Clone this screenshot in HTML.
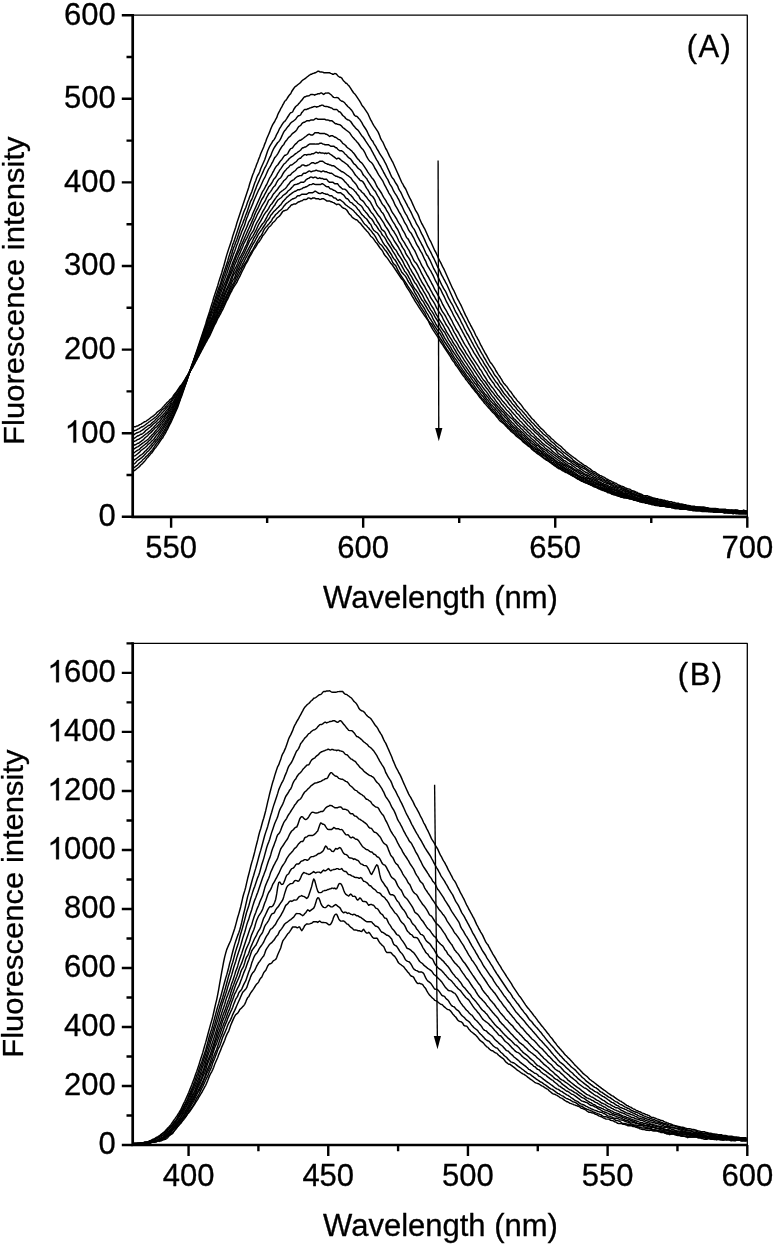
<!DOCTYPE html>
<html><head><meta charset="utf-8"><title>Fluorescence spectra</title>
<style>html,body{margin:0;padding:0;background:#fff}svg{display:block;will-change:transform}</style></head>
<body>
<svg width="774" height="1245" viewBox="0 0 774 1245" font-family="Liberation Sans, sans-serif" font-size="31.0" fill="#000" stroke="#000" stroke-width="0.32" stroke-linejoin="round">
<rect width="774" height="1245" fill="#fff" stroke="none"/>
<g fill="none" stroke="#000" stroke-width="1.45" stroke-linejoin="round">
<path d="M132.7 471.8L133.7 471.0L134.7 470.3L135.7 469.6L136.7 468.8L137.7 468.0L138.7 467.2L139.7 466.4L140.7 465.0L141.7 464.2L142.7 463.4L143.7 462.1L144.7 461.2L145.7 459.8L146.7 458.3L147.7 457.5L148.7 456.1L149.7 455.2L150.7 453.8L151.7 453.0L152.7 451.5L153.7 450.0L154.7 448.5L155.7 447.7L156.7 446.2L157.7 444.8L158.7 443.3L159.7 441.8L160.7 440.3L161.7 438.8L162.7 437.9L163.7 435.8L164.7 434.3L165.7 432.7L166.7 430.5L167.7 428.9L168.7 426.8L169.7 424.6L170.7 422.9L171.7 420.7L172.7 418.5L173.7 416.3L174.7 414.0L175.7 411.8L176.7 409.5L177.7 407.2L178.7 404.3L179.7 401.3L180.7 398.3L181.7 395.9L182.7 393.0L183.7 390.0L184.7 387.0L185.7 384.0L186.7 381.0L187.7 377.9L188.7 374.9L189.7 371.9L190.7 368.3L191.7 365.3L192.7 362.9L193.7 360.0L194.7 357.1L195.7 354.1L196.7 351.0L197.7 348.0L198.7 345.0L199.7 341.9L200.7 338.9L201.7 336.0L202.7 333.1L203.7 330.0L204.7 327.0L205.7 323.9L206.7 320.3L207.7 317.3L208.7 314.3L209.7 311.2L210.7 307.6L211.7 304.5L212.7 301.4L213.7 297.8L214.7 294.8L215.7 291.7L216.7 288.8L217.7 285.7L218.7 282.1L219.7 279.0L220.7 276.0L221.7 273.0L222.7 269.3L223.7 266.2L224.7 262.5L225.7 258.8L226.7 255.1L227.7 252.0L228.7 248.9L229.7 246.0L230.7 243.0L231.7 240.0L232.7 236.3L233.7 233.2L234.7 230.2L235.7 227.2L236.7 223.6L237.7 220.6L238.7 217.6L239.7 214.6L240.7 211.5L241.7 208.5L242.7 205.5L243.7 202.5L244.7 199.5L245.7 196.5L246.7 193.6L247.7 190.5L248.7 187.5L249.7 183.8L250.7 180.8L251.7 177.7L252.7 174.8L253.7 172.5L254.7 169.5L255.7 167.2L256.7 164.3L257.7 162.0L258.7 159.1L259.7 156.7L260.7 153.8L261.7 151.5L262.7 149.3L263.7 147.0L264.7 144.1L265.7 141.7L266.7 138.8L267.7 136.5L268.7 134.2L269.7 131.9L270.7 129.1L271.7 126.8L272.7 124.6L273.7 123.0L274.7 121.5L275.7 119.3L276.7 117.7L277.7 114.8L278.7 112.6L279.7 110.9L280.7 108.7L281.7 107.2L282.7 105.0L283.7 103.4L284.7 101.3L285.7 100.5L286.7 99.1L287.7 97.5L288.7 96.0L289.7 94.6L290.7 93.7L291.7 91.5L292.7 90.0L293.7 88.5L294.7 87.1L295.7 86.3L296.7 85.6L297.7 84.8L298.7 84.0L299.7 83.2L300.7 82.4L301.7 81.0L302.7 80.2L303.7 79.5L304.7 78.8L305.7 78.1L306.7 77.3L307.7 76.5L308.7 75.7L309.7 75.0L310.7 74.3L311.7 74.2L312.7 73.5L313.7 73.4L314.7 72.8L315.7 72.7L316.7 72.0L317.7 71.3L318.7 71.2L319.7 71.9L320.7 72.0L321.7 72.0L322.7 72.1L323.7 72.7L324.7 72.8L325.7 72.7L326.7 72.7L327.7 72.7L328.7 72.7L329.7 72.8L330.7 73.4L331.7 73.6L332.7 74.3L333.7 74.2L334.7 73.5L335.7 73.6L336.7 74.3L337.7 75.7L338.7 76.5L339.7 77.2L340.7 77.3L341.7 78.0L342.7 79.6L343.7 81.0L344.7 81.8L345.7 83.2L346.7 83.3L347.7 84.7L348.7 85.5L349.7 86.9L350.7 88.4L351.7 90.0L352.7 91.5L353.7 93.0L354.7 93.8L355.7 95.2L356.7 96.7L357.7 98.2L358.7 99.7L359.7 101.2L360.7 102.8L361.7 104.9L362.7 106.4L363.7 107.3L364.7 108.8L365.7 110.3L366.7 111.8L367.7 113.3L368.7 115.5L369.7 117.7L370.7 119.9L371.7 121.5L372.7 123.7L373.7 125.3L374.7 126.8L375.7 128.3L376.7 129.8L377.7 131.3L378.7 133.4L379.7 135.8L380.7 138.7L381.7 140.3L382.7 141.8L383.7 144.0L384.7 146.3L385.7 148.5L386.7 150.0L387.7 152.2L388.7 154.4L389.7 156.7L390.7 158.3L391.7 160.4L392.7 162.0L393.7 164.3L394.7 166.5L395.7 168.8L396.7 171.0L397.7 173.2L398.7 175.4L399.7 177.7L400.7 180.0L401.7 182.3L402.7 183.8L403.7 186.0L404.7 187.5L405.7 189.0L406.7 191.3L407.7 193.6L408.7 195.7L409.7 197.9L410.7 199.6L411.7 201.8L412.7 204.1L413.7 206.3L414.7 208.5L415.7 210.7L416.7 212.2L417.7 213.8L418.7 216.1L419.7 219.0L420.7 221.3L421.7 223.5L422.7 225.1L423.7 227.2L424.7 228.8L425.7 231.0L426.7 233.2L427.7 235.5L428.7 237.8L429.7 239.9L430.7 241.5L431.7 243.7L432.7 246.0L433.7 248.3L434.7 250.5L435.7 252.1L436.7 254.3L437.7 256.4L438.7 258.7L439.7 260.9L440.7 262.6L441.7 264.7L442.7 266.9L443.7 268.6L444.7 270.7L445.7 273.0L446.7 275.3L447.7 277.5L448.7 279.8L449.7 282.1L450.7 284.3L451.7 286.5L452.7 288.7L453.7 290.3L454.7 292.5L455.7 294.7L456.7 297.0L457.7 299.2L458.7 300.8L459.7 302.9L460.7 304.6L461.7 306.8L462.7 309.0L463.7 311.2L464.7 313.4L465.7 315.7L466.7 317.3L467.7 319.5L468.7 321.7L469.7 323.3L470.7 325.5L471.7 327.1L472.7 329.2L473.7 330.8L474.7 333.0L475.7 335.3L476.7 336.8L477.7 338.9L478.7 340.5L479.7 342.7L480.7 344.9L481.7 346.5L482.7 348.7L483.7 350.3L484.7 352.4L485.7 354.0L486.7 355.6L487.7 357.7L488.7 359.3L489.7 361.4L490.7 362.9L491.7 363.8L492.7 365.3L493.7 366.8L494.7 368.3L495.7 370.5L496.7 372.0L497.7 373.6L498.7 375.1L499.7 376.5L500.7 378.1L501.7 379.6L502.7 381.7L503.7 383.2L504.7 384.1L505.7 385.5L506.7 386.3L507.7 387.8L508.7 389.3L509.7 390.7L510.7 391.6L511.7 393.1L512.7 394.6L513.7 396.0L514.7 397.5L515.7 398.3L516.7 399.8L517.7 401.2L518.7 402.0L519.7 403.4L520.7 404.3L521.7 405.7L522.7 407.2L523.7 408.7L524.7 409.6L525.7 411.0L526.7 411.8L527.7 413.2L528.7 414.7L529.7 415.6L530.7 417.0L531.7 418.4L532.7 419.2L533.7 420.0L534.7 421.5L535.7 422.3L536.7 423.7L537.7 424.5L538.7 426.0L539.7 426.8L540.7 428.2L541.7 428.9L542.7 429.7L543.7 430.6L544.7 432.0L545.7 432.8L546.7 434.2L547.7 435.0L548.7 435.7L549.7 436.5L550.7 437.9L551.7 438.7L552.7 439.5L553.7 440.3L554.7 441.7L555.7 442.4L556.7 443.2L557.7 444.0L558.7 444.8L559.7 445.5L560.7 446.3L561.7 447.1L562.7 448.4L563.7 449.2L564.7 450.0L565.7 451.4L566.7 452.2L567.7 452.9L568.7 453.7L569.7 454.5L570.7 455.2L571.7 456.0L572.7 456.7L573.7 457.5L574.7 458.2L575.7 458.9L576.7 459.7L577.7 460.5L578.7 461.2L579.7 462.0L580.7 462.7L581.7 463.4L582.7 464.2L583.7 464.9L584.7 465.7L585.7 465.8L586.7 466.5L587.7 467.3L588.7 468.0L589.7 468.7L590.7 469.4L591.7 470.2L592.7 471.0L593.7 471.7L594.7 471.8L595.7 472.5L596.7 473.3L597.7 474.0L598.7 474.7L599.7 475.4L600.7 475.6L601.7 476.2L602.7 476.9L603.7 477.0L604.7 477.7L605.7 478.4L606.7 479.2L607.7 479.3L608.7 480.0L609.7 480.7L610.7 480.8L611.7 481.5L612.7 482.2L613.7 482.3L614.7 483.0L615.7 483.1L616.7 483.8L617.7 484.5L618.7 485.2L619.7 485.3L620.7 485.9L621.7 486.1L622.7 486.7L623.7 486.8L624.7 487.5L625.7 488.2L626.7 488.3L627.7 488.9L628.7 489.0L629.7 489.1L630.7 489.8L631.7 490.5L632.7 490.6L633.7 491.2L634.7 491.3L635.7 491.9L636.7 492.1L637.7 492.8L638.7 493.4L639.7 493.5L640.7 494.2L641.7 494.3L642.7 495.0L643.7 495.7L644.7 495.7L645.7 495.8L646.7 495.8L647.7 495.8L648.7 496.5L649.7 496.5L650.7 497.2L651.7 497.3L652.7 497.9L653.7 498.0L654.7 498.1L655.7 498.7L656.7 498.7L657.7 498.8L658.7 499.4L659.7 499.5L660.7 499.5L661.7 499.6L662.7 500.2L663.7 500.2L664.7 500.3L665.7 500.9L666.7 501.0L667.7 501.0L668.7 501.7L669.7 501.8L670.7 501.8L671.7 501.8L672.7 502.4L673.7 502.5L674.7 502.5L675.7 503.2L676.7 503.2L677.7 503.3L678.7 503.3L679.7 504.0L680.7 504.0L681.7 504.0L682.7 504.1L683.7 504.7L684.7 504.7L685.7 504.8L686.7 505.4L687.7 505.5L688.7 505.5L689.7 505.6L690.7 506.2L691.7 506.3L692.7 506.3L693.7 506.3L694.7 506.3L695.7 507.0L696.7 507.0L697.7 506.9L698.7 506.9L699.7 507.0L700.7 507.0L701.7 507.0L702.7 507.0L703.7 507.0L704.7 507.1L705.7 507.7L706.7 507.8L707.7 507.8L708.7 508.4L709.7 508.5L710.7 508.5L711.7 508.5L712.7 508.5L713.7 508.4L714.7 508.5L715.7 508.5L716.7 508.6L717.7 508.6L718.7 509.2L719.7 509.2L720.7 509.2L721.7 509.3L722.7 509.3L723.7 509.3L724.7 509.3L725.7 509.3L726.7 509.9L727.7 509.9L728.7 509.9L729.7 510.0L730.7 510.0L731.7 510.0L732.7 510.0L733.7 510.0L734.7 510.0L735.7 510.0L736.7 510.0L737.7 510.0L738.7 510.7L739.7 510.7L740.7 510.7L741.7 510.7L742.7 510.7L743.7 510.1L744.7 510.7L745.7 510.7L746.7 510.8"/>
<path d="M132.7 468.7L133.7 467.9L134.7 467.2L135.7 466.4L136.7 465.7L137.7 464.9L138.7 463.6L139.7 462.8L140.7 462.0L141.7 461.2L142.7 459.8L143.7 459.0L144.7 458.2L145.7 456.8L146.7 456.0L147.7 455.2L148.7 453.8L149.7 453.0L150.7 451.6L151.7 450.7L152.7 449.3L153.7 447.8L154.7 446.3L155.7 444.8L156.7 443.3L157.7 442.4L158.7 441.0L159.7 439.5L160.7 438.1L161.7 436.6L162.7 435.1L163.7 433.5L164.7 431.9L165.7 429.8L166.7 428.3L167.7 426.7L168.7 424.5L169.7 422.9L170.7 420.8L171.7 418.6L172.7 416.9L173.7 414.7L174.7 412.5L175.7 410.3L176.7 408.0L177.7 405.1L178.7 402.7L179.7 400.4L180.7 397.5L181.7 394.6L182.7 391.6L183.7 388.5L184.7 386.2L185.7 383.3L186.7 380.9L187.7 377.9L188.7 374.9L189.7 371.9L190.7 369.0L191.7 366.7L192.7 363.7L193.7 360.1L194.7 357.7L195.7 354.8L196.7 352.5L197.7 349.5L198.7 346.5L199.7 343.5L200.7 340.4L201.7 337.5L202.7 334.5L203.7 331.5L204.7 328.6L205.7 326.2L206.7 323.3L207.7 320.3L208.7 317.3L209.7 314.3L210.7 311.9L211.7 308.9L212.7 305.9L213.7 302.9L214.7 300.0L215.7 296.9L216.7 293.9L217.7 291.0L218.7 288.1L219.7 285.7L220.7 282.7L221.7 279.1L222.7 276.0L223.7 273.1L224.7 270.0L225.7 267.0L226.7 264.0L227.7 261.0L228.7 257.3L229.7 254.2L230.7 251.3L231.7 248.2L232.7 244.6L233.7 242.2L234.7 239.2L235.7 236.3L236.7 233.3L237.7 230.3L238.7 227.3L239.7 224.2L240.7 221.3L241.7 218.3L242.7 215.3L243.7 212.2L244.7 209.9L245.7 207.7L246.7 204.8L247.7 201.8L248.7 199.5L249.7 196.6L250.7 194.3L251.7 192.0L252.7 189.0L253.7 186.0L254.7 183.0L255.7 180.7L256.7 177.8L257.7 175.5L258.7 174.0L259.7 171.8L260.7 168.8L261.7 166.5L262.7 164.2L263.7 162.0L264.7 159.7L265.7 156.7L266.7 153.7L267.7 150.8L268.7 148.5L269.7 146.3L270.7 144.7L271.7 143.2L272.7 141.1L273.7 140.2L274.7 138.7L275.7 136.6L276.7 134.3L277.7 132.7L278.7 130.5L279.7 128.3L280.7 126.8L281.7 125.2L282.7 123.7L283.7 122.2L284.7 121.5L285.7 120.1L286.7 118.6L287.7 117.0L288.7 115.5L289.7 113.9L290.7 112.6L291.7 112.5L292.7 111.7L293.7 109.5L294.7 108.0L295.7 106.5L296.7 105.7L297.7 105.0L298.7 103.6L299.7 102.7L300.7 101.3L301.7 100.4L302.7 99.0L303.7 97.6L304.7 96.8L305.7 96.7L306.7 96.0L307.7 96.0L308.7 95.9L309.7 95.3L310.7 94.5L311.7 94.4L312.7 94.5L313.7 94.6L314.7 95.2L315.7 94.5L316.7 94.4L317.7 93.8L318.7 93.7L319.7 93.7L320.7 93.0L321.7 93.0L322.7 93.8L323.7 94.4L324.7 93.7L325.7 93.0L326.7 93.1L327.7 93.0L328.7 93.0L329.7 93.7L330.7 94.5L331.7 95.3L332.7 96.7L333.7 97.4L334.7 97.6L335.7 97.6L336.7 97.5L337.7 97.6L338.7 98.3L339.7 99.7L340.7 100.5L341.7 101.2L342.7 101.3L343.7 102.0L344.7 102.8L345.7 104.2L346.7 105.1L347.7 106.5L348.7 107.3L349.7 108.1L350.7 109.4L351.7 110.3L352.7 111.8L353.7 114.0L354.7 115.5L355.7 116.2L356.7 116.3L357.7 117.1L358.7 118.5L359.7 119.3L360.7 120.8L361.7 122.3L362.7 124.4L363.7 126.0L364.7 127.5L365.7 129.0L366.7 130.6L367.7 132.8L368.7 135.0L369.7 136.6L370.7 138.7L371.7 140.2L372.7 141.1L373.7 143.3L374.7 144.8L375.7 146.3L376.7 148.4L377.7 150.0L378.7 151.6L379.7 153.7L380.7 155.2L381.7 156.7L382.7 158.2L383.7 159.8L384.7 161.9L385.7 163.6L386.7 165.8L387.7 168.1L388.7 170.2L389.7 172.4L390.7 174.7L391.7 176.9L392.7 178.4L393.7 179.3L394.7 181.4L395.7 183.0L396.7 184.5L397.7 186.1L398.7 188.9L399.7 190.6L400.7 192.1L401.7 194.3L402.7 196.5L403.7 198.7L404.7 200.3L405.7 202.4L406.7 204.1L407.7 206.3L408.7 207.8L409.7 209.9L410.7 211.6L411.7 213.8L412.7 216.0L413.7 218.2L414.7 219.8L415.7 222.0L416.7 224.2L417.7 225.7L418.7 227.3L419.7 229.5L420.7 231.7L421.7 233.9L422.7 235.6L423.7 237.7L424.7 239.9L425.7 242.2L426.7 244.5L427.7 246.7L428.7 248.3L429.7 250.4L430.7 252.1L431.7 254.3L432.7 256.5L433.7 258.1L434.7 260.2L435.7 262.4L436.7 264.7L437.7 267.0L438.7 268.6L439.7 270.7L440.7 272.9L441.7 275.2L442.7 276.8L443.7 278.9L444.7 280.5L445.7 282.7L446.7 284.3L447.7 286.5L448.7 288.8L449.7 291.0L450.7 293.3L451.7 295.5L452.7 297.7L453.7 299.9L454.7 302.2L455.7 303.8L456.7 305.9L457.7 307.6L458.7 309.7L459.7 311.3L460.7 313.5L461.7 315.0L462.7 317.2L463.7 318.8L464.7 321.0L465.7 322.6L466.7 324.7L467.7 326.9L468.7 328.6L469.7 330.7L470.7 332.3L471.7 334.5L472.7 336.7L473.7 338.3L474.7 340.5L475.7 342.7L476.7 344.3L477.7 346.4L478.7 348.0L479.7 349.6L480.7 351.7L481.7 353.3L482.7 354.8L483.7 356.9L484.7 358.5L485.7 360.0L486.7 362.2L487.7 363.7L488.7 365.3L489.7 366.8L490.7 368.3L491.7 369.8L492.7 371.3L493.7 373.4L494.7 375.0L495.7 376.4L496.7 377.3L497.7 378.8L498.7 380.3L499.7 382.4L500.7 383.9L501.7 384.8L502.7 386.3L503.7 387.8L504.7 389.2L505.7 390.7L506.7 391.5L507.7 393.0L508.7 394.5L509.7 396.0L510.7 396.8L511.7 398.2L512.7 399.7L513.7 401.2L514.7 402.1L515.7 403.5L516.7 405.0L517.7 406.4L518.7 407.3L519.7 408.7L520.7 409.5L521.7 410.3L522.7 411.7L523.7 412.6L524.7 414.0L525.7 414.8L526.7 416.3L527.7 417.7L528.7 418.5L529.7 419.9L530.7 420.8L531.7 422.2L532.7 423.0L533.7 423.8L534.7 425.2L535.7 426.1L536.7 427.4L537.7 428.2L538.7 429.0L539.7 430.4L540.7 431.3L541.7 432.1L542.7 433.5L543.7 434.3L544.7 435.0L545.7 435.8L546.7 436.5L547.7 437.3L548.7 438.7L549.7 439.5L550.7 440.9L551.7 441.7L552.7 442.5L553.7 443.3L554.7 444.1L555.7 445.4L556.7 446.2L557.7 447.0L558.7 447.8L559.7 448.5L560.7 449.3L561.7 450.7L562.7 451.5L563.7 452.3L564.7 453.0L565.7 453.7L566.7 454.5L567.7 455.3L568.7 456.0L569.7 456.8L570.7 457.6L571.7 458.3L572.7 459.7L573.7 460.5L574.7 461.2L575.7 462.0L576.7 462.7L577.7 463.4L578.7 464.2L579.7 464.3L580.7 465.0L581.7 465.7L582.7 466.4L583.7 466.6L584.7 467.3L585.7 468.0L586.7 468.8L587.7 469.5L588.7 470.3L589.7 471.0L590.7 471.1L591.7 471.8L592.7 472.6L593.7 473.2L594.7 473.9L595.7 474.0L596.7 474.8L597.7 475.5L598.7 476.2L599.7 476.9L600.7 477.7L601.7 477.8L602.7 478.5L603.7 479.2L604.7 479.9L605.7 480.1L606.7 480.7L607.7 480.8L608.7 481.5L609.7 482.2L610.7 483.0L611.7 483.1L612.7 483.7L613.7 483.8L614.7 484.5L615.7 485.3L616.7 485.9L617.7 486.0L618.7 486.1L619.7 486.7L620.7 486.8L621.7 487.5L622.7 488.2L623.7 488.3L624.7 489.0L625.7 489.7L626.7 489.7L627.7 490.4L628.7 490.5L629.7 491.2L630.7 491.2L631.7 491.3L632.7 492.0L633.7 492.1L634.7 492.7L635.7 492.8L636.7 493.5L637.7 493.5L638.7 494.2L639.7 494.3L640.7 495.0L641.7 495.1L642.7 495.7L643.7 495.8L644.7 495.8L645.7 496.5L646.7 497.2L647.7 497.2L648.7 497.3L649.7 497.9L650.7 498.0L651.7 498.1L652.7 498.7L653.7 498.7L654.7 498.8L655.7 499.4L656.7 499.5L657.7 499.5L658.7 499.6L659.7 500.2L660.7 500.3L661.7 500.9L662.7 501.0L663.7 501.0L664.7 501.1L665.7 501.7L666.7 501.8L667.7 502.4L668.7 502.5L669.7 503.2L670.7 503.2L671.7 503.3L672.7 503.9L673.7 504.0L674.7 504.0L675.7 504.1L676.7 504.1L677.7 504.7L678.7 504.7L679.7 504.7L680.7 504.8L681.7 504.8L682.7 504.8L683.7 505.4L684.7 505.5L685.7 505.5L686.7 505.5L687.7 505.6L688.7 506.2L689.7 506.3L690.7 506.3L691.7 506.9L692.7 507.0L693.7 507.0L694.7 507.0L695.7 507.0L696.7 507.0L697.7 507.0L698.7 507.1L699.7 507.1L700.7 507.7L701.7 507.7L702.7 507.7L703.7 507.7L704.7 507.7L705.7 507.7L706.7 507.8L707.7 507.8L708.7 508.4L709.7 508.5L710.7 508.6L711.7 509.2L712.7 509.2L713.7 509.2L714.7 509.2L715.7 509.3L716.7 509.3L717.7 509.3L718.7 509.9L719.7 510.0L720.7 510.0L721.7 510.0L722.7 510.0L723.7 510.0L724.7 510.0L725.7 510.1L726.7 510.1L727.7 510.1L728.7 510.7L729.7 510.7L730.7 510.7L731.7 510.1L732.7 510.7L733.7 510.7L734.7 510.7L735.7 510.1L736.7 510.7L737.7 510.7L738.7 510.8L739.7 510.8L740.7 510.8L741.7 510.8L742.7 510.8L743.7 510.8L744.7 510.8L745.7 510.8L746.7 510.8"/>
<path d="M132.7 465.0L133.7 464.2L134.7 463.5L135.7 462.7L136.7 461.3L137.7 460.5L138.7 459.8L139.7 459.1L140.7 458.3L141.7 457.6L142.7 456.7L143.7 455.9L144.7 454.6L145.7 453.7L146.7 452.3L147.7 451.5L148.7 450.7L149.7 449.3L150.7 448.4L151.7 447.0L152.7 445.5L153.7 444.7L154.7 443.3L155.7 441.8L156.7 441.0L157.7 439.5L158.7 438.7L159.7 437.2L160.7 435.7L161.7 434.2L162.7 432.7L163.7 431.2L164.7 429.7L165.7 427.6L166.7 426.1L167.7 424.6L168.7 423.0L169.7 421.4L170.7 419.3L171.7 417.1L172.7 415.5L173.7 413.3L174.7 411.7L175.7 409.5L176.7 407.2L177.7 404.3L178.7 402.0L179.7 399.7L180.7 396.7L181.7 393.8L182.7 391.5L183.7 389.2L184.7 386.3L185.7 384.0L186.7 381.0L187.7 378.0L188.7 375.0L189.7 372.0L190.7 369.1L191.7 366.7L192.7 363.7L193.7 360.7L194.7 357.8L195.7 354.8L196.7 352.4L197.7 349.5L198.7 346.6L199.7 344.2L200.7 341.3L201.7 339.0L202.7 336.0L203.7 333.7L204.7 330.8L205.7 328.4L206.7 325.4L207.7 322.5L208.7 320.2L209.7 317.3L210.7 314.2L211.7 311.3L212.7 309.0L213.7 306.0L214.7 303.0L215.7 300.0L216.7 297.1L217.7 294.7L218.7 291.7L219.7 288.7L220.7 285.7L221.7 282.7L222.7 279.8L223.7 276.8L224.7 274.5L225.7 271.5L226.7 268.5L227.7 265.5L228.7 262.5L229.7 260.2L230.7 257.2L231.7 254.2L232.7 250.5L233.7 247.5L234.7 245.2L235.7 242.3L236.7 240.0L237.7 237.0L238.7 234.0L239.7 231.0L240.7 228.0L241.7 225.7L242.7 223.5L243.7 220.6L244.7 218.2L245.7 215.3L246.7 212.9L247.7 210.0L248.7 207.0L249.7 204.0L250.7 201.1L251.7 199.5L252.7 197.2L253.7 194.3L254.7 191.3L255.7 188.9L256.7 186.1L257.7 183.8L258.7 181.6L259.7 179.3L260.7 177.0L261.7 174.8L262.7 172.6L263.7 170.3L264.7 168.0L265.7 166.4L266.7 164.3L267.7 162.0L268.7 159.7L269.7 157.5L270.7 155.9L271.7 153.0L272.7 150.8L273.7 148.6L274.7 147.0L275.7 145.5L276.7 144.0L277.7 142.5L278.7 141.7L279.7 140.3L280.7 138.7L281.7 136.4L282.7 134.2L283.7 132.1L284.7 130.6L285.7 129.7L286.7 128.2L287.7 126.8L288.7 125.9L289.7 124.4L290.7 123.0L291.7 122.2L292.7 121.5L293.7 120.8L294.7 120.0L295.7 119.2L296.7 117.7L297.7 116.3L298.7 115.6L299.7 115.5L300.7 114.7L301.7 112.6L302.7 111.7L303.7 110.3L304.7 109.5L305.7 109.4L306.7 109.4L307.7 108.8L308.7 108.7L309.7 108.0L310.7 107.9L311.7 107.3L312.7 107.2L313.7 106.6L314.7 106.5L315.7 106.6L316.7 107.2L317.7 106.6L318.7 106.5L319.7 105.8L320.7 105.7L321.7 105.1L322.7 105.1L323.7 105.8L324.7 106.4L325.7 106.5L326.7 106.5L327.7 106.6L328.7 107.2L329.7 107.3L330.7 107.9L331.7 108.0L332.7 108.8L333.7 109.5L334.7 109.5L335.7 109.5L336.7 109.5L337.7 110.3L338.7 111.7L339.7 111.8L340.7 112.6L341.7 114.0L342.7 115.5L343.7 116.2L344.7 117.0L345.7 118.5L346.7 119.2L347.7 119.9L348.7 120.0L349.7 120.7L350.7 121.5L351.7 123.0L352.7 124.5L353.7 125.9L354.7 126.8L355.7 128.3L356.7 129.1L357.7 129.8L358.7 131.2L359.7 132.7L360.7 134.2L361.7 135.7L362.7 136.6L363.7 138.0L364.7 139.5L365.7 141.1L366.7 142.6L367.7 144.1L368.7 145.6L369.7 147.0L370.7 148.5L371.7 150.7L372.7 152.3L373.7 154.4L374.7 156.0L375.7 158.2L376.7 159.8L377.7 161.3L378.7 163.4L379.7 165.0L380.7 166.5L381.7 168.7L382.7 170.3L383.7 172.5L384.7 174.1L385.7 176.2L386.7 177.8L387.7 179.3L388.7 181.6L389.7 183.8L390.7 185.3L391.7 186.8L392.7 189.0L393.7 191.2L394.7 192.8L395.7 194.3L396.7 195.8L397.7 197.9L398.7 199.5L399.7 201.7L400.7 204.0L401.7 205.6L402.7 207.7L403.7 210.0L404.7 212.2L405.7 213.8L406.7 215.3L407.7 217.5L408.7 219.7L409.7 221.2L410.7 223.4L411.7 225.7L412.7 227.3L413.7 228.7L414.7 230.2L415.7 232.4L416.7 234.7L417.7 236.9L418.7 238.6L419.7 240.7L420.7 242.3L421.7 244.5L422.7 246.1L423.7 248.3L424.7 250.5L425.7 252.8L426.7 254.9L427.7 255.8L428.7 258.0L429.7 259.6L430.7 261.7L431.7 264.0L432.7 266.2L433.7 268.5L434.7 270.1L435.7 272.2L436.7 273.8L437.7 276.1L438.7 278.3L439.7 280.6L440.7 282.8L441.7 284.9L442.7 286.6L443.7 288.7L444.7 290.2L445.7 291.7L446.7 293.9L447.7 296.2L448.7 298.4L449.7 300.0L450.7 302.2L451.7 303.7L452.7 305.3L453.7 307.5L454.7 309.8L455.7 311.9L456.7 313.5L457.7 315.1L458.7 317.2L459.7 318.8L460.7 321.0L461.7 323.2L462.7 324.8L463.7 327.0L464.7 329.2L465.7 330.8L466.7 333.0L467.7 334.5L468.7 336.1L469.7 338.2L470.7 339.8L471.7 341.9L472.7 343.5L473.7 345.7L474.7 347.3L475.7 348.8L476.7 351.0L477.7 352.6L478.7 354.7L479.7 356.3L480.7 357.8L481.7 359.3L482.7 360.8L483.7 362.9L484.7 364.5L485.7 366.0L486.7 367.5L487.7 369.1L488.7 371.2L489.7 372.7L490.7 374.2L491.7 375.7L492.7 377.2L493.7 378.7L494.7 380.2L495.7 381.7L496.7 382.6L497.7 384.0L498.7 385.6L499.7 387.1L500.7 388.5L501.7 390.0L502.7 391.5L503.7 393.0L504.7 394.4L505.7 395.3L506.7 396.7L507.7 397.6L508.7 399.0L509.7 400.4L510.7 401.3L511.7 402.8L512.7 404.2L513.7 405.0L514.7 406.5L515.7 407.3L516.7 408.8L517.7 410.2L518.7 411.0L519.7 411.8L520.7 413.3L521.7 414.7L522.7 415.5L523.7 417.0L524.7 417.8L525.7 419.2L526.7 420.1L527.7 421.5L528.7 422.3L529.7 423.1L530.7 424.5L531.7 425.3L532.7 426.7L533.7 428.2L534.7 429.0L535.7 430.4L536.7 431.2L537.7 432.0L538.7 432.8L539.7 434.2L540.7 435.0L541.7 435.8L542.7 436.6L543.7 437.9L544.7 438.8L545.7 439.5L546.7 440.3L547.7 441.7L548.7 442.4L549.7 443.2L550.7 443.9L551.7 444.7L552.7 445.5L553.7 446.3L554.7 447.0L555.7 448.4L556.7 449.2L557.7 450.0L558.7 450.7L559.7 451.5L560.7 452.3L561.7 453.0L562.7 453.8L563.7 455.2L564.7 456.0L565.7 456.8L566.7 457.5L567.7 458.2L568.7 459.0L569.7 459.7L570.7 460.5L571.7 461.2L572.7 461.3L573.7 462.1L574.7 462.8L575.7 463.6L576.7 464.3L577.7 464.9L578.7 465.7L579.7 466.4L580.7 467.2L581.7 467.3L582.7 468.0L583.7 468.7L584.7 468.8L585.7 469.5L586.7 470.3L587.7 471.0L588.7 471.8L589.7 472.5L590.7 473.2L591.7 473.9L592.7 474.0L593.7 474.8L594.7 475.5L595.7 476.2L596.7 476.9L597.7 477.1L598.7 477.8L599.7 478.5L600.7 479.2L601.7 479.9L602.7 480.0L603.7 480.1L604.7 480.8L605.7 481.5L606.7 482.2L607.7 482.3L608.7 483.0L609.7 483.7L610.7 483.8L611.7 484.5L612.7 485.2L613.7 485.9L614.7 486.0L615.7 486.7L616.7 486.8L617.7 487.5L618.7 487.5L619.7 487.6L620.7 488.2L621.7 488.9L622.7 489.0L623.7 489.7L624.7 489.8L625.7 490.5L626.7 491.2L627.7 491.3L628.7 491.9L629.7 492.1L630.7 492.8L631.7 492.8L632.7 493.5L633.7 493.6L634.7 494.2L635.7 494.3L636.7 494.9L637.7 495.0L638.7 495.7L639.7 495.8L640.7 495.8L641.7 496.5L642.7 496.5L643.7 497.2L644.7 497.2L645.7 497.3L646.7 497.9L647.7 498.0L648.7 498.1L649.7 498.7L650.7 498.7L651.7 498.8L652.7 499.4L653.7 499.5L654.7 500.2L655.7 500.2L656.7 500.3L657.7 500.9L658.7 501.0L659.7 501.0L660.7 501.0L661.7 501.7L662.7 501.7L663.7 501.8L664.7 502.4L665.7 502.5L666.7 503.2L667.7 503.2L668.7 503.3L669.7 503.3L670.7 503.9L671.7 504.0L672.7 504.0L673.7 504.1L674.7 504.7L675.7 504.7L676.7 504.8L677.7 504.8L678.7 504.8L679.7 505.4L680.7 505.5L681.7 505.5L682.7 505.6L683.7 506.2L684.7 506.2L685.7 506.3L686.7 506.9L687.7 507.0L688.7 507.1L689.7 507.7L690.7 507.7L691.7 507.7L692.7 507.1L693.7 507.0L694.7 507.0L695.7 507.1L696.7 507.7L697.7 507.8L698.7 507.8L699.7 507.8L700.7 507.8L701.7 507.8L702.7 507.8L703.7 508.4L704.7 508.5L705.7 508.5L706.7 508.5L707.7 508.5L708.7 508.6L709.7 509.2L710.7 509.2L711.7 509.3L712.7 509.3L713.7 509.2L714.7 509.2L715.7 509.3L716.7 509.9L717.7 509.9L718.7 509.9L719.7 509.9L720.7 509.9L721.7 510.0L722.7 510.0L723.7 510.0L724.7 510.1L725.7 510.1L726.7 510.0L727.7 510.0L728.7 510.0L729.7 510.1L730.7 510.7L731.7 510.7L732.7 510.7L733.7 510.7L734.7 510.8L735.7 510.8L736.7 511.4L737.7 511.4L738.7 510.8L739.7 510.8L740.7 510.8L741.7 510.8L742.7 510.8L743.7 510.8L744.7 511.4L745.7 511.5L746.7 511.5"/>
<path d="M132.7 460.6L133.7 460.4L134.7 459.7L135.7 459.0L136.7 458.3L137.7 457.5L138.7 456.7L139.7 455.9L140.7 455.2L141.7 454.5L142.7 453.7L143.7 452.9L144.7 451.5L145.7 450.7L146.7 449.9L147.7 448.5L148.7 447.7L149.7 446.3L150.7 445.5L151.7 444.1L152.7 443.2L153.7 441.8L154.7 440.9L155.7 439.5L156.7 438.7L157.7 437.2L158.7 435.7L159.7 434.2L160.7 432.7L161.7 431.3L162.7 429.8L163.7 428.2L164.7 426.7L165.7 425.2L166.7 423.7L167.7 422.2L168.7 420.1L169.7 418.5L170.7 416.9L171.7 414.8L172.7 413.2L173.7 411.1L174.7 409.5L175.7 407.3L176.7 405.0L177.7 402.7L178.7 399.8L179.7 397.5L180.7 395.3L181.7 393.0L182.7 390.7L183.7 387.8L184.7 384.8L185.7 382.4L186.7 379.5L187.7 376.6L188.7 374.2L189.7 371.3L190.7 369.0L191.7 366.0L192.7 363.1L193.7 360.7L194.7 357.8L195.7 355.5L196.7 353.3L197.7 351.0L198.7 348.1L199.7 345.8L200.7 343.4L201.7 340.5L202.7 338.2L203.7 335.3L204.7 332.9L205.7 330.0L206.7 327.1L207.7 324.8L208.7 322.5L209.7 320.2L210.7 317.2L211.7 314.3L212.7 312.0L213.7 309.7L214.7 306.7L215.7 303.8L216.7 300.7L217.7 297.8L218.7 295.4L219.7 292.5L220.7 289.6L221.7 287.3L222.7 284.3L223.7 281.3L224.7 279.0L225.7 276.1L226.7 273.7L227.7 270.7L228.7 267.7L229.7 264.7L230.7 261.7L231.7 259.4L232.7 256.5L233.7 253.6L234.7 251.2L235.7 248.2L236.7 245.3L237.7 243.0L238.7 240.1L239.7 237.1L240.7 234.7L241.7 231.8L242.7 229.6L243.7 227.3L244.7 224.9L245.7 221.3L246.7 218.3L247.7 216.0L248.7 213.1L249.7 210.8L250.7 208.6L251.7 206.2L252.7 203.9L253.7 201.1L254.7 198.8L255.7 196.5L256.7 194.2L257.7 192.0L258.7 189.8L259.7 188.2L260.7 186.0L261.7 183.7L262.7 181.5L263.7 179.3L264.7 177.7L265.7 175.5L266.7 173.2L267.7 170.9L268.7 168.8L269.7 167.3L270.7 165.7L271.7 163.5L272.7 161.9L273.7 159.7L274.7 157.6L275.7 156.7L276.7 155.3L277.7 153.8L278.7 152.2L279.7 150.1L280.7 148.5L281.7 146.9L282.7 145.5L283.7 144.7L284.7 142.6L285.7 141.1L286.7 140.2L287.7 138.7L288.7 137.3L289.7 136.6L290.7 135.7L291.7 134.3L292.7 133.4L293.7 132.7L294.7 131.9L295.7 131.2L296.7 129.8L297.7 128.2L298.7 126.7L299.7 126.0L300.7 125.3L301.7 123.8L302.7 122.9L303.7 122.3L304.7 122.2L305.7 121.5L306.7 120.8L307.7 120.8L308.7 120.8L309.7 120.7L310.7 120.0L311.7 120.0L312.7 120.0L313.7 120.0L314.7 119.2L315.7 118.5L316.7 118.5L317.7 119.2L318.7 119.2L319.7 119.3L320.7 119.3L321.7 119.3L322.7 119.3L323.7 119.3L324.7 119.2L325.7 119.9L326.7 120.0L327.7 120.0L328.7 120.1L329.7 120.8L330.7 120.8L331.7 120.7L332.7 121.4L333.7 122.2L334.7 123.1L335.7 123.8L336.7 123.8L337.7 124.4L338.7 124.5L339.7 124.6L340.7 125.3L341.7 126.1L342.7 127.5L343.7 128.2L344.7 128.9L345.7 129.7L346.7 130.5L347.7 131.2L348.7 132.0L349.7 132.8L350.7 134.3L351.7 135.8L352.7 137.2L353.7 138.1L354.7 139.5L355.7 140.3L356.7 141.7L357.7 142.6L358.7 144.0L359.7 145.5L360.7 147.0L361.7 148.4L362.7 149.2L363.7 150.7L364.7 152.3L365.7 154.5L366.7 156.7L367.7 158.3L368.7 159.8L369.7 161.2L370.7 162.0L371.7 162.8L372.7 164.2L373.7 165.8L374.7 168.0L375.7 169.5L376.7 171.1L377.7 173.2L378.7 174.8L379.7 176.3L380.7 177.8L381.7 179.3L382.7 180.8L383.7 183.0L384.7 185.2L385.7 186.8L386.7 188.9L387.7 190.6L388.7 192.8L389.7 194.3L390.7 195.8L391.7 198.0L392.7 199.6L393.7 201.8L394.7 204.1L395.7 206.2L396.7 207.7L397.7 209.3L398.7 211.4L399.7 213.0L400.7 214.5L401.7 216.7L402.7 218.3L403.7 220.5L404.7 222.7L405.7 224.2L406.7 225.7L407.7 228.0L408.7 230.2L409.7 231.7L410.7 232.6L411.7 234.1L412.7 236.2L413.7 237.8L414.7 240.0L415.7 242.2L416.7 244.4L417.7 246.0L418.7 247.5L419.7 249.7L420.7 251.3L421.7 252.8L422.7 255.0L423.7 257.3L424.7 259.5L425.7 261.1L426.7 263.9L427.7 266.2L428.7 267.7L429.7 269.3L430.7 270.8L431.7 272.9L432.7 274.6L433.7 276.8L434.7 279.0L435.7 281.2L436.7 282.8L437.7 284.9L438.7 286.5L439.7 288.0L440.7 289.5L441.7 291.7L442.7 293.9L443.7 295.6L444.7 297.8L445.7 300.0L446.7 302.2L447.7 303.8L448.7 305.9L449.7 307.5L450.7 309.7L451.7 311.3L452.7 313.5L453.7 315.7L454.7 317.3L455.7 319.5L456.7 321.1L457.7 322.6L458.7 324.7L459.7 326.3L460.7 328.4L461.7 330.0L462.7 332.2L463.7 333.8L464.7 336.0L465.7 337.5L466.7 339.7L467.7 341.3L468.7 343.5L469.7 345.0L470.7 347.2L471.7 348.7L472.7 350.3L473.7 352.4L474.7 353.9L475.7 355.4L476.7 357.0L477.7 358.5L478.7 360.1L479.7 362.2L480.7 363.7L481.7 365.3L482.7 366.7L483.7 368.2L484.7 369.8L485.7 371.3L486.7 372.8L487.7 374.9L488.7 376.4L489.7 378.0L490.7 379.5L491.7 380.9L492.7 382.4L493.7 383.3L494.7 385.4L495.7 386.9L496.7 387.8L497.7 389.2L498.7 390.1L499.7 391.5L500.7 393.0L501.7 394.5L502.7 395.9L503.7 396.8L504.7 398.3L505.7 399.7L506.7 400.6L507.7 402.0L508.7 403.5L509.7 404.9L510.7 405.8L511.7 407.2L512.7 408.7L513.7 409.5L514.7 410.3L515.7 411.7L516.7 413.2L517.7 414.0L518.7 414.8L519.7 416.2L520.7 417.7L521.7 418.5L522.7 419.3L523.7 420.7L524.7 421.5L525.7 422.9L526.7 423.8L527.7 425.2L528.7 426.0L529.7 426.8L530.7 428.2L531.7 429.0L532.7 429.8L533.7 430.6L534.7 432.0L535.7 432.8L536.7 433.6L537.7 434.3L538.7 435.7L539.7 436.5L540.7 437.9L541.7 438.7L542.7 439.5L543.7 440.3L544.7 441.1L545.7 442.4L546.7 443.2L547.7 444.0L548.7 444.7L549.7 445.5L550.7 446.3L551.7 447.7L552.7 447.8L553.7 448.6L554.7 449.3L555.7 450.1L556.7 451.5L557.7 452.9L558.7 453.7L559.7 454.5L560.7 455.2L561.7 456.0L562.7 456.7L563.7 457.5L564.7 458.2L565.7 458.3L566.7 459.1L567.7 459.8L568.7 460.5L569.7 461.3L570.7 462.0L571.7 462.8L572.7 463.6L573.7 464.3L574.7 465.0L575.7 465.7L576.7 466.4L577.7 466.6L578.7 467.3L579.7 468.7L580.7 468.8L581.7 469.5L582.7 470.3L583.7 471.0L584.7 471.7L585.7 472.4L586.7 472.5L587.7 473.2L588.7 473.9L589.7 474.7L590.7 474.8L591.7 475.5L592.7 476.2L593.7 476.9L594.7 477.7L595.7 477.8L596.7 478.5L597.7 479.2L598.7 479.3L599.7 480.0L600.7 480.7L601.7 480.8L602.7 481.5L603.7 482.2L604.7 482.3L605.7 483.0L606.7 483.7L607.7 483.7L608.7 483.8L609.7 484.5L610.7 485.2L611.7 486.0L612.7 486.1L613.7 486.8L614.7 487.5L615.7 487.6L616.7 488.2L617.7 488.3L618.7 489.0L619.7 489.1L620.7 489.7L621.7 489.8L622.7 490.4L623.7 490.5L624.7 491.2L625.7 491.3L626.7 492.0L627.7 492.1L628.7 492.7L629.7 492.8L630.7 493.5L631.7 493.6L632.7 494.2L633.7 494.3L634.7 494.3L635.7 495.0L636.7 495.0L637.7 495.7L638.7 495.8L639.7 496.5L640.7 496.5L641.7 497.2L642.7 497.3L643.7 497.9L644.7 498.0L645.7 498.1L646.7 498.7L647.7 498.7L648.7 498.8L649.7 499.4L650.7 499.5L651.7 499.6L652.7 500.2L653.7 500.2L654.7 500.2L655.7 500.3L656.7 501.0L657.7 501.0L658.7 501.7L659.7 501.7L660.7 501.8L661.7 502.4L662.7 502.5L663.7 502.6L664.7 503.2L665.7 503.2L666.7 503.2L667.7 503.2L668.7 503.3L669.7 503.9L670.7 504.0L671.7 504.0L672.7 504.7L673.7 504.7L674.7 504.8L675.7 505.4L676.7 505.4L677.7 504.8L678.7 505.4L679.7 505.5L680.7 505.6L681.7 506.2L682.7 506.3L683.7 506.3L684.7 506.3L685.7 506.3L686.7 506.3L687.7 506.9L688.7 507.0L689.7 507.1L690.7 507.7L691.7 507.7L692.7 507.8L693.7 507.8L694.7 507.8L695.7 507.8L696.7 507.8L697.7 508.4L698.7 508.5L699.7 508.5L700.7 508.5L701.7 508.6L702.7 508.6L703.7 508.6L704.7 509.2L705.7 509.2L706.7 509.2L707.7 509.3L708.7 509.3L709.7 509.3L710.7 509.3L711.7 509.3L712.7 509.3L713.7 509.3L714.7 509.3L715.7 509.3L716.7 509.9L717.7 510.0L718.7 510.1L719.7 510.1L720.7 510.7L721.7 510.7L722.7 510.7L723.7 510.1L724.7 510.7L725.7 510.7L726.7 510.7L727.7 510.7L728.7 510.8L729.7 510.8L730.7 510.8L731.7 510.8L732.7 510.8L733.7 510.8L734.7 510.8L735.7 510.8L736.7 511.4L737.7 511.5L738.7 511.5L739.7 511.5L740.7 511.5L741.7 511.5L742.7 511.6L743.7 511.6L744.7 511.6L745.7 511.6L746.7 511.6"/>
<path d="M132.7 456.8L133.7 456.1L134.7 455.9L135.7 455.3L136.7 454.5L137.7 453.7L138.7 452.9L139.7 452.2L140.7 450.8L141.7 450.0L142.7 449.3L143.7 448.5L144.7 447.8L145.7 447.0L146.7 446.2L147.7 444.8L148.7 444.0L149.7 443.2L150.7 442.4L151.7 441.1L152.7 440.3L153.7 439.5L154.7 438.0L155.7 436.5L156.7 435.1L157.7 434.2L158.7 432.8L159.7 431.9L160.7 430.5L161.7 428.9L162.7 427.4L163.7 425.9L164.7 424.4L165.7 422.9L166.7 421.5L167.7 420.0L168.7 418.5L169.7 416.9L170.7 414.8L171.7 413.3L172.7 411.7L173.7 409.5L174.7 407.9L175.7 405.8L176.7 403.6L177.7 402.0L178.7 399.7L179.7 397.4L180.7 394.6L181.7 392.3L182.7 390.0L183.7 387.7L184.7 384.8L185.7 382.5L186.7 380.2L187.7 377.3L188.7 374.9L189.7 372.0L190.7 369.1L191.7 366.8L192.7 364.4L193.7 362.2L194.7 359.3L195.7 357.0L196.7 354.7L197.7 352.4L198.7 350.2L199.7 347.3L200.7 345.0L201.7 342.7L202.7 339.8L203.7 337.4L204.7 334.5L205.7 332.2L206.7 329.9L207.7 327.1L208.7 324.7L209.7 322.4L210.7 320.2L211.7 318.0L212.7 315.7L213.7 312.7L214.7 309.8L215.7 306.8L216.7 304.4L217.7 301.5L218.7 298.6L219.7 295.6L220.7 293.2L221.7 290.3L222.7 288.0L223.7 285.7L224.7 283.4L225.7 281.2L226.7 278.9L227.7 276.1L228.7 273.7L229.7 270.7L230.7 267.8L231.7 265.5L232.7 262.5L233.7 260.2L234.7 257.9L235.7 255.0L236.7 252.7L237.7 250.4L238.7 247.5L239.7 244.5L240.7 242.2L241.7 239.3L242.7 236.9L243.7 234.1L244.7 231.8L245.7 229.5L246.7 227.2L247.7 224.9L248.7 222.1L249.7 220.5L250.7 218.9L251.7 216.7L252.7 213.8L253.7 211.5L254.7 209.3L255.7 207.1L256.7 204.8L257.7 202.5L258.7 200.2L259.7 198.0L260.7 195.7L261.7 193.4L262.7 191.3L263.7 189.8L264.7 188.2L265.7 186.0L266.7 184.5L267.7 182.3L268.7 180.0L269.7 177.8L270.7 176.3L271.7 174.7L272.7 172.5L273.7 170.9L274.7 168.8L275.7 167.2L276.7 165.8L277.7 165.0L278.7 163.5L279.7 162.0L280.7 160.6L281.7 159.7L282.7 158.2L283.7 156.7L284.7 155.3L285.7 155.2L286.7 154.5L287.7 153.7L288.7 151.6L289.7 150.0L290.7 148.6L291.7 148.4L292.7 147.7L293.7 146.2L294.7 144.8L295.7 143.9L296.7 143.2L297.7 141.8L298.7 141.0L299.7 140.3L300.7 140.2L301.7 139.4L302.7 138.8L303.7 138.0L304.7 137.2L305.7 136.5L306.7 135.7L307.7 134.9L308.7 134.3L309.7 134.3L310.7 134.9L311.7 134.9L312.7 134.9L313.7 134.2L314.7 132.8L315.7 132.8L316.7 132.7L317.7 132.8L318.7 132.8L319.7 133.5L320.7 133.5L321.7 133.4L322.7 133.5L323.7 133.5L324.7 133.5L325.7 134.2L326.7 134.3L327.7 134.9L328.7 135.7L329.7 136.5L330.7 135.8L331.7 135.7L332.7 135.8L333.7 136.5L334.7 137.2L335.7 137.3L336.7 138.0L337.7 138.8L338.7 139.5L339.7 139.6L340.7 140.9L341.7 141.8L342.7 143.3L343.7 144.0L344.7 144.7L345.7 145.5L346.7 147.0L347.7 147.8L348.7 148.5L349.7 149.3L350.7 150.1L351.7 150.8L352.7 152.2L353.7 153.1L354.7 154.5L355.7 156.0L356.7 157.5L357.7 158.9L358.7 159.7L359.7 161.2L360.7 162.1L361.7 162.8L362.7 164.2L363.7 165.7L364.7 167.2L365.7 168.7L366.7 170.2L367.7 171.8L368.7 173.3L369.7 174.7L370.7 176.2L371.7 177.7L372.7 178.6L373.7 180.0L374.7 181.6L375.7 183.8L376.7 186.0L377.7 187.6L378.7 189.0L379.7 190.5L380.7 192.0L381.7 193.5L382.7 195.7L383.7 197.3L384.7 198.8L385.7 200.3L386.7 202.4L387.7 203.9L388.7 205.5L389.7 207.0L390.7 209.2L391.7 211.4L392.7 213.0L393.7 214.4L394.7 215.9L395.7 217.5L396.7 219.0L397.7 221.2L398.7 222.8L399.7 224.3L400.7 225.8L401.7 228.0L402.7 230.2L403.7 231.7L404.7 233.3L405.7 235.6L406.7 237.7L407.7 238.5L408.7 240.0L409.7 242.2L410.7 243.8L411.7 245.9L412.7 247.5L413.7 249.1L414.7 250.6L415.7 252.7L416.7 255.0L417.7 257.3L418.7 259.4L419.7 261.0L420.7 263.2L421.7 265.4L422.7 267.0L423.7 268.5L424.7 270.7L425.7 272.3L426.7 274.4L427.7 276.0L428.7 277.6L429.7 279.7L430.7 281.3L431.7 283.5L432.7 285.1L433.7 287.3L434.7 289.4L435.7 291.0L436.7 292.6L437.7 294.7L438.7 296.3L439.7 298.4L440.7 300.0L441.7 302.2L442.7 304.5L443.7 306.1L444.7 308.2L445.7 309.7L446.7 311.3L447.7 313.5L448.7 315.1L449.7 316.6L450.7 318.7L451.7 320.3L452.7 322.5L453.7 324.7L454.7 326.3L455.7 328.5L456.7 330.0L457.7 331.5L458.7 333.0L459.7 335.2L460.7 336.8L461.7 339.0L462.7 340.6L463.7 342.7L464.7 344.3L465.7 345.8L466.7 347.3L467.7 348.8L468.7 350.9L469.7 352.5L470.7 354.7L471.7 356.3L472.7 357.8L473.7 359.3L474.7 360.8L475.7 362.3L476.7 363.8L477.7 365.3L478.7 366.8L479.7 368.9L480.7 369.8L481.7 371.3L482.7 373.4L483.7 375.0L484.7 376.5L485.7 378.0L486.7 379.6L487.7 381.7L488.7 382.5L489.7 384.0L490.7 385.4L491.7 386.9L492.7 387.8L493.7 389.2L494.7 390.7L495.7 392.2L496.7 393.7L497.7 395.2L498.7 396.0L499.7 397.5L500.7 398.3L501.7 399.8L502.7 401.2L503.7 402.1L504.7 403.5L505.7 404.3L506.7 405.8L507.7 407.2L508.7 408.0L509.7 409.4L510.7 410.2L511.7 411.7L512.7 412.6L513.7 414.0L514.7 414.8L515.7 416.2L516.7 417.1L517.7 418.5L518.7 419.3L519.7 420.7L520.7 421.5L521.7 422.3L522.7 423.7L523.7 424.5L524.7 425.9L525.7 426.8L526.7 427.6L527.7 429.0L528.7 429.7L529.7 430.5L530.7 431.3L531.7 432.7L532.7 433.5L533.7 434.3L534.7 435.7L535.7 436.5L536.7 437.9L537.7 438.7L538.7 439.4L539.7 440.3L540.7 441.1L541.7 442.4L542.7 443.2L543.7 444.0L544.7 444.8L545.7 445.5L546.7 446.3L547.7 447.0L548.7 447.8L549.7 448.6L550.7 449.3L551.7 450.7L552.7 451.4L553.7 452.2L554.7 453.0L555.7 453.8L556.7 454.5L557.7 455.3L558.7 456.7L559.7 456.8L560.7 457.6L561.7 458.3L562.7 459.7L563.7 460.4L564.7 460.6L565.7 461.3L566.7 462.0L567.7 462.8L568.7 463.5L569.7 463.6L570.7 464.3L571.7 465.1L572.7 465.8L573.7 466.5L574.7 467.3L575.7 468.0L576.7 468.8L577.7 469.5L578.7 470.2L579.7 470.3L580.7 471.1L581.7 471.8L582.7 472.5L583.7 473.3L584.7 474.0L585.7 474.1L586.7 474.7L587.7 475.4L588.7 475.6L589.7 476.3L590.7 477.0L591.7 477.7L592.7 477.8L593.7 478.5L594.7 479.2L595.7 479.3L596.7 480.1L597.7 480.8L598.7 481.5L599.7 482.2L600.7 482.3L601.7 483.0L602.7 483.7L603.7 483.8L604.7 484.5L605.7 484.6L606.7 485.2L607.7 485.3L608.7 486.1L609.7 486.7L610.7 486.8L611.7 487.5L612.7 487.6L613.7 488.2L614.7 488.9L615.7 489.0L616.7 489.7L617.7 489.8L618.7 490.4L619.7 490.5L620.7 491.2L621.7 491.3L622.7 491.9L623.7 492.0L624.7 492.0L625.7 492.7L626.7 493.4L627.7 493.5L628.7 493.6L629.7 494.2L630.7 494.2L631.7 494.9L632.7 495.0L633.7 495.0L634.7 495.7L635.7 495.8L636.7 495.8L637.7 496.5L638.7 496.5L639.7 497.2L640.7 497.3L641.7 498.0L642.7 498.0L643.7 498.7L644.7 498.8L645.7 499.4L646.7 499.5L647.7 499.6L648.7 500.2L649.7 500.3L650.7 500.3L651.7 500.9L652.7 501.0L653.7 501.0L654.7 501.1L655.7 501.7L656.7 501.7L657.7 501.8L658.7 501.8L659.7 502.5L660.7 502.5L661.7 502.6L662.7 502.6L663.7 503.2L664.7 503.3L665.7 503.9L666.7 504.0L667.7 504.0L668.7 504.1L669.7 504.7L670.7 504.8L671.7 504.8L672.7 504.8L673.7 504.8L674.7 505.5L675.7 505.6L676.7 505.6L677.7 506.2L678.7 506.2L679.7 506.2L680.7 506.2L681.7 506.2L682.7 506.2L683.7 506.3L684.7 506.3L685.7 506.9L686.7 507.0L687.7 507.0L688.7 507.0L689.7 507.1L690.7 507.7L691.7 507.7L692.7 507.8L693.7 507.8L694.7 508.4L695.7 508.5L696.7 508.5L697.7 508.5L698.7 508.5L699.7 508.5L700.7 508.5L701.7 509.2L702.7 509.2L703.7 509.2L704.7 509.3L705.7 509.9L706.7 510.0L707.7 510.0L708.7 510.0L709.7 510.0L710.7 510.0L711.7 510.1L712.7 510.0L713.7 510.0L714.7 510.1L715.7 510.1L716.7 510.1L717.7 510.1L718.7 510.1L719.7 510.7L720.7 510.7L721.7 510.7L722.7 510.7L723.7 510.8L724.7 510.8L725.7 510.8L726.7 511.4L727.7 511.5L728.7 511.5L729.7 511.5L730.7 511.4L731.7 510.8L732.7 510.8L733.7 510.8L734.7 511.4L735.7 511.5L736.7 511.5L737.7 511.5L738.7 511.5L739.7 511.5L740.7 511.5L741.7 511.5L742.7 511.5L743.7 511.6L744.7 512.2L745.7 512.2L746.7 512.2"/>
<path d="M132.7 453.7L133.7 453.0L134.7 452.3L135.7 451.5L136.7 450.8L137.7 450.1L138.7 449.9L139.7 449.2L140.7 447.8L141.7 447.1L142.7 446.3L143.7 445.5L144.7 444.7L145.7 443.9L146.7 443.2L147.7 442.4L148.7 441.0L149.7 440.2L150.7 439.4L151.7 438.0L152.7 436.6L153.7 435.7L154.7 434.3L155.7 433.4L156.7 432.1L157.7 431.3L158.7 430.4L159.7 429.0L160.7 427.5L161.7 426.1L162.7 424.6L163.7 423.7L164.7 422.3L165.7 420.8L166.7 419.3L167.7 417.7L168.7 416.2L169.7 414.7L170.7 413.2L171.7 411.7L172.7 409.5L173.7 407.3L174.7 405.7L175.7 403.5L176.7 401.9L177.7 399.8L178.7 398.2L179.7 395.9L180.7 393.1L181.7 390.8L182.7 388.5L183.7 386.2L184.7 384.0L185.7 381.7L186.7 378.7L187.7 375.8L188.7 373.6L189.7 371.3L190.7 369.0L191.7 366.7L192.7 363.8L193.7 361.5L194.7 359.2L195.7 356.9L196.7 354.1L197.7 351.8L198.7 349.6L199.7 347.3L200.7 345.7L201.7 343.4L202.7 341.2L203.7 338.3L204.7 336.0L205.7 333.7L206.7 331.5L207.7 329.9L208.7 327.7L209.7 324.7L210.7 321.8L211.7 319.5L212.7 317.2L213.7 314.3L214.7 312.0L215.7 309.7L216.7 307.4L217.7 305.2L218.7 302.3L219.7 299.9L220.7 297.0L221.7 294.7L222.7 292.4L223.7 289.5L224.7 287.2L225.7 284.9L226.7 282.0L227.7 279.1L228.7 276.7L229.7 274.4L230.7 271.6L231.7 269.2L232.7 266.3L233.7 263.3L234.7 261.0L235.7 258.1L236.7 255.8L237.7 253.6L238.7 251.3L239.7 249.7L240.7 246.8L241.7 244.5L242.7 242.3L243.7 240.1L244.7 237.8L245.7 235.5L246.7 233.2L247.7 230.9L248.7 228.7L249.7 226.5L250.7 224.3L251.7 222.1L252.7 219.8L253.7 217.5L254.7 214.6L255.7 212.3L256.7 210.1L257.7 208.5L258.7 206.3L259.7 204.0L260.7 201.7L261.7 199.5L262.7 198.0L263.7 196.5L264.7 194.3L265.7 192.7L266.7 190.6L267.7 188.9L268.7 186.8L269.7 185.9L270.7 184.5L271.7 183.0L272.7 181.4L273.7 179.3L274.7 178.4L275.7 177.0L276.7 175.4L277.7 173.3L278.7 171.8L279.7 170.2L280.7 168.8L281.7 167.3L282.7 165.8L283.7 164.3L284.7 163.5L285.7 162.7L286.7 161.3L287.7 160.5L288.7 159.1L289.7 158.2L290.7 157.4L291.7 156.7L292.7 156.1L293.7 155.3L294.7 154.4L295.7 153.7L296.7 153.0L297.7 152.2L298.7 151.5L299.7 150.8L300.7 150.0L301.7 148.6L302.7 147.8L303.7 147.7L304.7 147.0L305.7 147.0L306.7 146.2L307.7 145.4L308.7 144.7L309.7 144.0L310.7 144.0L311.7 144.0L312.7 144.0L313.7 144.0L314.7 144.0L315.7 144.1L316.7 144.0L317.7 144.0L318.7 144.0L319.7 143.3L320.7 143.2L321.7 143.2L322.7 144.0L323.7 144.1L324.7 144.7L325.7 144.7L326.7 144.7L327.7 144.7L328.7 144.8L329.7 145.5L330.7 146.3L331.7 146.3L332.7 146.2L333.7 146.2L334.7 146.9L335.7 147.7L336.7 147.8L337.7 149.2L338.7 150.0L339.7 150.7L340.7 150.8L341.7 150.8L342.7 151.5L343.7 152.3L344.7 153.7L345.7 154.5L346.7 155.3L347.7 156.8L348.7 157.6L349.7 158.3L350.7 159.1L351.7 160.5L352.7 162.0L353.7 163.6L354.7 164.3L355.7 165.1L356.7 166.5L357.7 167.9L358.7 168.7L359.7 169.5L360.7 170.3L361.7 171.8L362.7 174.0L363.7 175.5L364.7 176.3L365.7 177.7L366.7 178.5L367.7 180.7L368.7 182.2L369.7 183.7L370.7 185.2L371.7 186.7L372.7 188.2L373.7 189.7L374.7 190.6L375.7 192.0L376.7 194.2L377.7 195.8L378.7 197.3L379.7 199.5L380.7 201.0L381.7 203.2L382.7 204.7L383.7 205.5L384.7 207.0L385.7 208.5L386.7 210.7L387.7 212.2L388.7 213.7L389.7 215.9L390.7 217.6L391.7 219.7L392.7 221.3L393.7 222.8L394.7 224.3L395.7 226.5L396.7 228.0L397.7 229.5L398.7 231.7L399.7 233.9L400.7 236.2L401.7 238.5L402.7 240.1L403.7 241.6L404.7 243.1L405.7 245.2L406.7 246.7L407.7 248.3L408.7 249.8L409.7 251.9L410.7 254.2L411.7 255.8L412.7 258.0L413.7 260.2L414.7 261.8L415.7 262.6L416.7 264.0L417.7 265.6L418.7 267.7L419.7 269.3L420.7 271.5L421.7 273.7L422.7 275.3L423.7 277.5L424.7 279.0L425.7 281.2L426.7 282.8L427.7 284.9L428.7 286.5L429.7 288.1L430.7 290.2L431.7 291.8L432.7 294.0L433.7 295.5L434.7 297.0L435.7 299.2L436.7 300.7L437.7 302.2L438.7 303.8L439.7 306.1L440.7 308.3L441.7 310.4L442.7 312.0L443.7 313.4L444.7 314.9L445.7 316.5L446.7 318.7L447.7 320.3L448.7 322.4L449.7 324.0L450.7 325.6L451.7 327.1L452.7 329.2L453.7 331.4L454.7 333.1L455.7 334.6L456.7 336.7L457.7 338.3L458.7 340.4L459.7 342.0L460.7 343.6L461.7 345.7L462.7 347.2L463.7 348.8L464.7 350.3L465.7 352.4L466.7 353.9L467.7 355.4L468.7 356.9L469.7 358.4L470.7 360.0L471.7 361.5L472.7 363.0L473.7 364.5L474.7 366.1L475.7 368.2L476.7 369.7L477.7 371.2L478.7 372.7L479.7 374.2L480.7 375.7L481.7 377.3L482.7 378.8L483.7 380.2L484.7 381.1L485.7 382.5L486.7 384.0L487.7 385.5L488.7 386.9L489.7 388.5L490.7 389.9L491.7 391.4L492.7 392.3L493.7 393.7L494.7 395.2L495.7 396.1L496.7 397.5L497.7 398.9L498.7 399.8L499.7 401.2L500.7 402.7L501.7 404.2L502.7 405.0L503.7 406.5L504.7 407.3L505.7 408.8L506.7 410.2L507.7 411.0L508.7 411.8L509.7 413.2L510.7 414.1L511.7 415.6L512.7 417.1L513.7 418.5L514.7 419.3L515.7 420.1L516.7 421.4L517.7 422.2L518.7 423.1L519.7 424.4L520.7 425.2L521.7 426.0L522.7 426.7L523.7 427.6L524.7 429.0L525.7 429.8L526.7 430.6L527.7 431.9L528.7 432.8L529.7 433.6L530.7 435.0L531.7 435.8L532.7 436.5L533.7 437.3L534.7 438.1L535.7 439.4L536.7 440.2L537.7 441.0L538.7 441.8L539.7 443.2L540.7 444.0L541.7 444.7L542.7 445.5L543.7 446.3L544.7 447.7L545.7 448.5L546.7 449.2L547.7 449.9L548.7 450.7L549.7 451.5L550.7 452.2L551.7 452.9L552.7 453.7L553.7 454.5L554.7 455.2L555.7 455.9L556.7 456.7L557.7 457.5L558.7 458.3L559.7 459.0L560.7 459.7L561.7 460.5L562.7 461.2L563.7 462.0L564.7 462.7L565.7 463.5L566.7 464.2L567.7 464.9L568.7 465.7L569.7 466.4L570.7 466.6L571.7 467.3L572.7 468.1L573.7 468.8L574.7 469.5L575.7 470.2L576.7 470.3L577.7 471.0L578.7 471.7L579.7 472.4L580.7 473.2L581.7 473.3L582.7 474.0L583.7 474.7L584.7 474.8L585.7 475.5L586.7 476.2L587.7 476.9L588.7 477.7L589.7 478.4L590.7 478.5L591.7 479.2L592.7 479.3L593.7 480.0L594.7 480.7L595.7 480.8L596.7 481.5L597.7 482.2L598.7 482.3L599.7 483.0L600.7 483.7L601.7 484.4L602.7 484.5L603.7 485.2L604.7 485.3L605.7 486.0L606.7 486.1L607.7 486.8L608.7 487.4L609.7 487.5L610.7 488.2L611.7 488.3L612.7 489.0L613.7 489.7L614.7 489.8L615.7 490.4L616.7 490.5L617.7 491.2L618.7 491.3L619.7 491.9L620.7 492.0L621.7 492.7L622.7 492.8L623.7 493.4L624.7 493.5L625.7 493.6L626.7 494.3L627.7 494.9L628.7 495.0L629.7 495.0L630.7 495.1L631.7 495.7L632.7 495.8L633.7 496.5L634.7 496.5L635.7 497.2L636.7 497.3L637.7 498.0L638.7 498.0L639.7 498.1L640.7 498.7L641.7 498.8L642.7 498.8L643.7 499.4L644.7 499.5L645.7 500.2L646.7 500.2L647.7 500.3L648.7 500.9L649.7 500.9L650.7 501.0L651.7 501.1L652.7 501.7L653.7 501.7L654.7 501.7L655.7 501.8L656.7 502.5L657.7 502.5L658.7 503.2L659.7 503.2L660.7 503.3L661.7 503.3L662.7 503.9L663.7 504.0L664.7 504.1L665.7 504.7L666.7 504.7L667.7 504.7L668.7 504.8L669.7 504.8L670.7 505.4L671.7 505.5L672.7 505.5L673.7 505.6L674.7 506.2L675.7 506.2L676.7 506.3L677.7 506.9L678.7 507.0L679.7 507.0L680.7 507.0L681.7 507.0L682.7 507.1L683.7 507.7L684.7 507.7L685.7 507.8L686.7 507.8L687.7 507.7L688.7 507.8L689.7 507.8L690.7 508.4L691.7 508.5L692.7 508.5L693.7 508.6L694.7 509.2L695.7 509.2L696.7 509.2L697.7 509.2L698.7 509.2L699.7 509.3L700.7 509.3L701.7 509.3L702.7 509.3L703.7 509.3L704.7 509.3L705.7 509.3L706.7 509.9L707.7 510.0L708.7 510.1L709.7 510.1L710.7 510.1L711.7 510.1L712.7 510.1L713.7 510.1L714.7 510.1L715.7 510.1L716.7 510.1L717.7 510.7L718.7 510.7L719.7 510.7L720.7 510.8L721.7 510.8L722.7 510.8L723.7 510.8L724.7 511.4L725.7 511.5L726.7 511.5L727.7 511.4L728.7 511.4L729.7 511.4L730.7 511.5L731.7 511.5L732.7 511.5L733.7 511.6L734.7 512.2L735.7 512.2L736.7 512.2L737.7 512.2L738.7 512.3L739.7 512.3L740.7 512.3L741.7 512.3L742.7 512.2L743.7 512.3L744.7 512.3L745.7 512.3L746.7 512.3"/>
<path d="M132.7 450.0L133.7 449.3L134.7 448.5L135.7 447.8L136.7 447.1L137.7 446.9L138.7 446.2L139.7 445.4L140.7 444.7L141.7 443.9L142.7 443.2L143.7 442.5L144.7 441.7L145.7 441.0L146.7 440.3L147.7 439.5L148.7 438.7L149.7 437.3L150.7 436.4L151.7 435.1L152.7 434.3L153.7 433.4L154.7 432.0L155.7 430.6L156.7 429.7L157.7 428.3L158.7 427.4L159.7 426.0L160.7 424.5L161.7 423.7L162.7 422.3L163.7 421.4L164.7 419.3L165.7 418.4L166.7 417.0L167.7 415.5L168.7 414.0L169.7 412.5L170.7 410.9L171.7 409.4L172.7 407.3L173.7 405.8L174.7 404.2L175.7 402.1L176.7 400.5L177.7 398.3L178.7 396.7L179.7 394.4L180.7 392.2L181.7 390.0L182.7 387.8L183.7 385.5L184.7 383.3L185.7 381.0L186.7 378.7L187.7 376.5L188.7 374.3L189.7 372.1L190.7 369.8L191.7 367.5L192.7 365.3L193.7 363.0L194.7 360.7L195.7 357.8L196.7 355.6L197.7 353.3L198.7 351.1L199.7 348.8L200.7 346.5L201.7 344.2L202.7 342.0L203.7 339.8L204.7 337.5L205.7 335.3L206.7 333.0L207.7 330.7L208.7 328.5L209.7 326.2L210.7 323.9L211.7 321.1L212.7 318.8L213.7 316.6L214.7 314.3L215.7 312.0L216.7 309.8L217.7 307.5L218.7 305.2L219.7 302.9L220.7 300.0L221.7 297.7L222.7 294.8L223.7 292.5L224.7 289.5L225.7 286.6L226.7 284.3L227.7 281.9L228.7 279.1L229.7 276.8L230.7 274.6L231.7 272.3L232.7 270.0L233.7 267.7L234.7 264.8L235.7 262.6L236.7 260.3L237.7 258.0L238.7 255.8L239.7 253.6L240.7 251.3L241.7 249.0L242.7 246.7L243.7 243.8L244.7 242.2L245.7 240.0L246.7 238.4L247.7 236.2L248.7 234.0L249.7 231.8L250.7 230.2L251.7 227.3L252.7 224.9L253.7 222.1L254.7 220.4L255.7 218.2L256.7 216.0L257.7 213.8L258.7 212.2L259.7 210.1L260.7 208.5L261.7 206.3L262.7 204.7L263.7 203.2L264.7 201.7L265.7 199.6L266.7 197.3L267.7 195.7L268.7 193.6L269.7 192.7L270.7 191.3L271.7 189.8L272.7 188.2L273.7 186.8L274.7 186.0L275.7 184.5L276.7 182.3L277.7 180.7L278.7 179.3L279.7 178.5L280.7 177.7L281.7 176.2L282.7 174.1L283.7 172.5L284.7 171.1L285.7 170.2L286.7 168.8L287.7 168.0L288.7 167.2L289.7 165.8L290.7 165.0L291.7 165.0L292.7 164.3L293.7 163.5L294.7 162.7L295.7 162.0L296.7 161.2L297.7 159.8L298.7 159.0L299.7 158.3L300.7 158.2L301.7 156.8L302.7 156.0L303.7 155.2L304.7 154.6L305.7 154.6L306.7 155.2L307.7 154.5L308.7 154.5L309.7 154.5L310.7 154.5L311.7 153.8L312.7 153.7L313.7 153.7L314.7 153.0L315.7 152.3L316.7 152.3L317.7 152.9L318.7 152.9L319.7 152.3L320.7 152.9L321.7 152.9L322.7 153.0L323.7 153.1L324.7 153.7L325.7 153.1L326.7 153.7L327.7 153.1L328.7 153.0L329.7 153.8L330.7 154.5L331.7 155.2L332.7 155.9L333.7 156.7L334.7 157.4L335.7 158.2L336.7 159.0L337.7 158.3L338.7 158.2L339.7 158.9L340.7 159.8L341.7 160.6L342.7 161.3L343.7 162.0L344.7 162.7L345.7 163.5L346.7 164.2L347.7 165.0L348.7 166.5L349.7 167.3L350.7 168.7L351.7 169.5L352.7 170.9L353.7 172.4L354.7 174.0L355.7 175.5L356.7 176.3L357.7 177.7L358.7 178.5L359.7 180.0L360.7 180.7L361.7 180.8L362.7 181.5L363.7 183.0L364.7 184.5L365.7 186.7L366.7 188.3L367.7 189.7L368.7 191.3L369.7 193.5L370.7 195.0L371.7 195.7L372.7 196.5L373.7 198.0L374.7 199.6L375.7 202.5L376.7 204.8L377.7 206.3L378.7 207.7L379.7 208.6L380.7 210.7L381.7 212.2L382.7 213.0L383.7 214.6L384.7 216.8L385.7 219.0L386.7 220.5L387.7 222.0L388.7 223.5L389.7 225.0L390.7 226.5L391.7 228.7L392.7 230.2L393.7 231.1L394.7 233.2L395.7 234.7L396.7 236.3L397.7 238.5L398.7 240.8L399.7 242.3L400.7 243.8L401.7 246.0L402.7 247.6L403.7 249.1L404.7 250.6L405.7 253.4L406.7 255.0L407.7 256.5L408.7 257.9L409.7 259.5L410.7 261.8L411.7 263.9L412.7 265.5L413.7 267.0L414.7 268.5L415.7 270.1L416.7 272.2L417.7 273.8L418.7 276.0L419.7 278.2L420.7 279.8L421.7 281.9L422.7 283.5L423.7 285.0L424.7 286.5L425.7 288.7L426.7 290.3L427.7 291.8L428.7 293.3L429.7 295.5L430.7 297.7L431.7 299.2L432.7 300.7L433.7 302.2L434.7 303.8L435.7 306.0L436.7 308.2L437.7 309.7L438.7 311.3L439.7 312.8L440.7 314.3L441.7 315.8L442.7 318.0L443.7 320.2L444.7 321.8L445.7 324.0L446.7 325.5L447.7 326.9L448.7 328.5L449.7 330.7L450.7 332.3L451.7 334.4L452.7 336.0L453.7 338.2L454.7 339.8L455.7 341.2L456.7 342.7L457.7 344.3L458.7 346.4L459.7 348.0L460.7 349.5L461.7 351.0L462.7 352.5L463.7 354.0L464.7 355.6L465.7 357.7L466.7 359.2L467.7 360.7L468.7 362.2L469.7 363.7L470.7 365.2L471.7 366.7L472.7 368.2L473.7 369.7L474.7 371.2L475.7 372.7L476.7 374.2L477.7 375.7L478.7 377.2L479.7 378.7L480.7 380.2L481.7 381.1L482.7 382.6L483.7 384.0L484.7 385.5L485.7 387.0L486.7 388.4L487.7 389.3L488.7 390.8L489.7 392.3L490.7 393.8L491.7 395.3L492.7 396.7L493.7 397.6L494.7 399.1L495.7 400.6L496.7 402.0L497.7 403.4L498.7 404.3L499.7 405.7L500.7 407.2L501.7 408.0L502.7 409.4L503.7 410.3L504.7 411.7L505.7 412.5L506.7 413.9L507.7 414.8L508.7 415.6L509.7 416.9L510.7 417.7L511.7 418.5L512.7 419.3L513.7 420.7L514.7 421.5L515.7 422.9L516.7 423.8L517.7 425.2L518.7 426.0L519.7 426.8L520.7 428.2L521.7 429.0L522.7 429.8L523.7 431.2L524.7 432.0L525.7 432.8L526.7 434.2L527.7 435.0L528.7 435.8L529.7 436.6L530.7 437.9L531.7 438.7L532.7 439.5L533.7 440.3L534.7 441.0L535.7 442.4L536.7 443.2L537.7 444.0L538.7 444.8L539.7 446.2L540.7 446.9L541.7 447.7L542.7 448.4L543.7 449.2L544.7 449.9L545.7 450.1L546.7 450.8L547.7 452.2L548.7 453.0L549.7 453.7L550.7 454.5L551.7 455.2L552.7 456.0L553.7 456.8L554.7 457.5L555.7 458.3L556.7 459.0L557.7 459.8L558.7 460.5L559.7 461.2L560.7 462.0L561.7 462.7L562.7 463.4L563.7 464.2L564.7 464.3L565.7 465.1L566.7 465.8L567.7 466.5L568.7 467.2L569.7 467.3L570.7 468.1L571.7 468.8L572.7 469.5L573.7 470.2L574.7 470.3L575.7 471.1L576.7 471.8L577.7 472.5L578.7 473.3L579.7 474.0L580.7 474.8L581.7 475.4L582.7 475.6L583.7 476.3L584.7 477.0L585.7 477.7L586.7 477.8L587.7 478.4L588.7 478.6L589.7 479.3L590.7 480.0L591.7 480.7L592.7 480.8L593.7 481.5L594.7 482.2L595.7 482.3L596.7 483.0L597.7 483.7L598.7 483.8L599.7 484.4L600.7 484.5L601.7 485.2L602.7 485.3L603.7 486.0L604.7 486.7L605.7 486.8L606.7 487.5L607.7 488.2L608.7 488.3L609.7 488.3L610.7 489.0L611.7 489.7L612.7 489.7L613.7 489.8L614.7 490.4L615.7 490.5L616.7 491.2L617.7 491.3L618.7 492.0L619.7 492.1L620.7 492.8L621.7 493.5L622.7 493.6L623.7 494.2L624.7 494.3L625.7 494.3L626.7 495.0L627.7 495.0L628.7 495.7L629.7 495.8L630.7 496.4L631.7 496.5L632.7 496.5L633.7 497.2L634.7 497.2L635.7 497.3L636.7 497.9L637.7 498.0L638.7 498.7L639.7 498.8L640.7 499.4L641.7 499.5L642.7 499.6L643.7 500.2L644.7 500.3L645.7 500.3L646.7 501.0L647.7 501.0L648.7 501.7L649.7 501.8L650.7 501.8L651.7 502.4L652.7 502.5L653.7 502.5L654.7 502.5L655.7 503.2L656.7 503.3L657.7 503.9L658.7 503.9L659.7 504.0L660.7 504.1L661.7 504.7L662.7 504.7L663.7 504.8L664.7 504.8L665.7 504.8L666.7 505.4L667.7 505.4L668.7 505.4L669.7 505.5L670.7 505.6L671.7 506.2L672.7 506.2L673.7 506.3L674.7 506.3L675.7 506.3L676.7 506.9L677.7 507.0L678.7 507.0L679.7 507.1L680.7 507.7L681.7 507.7L682.7 507.7L683.7 507.8L684.7 507.8L685.7 508.4L686.7 508.5L687.7 508.5L688.7 508.5L689.7 508.5L690.7 508.5L691.7 508.5L692.7 508.5L693.7 508.5L694.7 508.6L695.7 509.2L696.7 509.2L697.7 509.3L698.7 509.3L699.7 509.9L700.7 510.0L701.7 510.0L702.7 510.0L703.7 510.0L704.7 510.7L705.7 510.7L706.7 510.7L707.7 510.7L708.7 510.7L709.7 510.7L710.7 510.7L711.7 510.7L712.7 510.7L713.7 510.7L714.7 510.7L715.7 510.7L716.7 510.7L717.7 510.7L718.7 510.7L719.7 510.8L720.7 510.8L721.7 511.4L722.7 511.4L723.7 511.4L724.7 511.4L725.7 511.5L726.7 511.5L727.7 511.5L728.7 511.5L729.7 511.5L730.7 511.6L731.7 512.2L732.7 512.2L733.7 512.2L734.7 512.3L735.7 512.3L736.7 512.3L737.7 512.3L738.7 512.3L739.7 512.3L740.7 512.3L741.7 512.3L742.7 512.3L743.7 512.3L744.7 512.3L745.7 512.3L746.7 512.9"/>
<path d="M132.7 445.6L133.7 445.5L134.7 444.8L135.7 444.7L136.7 444.0L137.7 443.3L138.7 443.2L139.7 442.4L140.7 441.7L141.7 440.9L142.7 440.2L143.7 439.4L144.7 438.1L145.7 437.3L146.7 436.5L147.7 435.7L148.7 434.3L149.7 433.5L150.7 432.7L151.7 431.9L152.7 430.5L153.7 429.7L154.7 428.3L155.7 427.5L156.7 426.8L157.7 425.9L158.7 424.5L159.7 423.7L160.7 422.3L161.7 421.5L162.7 420.1L163.7 418.6L164.7 417.0L165.7 415.5L166.7 414.0L167.7 413.2L168.7 411.8L169.7 410.3L170.7 408.8L171.7 407.3L172.7 405.8L173.7 404.3L174.7 402.7L175.7 400.6L176.7 399.0L177.7 397.4L178.7 395.3L179.7 393.1L180.7 391.4L181.7 389.2L182.7 387.1L183.7 384.8L184.7 382.6L185.7 380.3L186.7 378.7L187.7 376.4L188.7 374.2L189.7 372.0L190.7 370.4L191.7 368.2L192.7 365.9L193.7 363.1L194.7 360.8L195.7 359.2L196.7 357.0L197.7 354.8L198.7 352.5L199.7 350.3L200.7 347.9L201.7 345.7L202.7 343.4L203.7 341.2L204.7 338.9L205.7 336.7L206.7 334.6L207.7 332.3L208.7 330.0L209.7 327.7L210.7 325.4L211.7 323.2L212.7 321.0L213.7 318.7L214.7 316.4L215.7 314.2L216.7 311.3L217.7 309.0L218.7 306.8L219.7 304.5L220.7 302.3L221.7 300.7L222.7 297.8L223.7 295.5L224.7 293.3L225.7 291.0L226.7 288.7L227.7 286.5L228.7 284.3L229.7 282.0L230.7 279.1L231.7 276.7L232.7 274.4L233.7 271.6L234.7 269.3L235.7 267.7L236.7 265.5L237.7 263.2L238.7 260.3L239.7 258.0L240.7 256.5L241.7 254.3L242.7 252.7L243.7 250.5L244.7 248.3L245.7 246.1L246.7 244.4L247.7 241.6L248.7 239.3L249.7 236.9L250.7 234.7L251.7 233.2L252.7 231.7L253.7 230.2L254.7 227.3L255.7 225.0L256.7 222.8L257.7 221.2L258.7 219.7L259.7 217.6L260.7 215.9L261.7 213.7L262.7 211.6L263.7 210.0L264.7 208.4L265.7 206.3L266.7 204.7L267.7 202.4L268.7 200.3L269.7 199.5L270.7 198.7L271.7 197.2L272.7 195.1L273.7 193.6L274.7 192.7L275.7 191.3L276.7 190.4L277.7 189.0L278.7 187.5L279.7 186.1L280.7 185.2L281.7 183.7L282.7 182.3L283.7 180.8L284.7 180.0L285.7 179.2L286.7 177.8L287.7 176.3L288.7 175.5L289.7 175.4L290.7 174.7L291.7 173.3L292.7 172.5L293.7 171.7L294.7 171.0L295.7 170.2L296.7 168.8L297.7 168.0L298.7 167.3L299.7 167.2L300.7 166.5L301.7 165.1L302.7 164.9L303.7 164.9L304.7 165.7L305.7 165.8L306.7 165.8L307.7 165.1L308.7 165.0L309.7 164.3L310.7 163.5L311.7 162.8L312.7 162.7L313.7 162.8L314.7 163.5L315.7 163.5L316.7 162.8L317.7 162.7L318.7 162.0L319.7 161.3L320.7 161.2L321.7 161.2L322.7 161.3L323.7 162.0L324.7 162.8L325.7 163.4L326.7 163.6L327.7 164.3L328.7 164.3L329.7 165.0L330.7 165.0L331.7 165.7L332.7 165.8L333.7 165.8L334.7 166.4L335.7 167.2L336.7 168.0L337.7 168.7L338.7 169.5L339.7 170.2L340.7 170.9L341.7 171.7L342.7 171.8L343.7 172.5L344.7 173.2L345.7 174.0L346.7 174.8L347.7 175.5L348.7 176.2L349.7 177.0L350.7 177.7L351.7 179.2L352.7 180.7L353.7 181.6L354.7 182.9L355.7 183.8L356.7 185.3L357.7 187.4L358.7 189.0L359.7 189.7L360.7 190.5L361.7 192.0L362.7 192.8L363.7 193.5L364.7 195.0L365.7 196.4L366.7 197.3L367.7 198.8L368.7 200.2L369.7 201.1L370.7 202.6L371.7 204.7L372.7 206.3L373.7 208.5L374.7 210.0L375.7 211.4L376.7 213.0L377.7 214.5L378.7 215.9L379.7 216.8L380.7 218.3L381.7 219.8L382.7 221.3L383.7 222.8L384.7 225.0L385.7 226.6L386.7 228.0L387.7 229.5L388.7 231.1L389.7 233.3L390.7 234.8L391.7 236.3L392.7 237.8L393.7 239.9L394.7 241.5L395.7 243.0L396.7 244.5L397.7 246.0L398.7 247.6L399.7 249.7L400.7 251.2L401.7 253.4L402.7 255.1L403.7 257.2L404.7 258.8L405.7 260.3L406.7 261.8L407.7 263.9L408.7 265.6L409.7 267.8L410.7 269.3L411.7 271.4L412.7 273.0L413.7 274.5L414.7 276.1L415.7 278.2L416.7 279.7L417.7 281.2L418.7 282.8L419.7 284.9L420.7 286.5L421.7 288.0L422.7 289.6L423.7 291.7L424.7 293.2L425.7 294.8L426.7 296.9L427.7 298.5L428.7 300.7L429.7 302.3L430.7 304.4L431.7 306.0L432.7 307.5L433.7 309.0L434.7 311.2L435.7 313.4L436.7 315.1L437.7 316.6L438.7 318.7L439.7 320.2L440.7 321.7L441.7 323.2L442.7 324.7L443.7 326.3L444.7 328.5L445.7 330.1L446.7 332.2L447.7 333.7L448.7 335.2L449.7 336.8L450.7 338.3L451.7 339.8L452.7 342.0L453.7 343.5L454.7 344.9L455.7 346.4L456.7 348.0L457.7 350.2L458.7 351.7L459.7 353.2L460.7 354.7L461.7 356.2L462.7 357.7L463.7 359.3L464.7 360.8L465.7 362.3L466.7 363.7L467.7 365.3L468.7 366.8L469.7 368.3L470.7 369.8L471.7 371.3L472.7 372.8L473.7 374.9L474.7 376.4L475.7 377.3L476.7 379.4L477.7 380.9L478.7 381.8L479.7 383.2L480.7 384.1L481.7 385.6L482.7 387.1L483.7 388.5L484.7 389.9L485.7 390.8L486.7 392.2L487.7 393.7L488.7 395.2L489.7 396.7L490.7 398.2L491.7 399.1L492.7 400.5L493.7 401.3L494.7 402.8L495.7 404.2L496.7 405.1L497.7 406.5L498.7 407.3L499.7 408.7L500.7 409.6L501.7 411.0L502.7 411.8L503.7 412.6L504.7 414.0L505.7 415.4L506.7 416.3L507.7 417.7L508.7 418.6L509.7 420.0L510.7 420.8L511.7 422.2L512.7 423.0L513.7 423.8L514.7 425.2L515.7 426.0L516.7 427.4L517.7 428.2L518.7 429.0L519.7 429.8L520.7 431.2L521.7 431.9L522.7 432.7L523.7 433.5L524.7 434.9L525.7 435.8L526.7 436.6L527.7 437.9L528.7 438.7L529.7 439.5L530.7 440.3L531.7 441.0L532.7 441.8L533.7 442.6L534.7 443.9L535.7 444.7L536.7 445.4L537.7 445.5L538.7 446.3L539.7 447.7L540.7 448.5L541.7 449.3L542.7 450.7L543.7 451.4L544.7 451.6L545.7 452.9L546.7 453.7L547.7 454.5L548.7 455.2L549.7 455.9L550.7 456.7L551.7 457.4L552.7 458.2L553.7 458.9L554.7 459.7L555.7 460.5L556.7 461.3L557.7 462.0L558.7 462.7L559.7 462.8L560.7 463.5L561.7 464.2L562.7 464.9L563.7 465.7L564.7 465.8L565.7 466.6L566.7 467.9L567.7 468.1L568.7 468.8L569.7 469.5L570.7 470.2L571.7 470.9L572.7 471.1L573.7 471.8L574.7 472.5L575.7 473.3L576.7 474.0L577.7 474.8L578.7 475.5L579.7 476.2L580.7 476.9L581.7 477.0L582.7 477.1L583.7 477.8L584.7 478.5L585.7 478.6L586.7 479.3L587.7 480.0L588.7 480.1L589.7 480.8L590.7 481.4L591.7 481.5L592.7 482.2L593.7 482.9L594.7 483.0L595.7 483.7L596.7 483.8L597.7 484.4L598.7 484.5L599.7 485.2L600.7 485.9L601.7 486.0L602.7 486.1L603.7 486.8L604.7 487.5L605.7 488.2L606.7 488.3L607.7 489.0L608.7 489.1L609.7 489.7L610.7 489.8L611.7 490.5L612.7 491.2L613.7 491.3L614.7 491.9L615.7 492.0L616.7 492.1L617.7 492.7L618.7 492.8L619.7 493.4L620.7 493.5L621.7 494.2L622.7 494.3L623.7 495.0L624.7 495.0L625.7 495.7L626.7 495.7L627.7 495.8L628.7 496.5L629.7 496.5L630.7 497.2L631.7 497.3L632.7 497.3L633.7 497.9L634.7 498.0L635.7 498.7L636.7 498.7L637.7 498.8L638.7 499.5L639.7 499.5L640.7 499.5L641.7 499.6L642.7 500.2L643.7 500.2L644.7 500.3L645.7 500.9L646.7 501.0L647.7 501.0L648.7 501.7L649.7 501.7L650.7 501.7L651.7 502.4L652.7 502.5L653.7 503.2L654.7 503.3L655.7 503.3L656.7 503.3L657.7 503.9L658.7 504.0L659.7 504.7L660.7 504.7L661.7 504.7L662.7 504.7L663.7 504.7L664.7 504.8L665.7 505.5L666.7 505.5L667.7 505.6L668.7 506.2L669.7 506.2L670.7 506.3L671.7 506.3L672.7 506.9L673.7 506.9L674.7 507.0L675.7 507.0L676.7 507.1L677.7 507.7L678.7 507.1L679.7 507.7L680.7 507.7L681.7 507.8L682.7 508.4L683.7 508.4L684.7 508.5L685.7 508.5L686.7 508.5L687.7 508.6L688.7 508.6L689.7 509.2L690.7 509.2L691.7 509.3L692.7 509.3L693.7 509.3L694.7 509.3L695.7 509.9L696.7 510.0L697.7 510.0L698.7 510.0L699.7 510.0L700.7 510.1L701.7 510.1L702.7 510.0L703.7 510.0L704.7 510.0L705.7 510.7L706.7 510.7L707.7 510.7L708.7 510.7L709.7 510.7L710.7 510.8L711.7 510.8L712.7 510.8L713.7 510.8L714.7 511.4L715.7 511.4L716.7 511.5L717.7 511.5L718.7 511.5L719.7 511.5L720.7 511.5L721.7 511.5L722.7 511.5L723.7 511.6L724.7 511.6L725.7 511.6L726.7 511.6L727.7 512.2L728.7 512.2L729.7 512.2L730.7 512.2L731.7 512.2L732.7 512.2L733.7 512.2L734.7 512.2L735.7 512.2L736.7 512.3L737.7 512.3L738.7 512.3L739.7 512.3L740.7 512.3L741.7 512.3L742.7 512.9L743.7 513.0L744.7 513.0L745.7 513.0L746.7 513.0"/>
<path d="M132.7 442.4L133.7 441.7L134.7 441.1L135.7 440.9L136.7 440.2L137.7 439.5L138.7 439.4L139.7 438.7L140.7 438.0L141.7 437.3L142.7 436.6L143.7 435.8L144.7 435.0L145.7 434.2L146.7 433.5L147.7 432.7L148.7 431.9L149.7 431.2L150.7 430.4L151.7 429.1L152.7 428.3L153.7 427.4L154.7 426.0L155.7 425.2L156.7 423.8L157.7 423.0L158.7 422.2L159.7 421.4L160.7 420.0L161.7 418.5L162.7 417.1L163.7 416.3L164.7 415.5L165.7 414.0L166.7 412.6L167.7 411.7L168.7 409.6L169.7 408.0L170.7 406.5L171.7 405.7L172.7 404.2L173.7 402.7L174.7 400.5L175.7 399.0L176.7 396.8L177.7 395.2L178.7 393.1L179.7 391.5L180.7 390.0L181.7 387.8L182.7 386.2L183.7 383.9L184.7 381.7L185.7 379.5L186.7 377.9L187.7 375.7L188.7 373.5L189.7 371.3L190.7 369.7L191.7 367.5L192.7 365.3L193.7 363.1L194.7 361.4L195.7 359.2L196.7 357.0L197.7 355.4L198.7 353.2L199.7 351.0L200.7 348.7L201.7 346.5L202.7 344.9L203.7 342.8L204.7 341.2L205.7 338.3L206.7 336.7L207.7 334.4L208.7 332.2L209.7 330.1L210.7 327.8L211.7 325.6L212.7 323.3L213.7 321.0L214.7 318.8L215.7 316.5L216.7 314.2L217.7 311.3L218.7 309.0L219.7 306.8L220.7 305.2L221.7 303.1L222.7 301.4L223.7 298.5L224.7 295.6L225.7 293.2L226.7 291.0L227.7 288.8L228.7 287.2L229.7 284.9L230.7 282.1L231.7 279.7L232.7 276.7L233.7 274.5L234.7 273.0L235.7 271.4L236.7 269.2L237.7 266.9L238.7 264.7L239.7 262.5L240.7 260.3L241.7 258.0L242.7 255.8L243.7 254.2L244.7 252.0L245.7 249.7L246.7 247.5L247.7 245.2L248.7 242.9L249.7 240.8L250.7 239.3L251.7 237.8L252.7 236.3L253.7 234.7L254.7 232.6L255.7 231.0L256.7 228.8L257.7 226.5L258.7 224.3L259.7 222.7L260.7 221.2L261.7 219.1L262.7 217.5L263.7 215.3L264.7 213.8L265.7 212.3L266.7 211.4L267.7 209.9L268.7 208.4L269.7 206.3L270.7 204.8L271.7 204.0L272.7 202.5L273.7 201.0L274.7 199.5L275.7 198.1L276.7 196.6L277.7 195.7L278.7 194.3L279.7 192.8L280.7 192.0L281.7 191.2L282.7 190.5L283.7 189.7L284.7 189.0L285.7 188.2L286.7 186.8L287.7 185.3L288.7 184.4L289.7 182.9L290.7 181.5L291.7 180.8L292.7 180.1L293.7 179.9L294.7 178.6L295.7 177.8L296.7 177.0L297.7 176.3L298.7 176.2L299.7 175.6L300.7 175.6L301.7 175.5L302.7 174.1L303.7 173.2L304.7 173.2L305.7 173.2L306.7 172.5L307.7 171.8L308.7 171.1L309.7 171.0L310.7 171.7L311.7 171.7L312.7 171.1L313.7 171.0L314.7 170.9L315.7 170.3L316.7 170.3L317.7 170.9L318.7 171.0L319.7 171.1L320.7 171.7L321.7 171.7L322.7 171.0L323.7 171.0L324.7 171.7L325.7 171.7L326.7 171.8L327.7 172.5L328.7 172.6L329.7 173.2L330.7 173.2L331.7 173.3L332.7 174.0L333.7 174.8L334.7 175.5L335.7 176.2L336.7 176.2L337.7 176.9L338.7 177.0L339.7 177.7L340.7 177.8L341.7 178.4L342.7 179.2L343.7 180.1L344.7 181.6L345.7 182.3L346.7 183.7L347.7 184.5L348.7 186.0L349.7 187.4L350.7 187.5L351.7 188.3L352.7 189.0L353.7 189.8L354.7 191.2L355.7 192.0L356.7 193.5L357.7 194.9L358.7 195.8L359.7 198.0L360.7 199.5L361.7 200.2L362.7 200.9L363.7 201.8L364.7 203.3L365.7 204.8L366.7 206.2L367.7 207.0L368.7 208.4L369.7 210.0L370.7 211.6L371.7 213.0L372.7 213.8L373.7 215.3L374.7 216.8L375.7 218.3L376.7 220.4L377.7 222.0L378.7 223.5L379.7 225.1L380.7 227.3L381.7 229.4L382.7 230.2L383.7 230.9L384.7 231.8L385.7 233.9L386.7 236.2L387.7 237.8L388.7 239.3L389.7 240.8L390.7 242.3L391.7 244.5L392.7 246.0L393.7 247.5L394.7 249.0L395.7 249.8L396.7 251.3L397.7 253.5L398.7 255.0L399.7 256.4L400.7 257.9L401.7 259.5L402.7 261.1L403.7 263.3L404.7 265.5L405.7 267.1L406.7 268.6L407.7 270.0L408.7 271.6L409.7 273.8L410.7 275.3L411.7 276.8L412.7 279.0L413.7 280.6L414.7 282.7L415.7 283.6L416.7 285.1L417.7 287.2L418.7 288.8L419.7 291.0L420.7 292.5L421.7 294.0L422.7 295.6L423.7 297.7L424.7 300.0L425.7 301.5L426.7 303.0L427.7 304.5L428.7 306.1L429.7 308.2L430.7 309.8L431.7 311.2L432.7 312.7L433.7 314.3L434.7 316.4L435.7 318.0L436.7 319.5L437.7 321.0L438.7 322.5L439.7 324.8L440.7 327.0L441.7 328.5L442.7 329.9L443.7 331.4L444.7 332.3L445.7 334.4L446.7 336.0L447.7 338.2L448.7 339.8L449.7 341.3L450.7 342.8L451.7 344.9L452.7 345.8L453.7 347.9L454.7 349.5L455.7 351.1L456.7 353.2L457.7 354.7L458.7 356.2L459.7 357.7L460.7 359.3L461.7 360.8L462.7 362.3L463.7 363.8L464.7 365.3L465.7 366.7L466.7 368.2L467.7 369.7L468.7 371.2L469.7 372.7L470.7 374.2L471.7 375.7L472.7 377.2L473.7 378.0L474.7 379.5L475.7 381.0L476.7 382.5L477.7 384.0L478.7 385.4L479.7 386.3L480.7 387.8L481.7 389.3L482.7 390.8L483.7 392.2L484.7 393.7L485.7 394.5L486.7 395.9L487.7 396.8L488.7 398.3L489.7 399.8L490.7 401.2L491.7 402.1L492.7 403.4L493.7 404.2L494.7 405.0L495.7 406.5L496.7 407.9L497.7 408.8L498.7 410.2L499.7 411.1L500.7 412.5L501.7 413.9L502.7 414.7L503.7 415.5L504.7 416.9L505.7 417.8L506.7 418.6L507.7 420.0L508.7 421.4L509.7 422.2L510.7 423.7L511.7 424.6L512.7 425.9L513.7 426.7L514.7 427.5L515.7 428.3L516.7 429.7L517.7 430.4L518.7 431.2L519.7 432.0L520.7 432.8L521.7 434.2L522.7 435.0L523.7 435.8L524.7 436.6L525.7 437.9L526.7 438.7L527.7 439.5L528.7 440.3L529.7 441.1L530.7 442.5L531.7 443.3L532.7 444.1L533.7 444.8L534.7 445.6L535.7 446.3L536.7 447.1L537.7 448.4L538.7 449.2L539.7 449.9L540.7 450.7L541.7 451.5L542.7 452.2L543.7 453.0L544.7 453.8L545.7 454.5L546.7 455.2L547.7 455.9L548.7 456.7L549.7 457.4L550.7 458.2L551.7 458.9L552.7 459.0L553.7 459.7L554.7 460.5L555.7 461.3L556.7 462.1L557.7 463.4L558.7 464.2L559.7 464.3L560.7 465.1L561.7 465.8L562.7 466.5L563.7 467.2L564.7 467.9L565.7 468.7L566.7 469.4L567.7 469.6L568.7 470.3L569.7 471.0L570.7 471.7L571.7 471.8L572.7 472.5L573.7 473.3L574.7 474.0L575.7 474.7L576.7 474.8L577.7 475.5L578.7 476.2L579.7 476.9L580.7 477.1L581.7 477.7L582.7 477.8L583.7 478.4L584.7 478.6L585.7 479.3L586.7 480.1L587.7 480.7L588.7 481.4L589.7 481.5L590.7 482.3L591.7 483.0L592.7 483.7L593.7 483.8L594.7 484.5L595.7 484.5L596.7 484.6L597.7 485.2L598.7 485.3L599.7 486.0L600.7 486.8L601.7 487.4L602.7 487.6L603.7 488.2L604.7 488.9L605.7 489.0L606.7 489.7L607.7 489.7L608.7 489.8L609.7 490.4L610.7 490.6L611.7 491.2L612.7 491.3L613.7 492.0L614.7 492.7L615.7 492.8L616.7 492.8L617.7 493.5L618.7 493.6L619.7 494.2L620.7 494.3L621.7 495.0L622.7 495.0L623.7 495.1L624.7 495.7L625.7 495.8L626.7 496.5L627.7 496.6L628.7 497.2L629.7 497.3L630.7 498.0L631.7 498.0L632.7 498.7L633.7 498.7L634.7 498.8L635.7 499.5L636.7 499.5L637.7 500.2L638.7 500.2L639.7 500.3L640.7 500.9L641.7 501.0L642.7 501.0L643.7 501.1L644.7 501.7L645.7 501.8L646.7 501.8L647.7 502.4L648.7 502.5L649.7 502.6L650.7 503.2L651.7 503.3L652.7 503.3L653.7 503.9L654.7 503.9L655.7 503.9L656.7 504.0L657.7 504.1L658.7 504.1L659.7 504.7L660.7 504.7L661.7 504.8L662.7 505.4L663.7 505.5L664.7 505.5L665.7 505.5L666.7 505.5L667.7 506.2L668.7 506.2L669.7 506.3L670.7 506.3L671.7 506.9L672.7 507.0L673.7 507.0L674.7 507.1L675.7 507.1L676.7 507.1L677.7 507.7L678.7 507.7L679.7 507.8L680.7 508.4L681.7 508.4L682.7 508.5L683.7 508.5L684.7 508.6L685.7 508.5L686.7 508.5L687.7 508.5L688.7 508.5L689.7 508.6L690.7 509.2L691.7 509.3L692.7 509.3L693.7 509.3L694.7 509.9L695.7 510.0L696.7 510.0L697.7 510.0L698.7 510.0L699.7 510.0L700.7 510.1L701.7 510.1L702.7 510.0L703.7 510.0L704.7 510.1L705.7 510.1L706.7 510.7L707.7 510.7L708.7 510.8L709.7 510.8L710.7 510.7L711.7 510.8L712.7 510.8L713.7 511.4L714.7 511.5L715.7 511.4L716.7 511.4L717.7 511.4L718.7 511.5L719.7 511.5L720.7 512.2L721.7 512.2L722.7 512.3L723.7 512.3L724.7 512.3L725.7 512.3L726.7 512.2L727.7 512.3L728.7 512.3L729.7 512.3L730.7 512.3L731.7 512.3L732.7 512.9L733.7 512.3L734.7 512.3L735.7 512.3L736.7 512.9L737.7 513.0L738.7 513.0L739.7 512.9L740.7 512.3L741.7 512.9L742.7 513.0L743.7 513.0L744.7 513.0L745.7 513.1L746.7 513.1"/>
<path d="M132.7 438.8L133.7 438.7L134.7 438.0L135.7 437.3L136.7 436.5L137.7 435.8L138.7 435.7L139.7 435.0L140.7 434.3L141.7 434.2L142.7 433.5L143.7 432.7L144.7 431.9L145.7 430.5L146.7 429.8L147.7 429.1L148.7 428.3L149.7 427.5L150.7 426.7L151.7 425.9L152.7 424.6L153.7 423.8L154.7 423.0L155.7 422.2L156.7 421.4L157.7 420.0L158.7 419.2L159.7 418.5L160.7 417.1L161.7 416.3L162.7 415.4L163.7 414.0L164.7 413.2L165.7 411.7L166.7 410.3L167.7 409.4L168.7 408.0L169.7 406.5L170.7 405.0L171.7 403.5L172.7 402.7L173.7 401.2L174.7 399.1L175.7 397.5L176.7 396.0L177.7 394.5L178.7 392.9L179.7 390.8L180.7 389.2L181.7 387.1L182.7 385.5L183.7 383.3L184.7 381.7L185.7 379.5L186.7 377.9L187.7 375.8L188.7 373.5L189.7 371.3L190.7 369.7L191.7 367.5L192.7 365.3L193.7 363.7L194.7 362.2L195.7 360.0L196.7 357.8L197.7 356.2L198.7 354.0L199.7 351.8L200.7 350.2L201.7 348.0L202.7 345.8L203.7 343.6L204.7 342.0L205.7 339.8L206.7 337.5L207.7 335.3L208.7 333.0L209.7 330.8L210.7 328.6L211.7 326.9L212.7 324.7L213.7 322.4L214.7 319.6L215.7 317.3L216.7 315.7L217.7 313.6L218.7 311.9L219.7 309.7L220.7 307.4L221.7 305.2L222.7 303.0L223.7 300.8L224.7 298.6L225.7 297.0L226.7 294.8L227.7 292.5L228.7 290.3L229.7 288.0L230.7 285.7L231.7 282.8L232.7 280.6L233.7 279.1L234.7 277.5L235.7 274.6L236.7 272.2L237.7 270.1L238.7 268.5L239.7 266.3L240.7 264.1L241.7 261.8L242.7 260.2L243.7 258.0L244.7 256.4L245.7 254.3L246.7 252.1L247.7 250.4L248.7 248.3L249.7 246.7L250.7 244.6L251.7 242.9L252.7 240.7L253.7 238.5L254.7 236.9L255.7 235.4L256.7 233.2L257.7 231.1L258.7 229.5L259.7 228.1L260.7 226.5L261.7 225.0L262.7 223.5L263.7 222.7L264.7 221.2L265.7 219.1L266.7 217.5L267.7 215.3L268.7 213.7L269.7 212.2L270.7 210.7L271.7 209.3L272.7 207.8L273.7 206.3L274.7 205.4L275.7 203.3L276.7 201.8L277.7 200.3L278.7 199.5L279.7 198.7L280.7 198.0L281.7 197.2L282.7 195.8L283.7 195.0L284.7 194.3L285.7 193.6L286.7 192.8L287.7 191.3L288.7 190.5L289.7 189.7L290.7 188.9L291.7 187.5L292.7 186.7L293.7 185.3L294.7 184.6L295.7 184.5L296.7 184.4L297.7 183.8L298.7 183.7L299.7 183.0L300.7 182.3L301.7 182.2L302.7 182.3L303.7 182.2L304.7 181.5L305.7 180.1L306.7 179.3L307.7 178.6L308.7 178.4L309.7 177.7L310.7 177.0L311.7 177.1L312.7 177.7L313.7 177.7L314.7 177.1L315.7 177.1L316.7 177.8L317.7 178.5L318.7 178.4L319.7 177.8L320.7 178.4L321.7 178.4L322.7 178.5L323.7 179.3L324.7 179.3L325.7 179.2L326.7 179.3L327.7 180.7L328.7 181.6L329.7 182.3L330.7 182.3L331.7 182.2L332.7 182.2L333.7 182.9L334.7 183.7L335.7 183.8L336.7 183.7L337.7 183.8L338.7 185.3L339.7 186.7L340.7 187.4L341.7 188.3L342.7 189.1L343.7 189.1L344.7 189.1L345.7 189.8L346.7 190.6L347.7 192.0L348.7 193.4L349.7 194.3L350.7 195.0L351.7 196.4L352.7 197.3L353.7 198.8L354.7 200.2L355.7 201.0L356.7 201.8L357.7 203.2L358.7 204.0L359.7 204.7L360.7 205.5L361.7 206.3L362.7 207.8L363.7 210.0L364.7 210.8L365.7 212.2L366.7 213.1L367.7 214.5L368.7 216.0L369.7 217.4L370.7 218.2L371.7 219.0L372.7 220.5L373.7 222.1L374.7 224.2L375.7 225.0L376.7 226.4L377.7 228.0L378.7 229.6L379.7 230.9L380.7 231.8L381.7 234.0L382.7 235.5L383.7 236.3L384.7 237.7L385.7 239.3L386.7 241.4L387.7 243.0L388.7 244.5L389.7 246.0L390.7 247.5L391.7 249.1L392.7 251.2L393.7 252.7L394.7 254.2L395.7 255.8L396.7 257.9L397.7 259.4L398.7 261.0L399.7 262.5L400.7 264.1L401.7 265.6L402.7 267.7L403.7 269.3L404.7 271.5L405.7 272.3L406.7 273.8L407.7 275.3L408.7 277.4L409.7 279.0L410.7 281.2L411.7 283.4L412.7 285.1L413.7 287.2L414.7 288.7L415.7 289.6L416.7 291.1L417.7 292.6L418.7 294.1L419.7 296.2L420.7 297.8L421.7 299.9L422.7 300.8L423.7 302.3L424.7 304.4L425.7 306.0L426.7 307.6L427.7 309.7L428.7 311.2L429.7 312.7L430.7 314.2L431.7 315.8L432.7 318.1L433.7 320.2L434.7 321.8L435.7 323.9L436.7 325.5L437.7 327.0L438.7 327.8L439.7 329.3L440.7 330.8L441.7 332.3L442.7 334.5L443.7 336.1L444.7 338.2L445.7 339.7L446.7 341.2L447.7 342.8L448.7 344.3L449.7 345.8L450.7 347.3L451.7 349.4L452.7 351.0L453.7 352.5L454.7 353.9L455.7 355.4L456.7 357.0L457.7 358.4L458.7 359.9L459.7 360.8L460.7 362.9L461.7 364.5L462.7 366.0L463.7 367.5L464.7 369.0L465.7 370.5L466.7 372.0L467.7 373.4L468.7 374.3L469.7 375.8L470.7 377.3L471.7 378.8L472.7 380.3L473.7 381.7L474.7 383.2L475.7 384.0L476.7 385.5L477.7 387.0L478.7 388.4L479.7 389.9L480.7 390.8L481.7 392.2L482.7 393.1L483.7 394.5L484.7 396.0L485.7 397.5L486.7 399.0L487.7 399.8L488.7 401.3L489.7 402.7L490.7 404.2L491.7 405.0L492.7 405.8L493.7 407.2L494.7 408.0L495.7 409.5L496.7 410.3L497.7 411.7L498.7 412.6L499.7 414.0L500.7 415.4L501.7 416.3L502.7 417.7L503.7 418.6L504.7 419.9L505.7 420.7L506.7 421.5L507.7 422.3L508.7 423.7L509.7 424.5L510.7 425.9L511.7 426.8L512.7 427.6L513.7 428.3L514.7 429.7L515.7 430.5L516.7 431.3L517.7 432.1L518.7 433.4L519.7 434.2L520.7 435.0L521.7 436.4L522.7 437.2L523.7 438.0L524.7 438.8L525.7 439.6L526.7 440.9L527.7 441.7L528.7 442.6L529.7 443.3L530.7 444.7L531.7 445.5L532.7 446.3L533.7 447.0L534.7 447.7L535.7 448.4L536.7 449.2L537.7 449.9L538.7 450.7L539.7 450.8L540.7 451.6L541.7 452.3L542.7 453.7L543.7 454.5L544.7 455.2L545.7 455.9L546.7 456.7L547.7 457.5L548.7 458.2L549.7 459.0L550.7 459.7L551.7 460.4L552.7 460.6L553.7 461.3L554.7 462.0L555.7 462.7L556.7 463.5L557.7 464.3L558.7 465.0L559.7 465.7L560.7 466.4L561.7 467.2L562.7 467.3L563.7 468.1L564.7 468.8L565.7 469.5L566.7 470.2L567.7 471.0L568.7 471.7L569.7 472.4L570.7 472.5L571.7 473.2L572.7 473.9L573.7 474.7L574.7 474.8L575.7 475.5L576.7 475.6L577.7 476.3L578.7 477.0L579.7 477.7L580.7 477.8L581.7 478.5L582.7 479.2L583.7 479.9L584.7 480.0L585.7 480.7L586.7 480.8L587.7 481.6L588.7 482.2L589.7 482.9L590.7 483.1L591.7 483.7L592.7 483.8L593.7 484.5L594.7 485.2L595.7 485.9L596.7 486.0L597.7 486.7L598.7 486.8L599.7 487.5L600.7 487.5L601.7 488.2L602.7 488.3L603.7 488.9L604.7 489.0L605.7 489.7L606.7 489.8L607.7 490.5L608.7 491.2L609.7 491.3L610.7 491.3L611.7 492.0L612.7 492.7L613.7 492.8L614.7 493.4L615.7 493.5L616.7 493.6L617.7 494.2L618.7 494.3L619.7 494.9L620.7 495.0L621.7 495.7L622.7 495.7L623.7 495.8L624.7 496.5L625.7 496.6L626.7 497.3L627.7 497.3L628.7 498.0L629.7 498.0L630.7 498.1L631.7 498.7L632.7 498.8L633.7 499.4L634.7 499.5L635.7 499.6L636.7 500.2L637.7 500.3L638.7 500.9L639.7 501.0L640.7 501.0L641.7 501.0L642.7 501.1L643.7 501.1L644.7 501.1L645.7 501.7L646.7 501.8L647.7 501.8L648.7 502.5L649.7 502.5L650.7 503.2L651.7 503.3L652.7 503.3L653.7 503.9L654.7 504.0L655.7 504.1L656.7 504.1L657.7 504.1L658.7 504.7L659.7 504.8L660.7 504.8L661.7 504.8L662.7 504.8L663.7 505.4L664.7 505.5L665.7 506.2L666.7 506.3L667.7 507.0L668.7 507.0L669.7 507.0L670.7 507.0L671.7 507.0L672.7 507.1L673.7 507.7L674.7 507.7L675.7 507.8L676.7 507.8L677.7 507.8L678.7 507.8L679.7 507.8L680.7 507.8L681.7 508.4L682.7 508.4L683.7 508.5L684.7 508.5L685.7 508.6L686.7 508.6L687.7 508.6L688.7 509.2L689.7 509.2L690.7 509.3L691.7 509.3L692.7 509.3L693.7 509.9L694.7 510.0L695.7 510.0L696.7 510.0L697.7 510.0L698.7 510.1L699.7 510.1L700.7 510.7L701.7 510.7L702.7 510.7L703.7 510.8L704.7 510.8L705.7 510.8L706.7 511.4L707.7 510.8L708.7 510.8L709.7 511.4L710.7 511.5L711.7 511.5L712.7 511.4L713.7 511.5L714.7 511.5L715.7 511.6L716.7 512.2L717.7 512.2L718.7 512.2L719.7 512.2L720.7 512.2L721.7 512.3L722.7 512.2L723.7 512.2L724.7 512.2L725.7 512.3L726.7 512.3L727.7 512.3L728.7 512.3L729.7 512.3L730.7 512.3L731.7 512.3L732.7 512.3L733.7 512.3L734.7 512.9L735.7 513.0L736.7 513.0L737.7 513.0L738.7 513.0L739.7 513.0L740.7 512.9L741.7 512.9L742.7 512.9L743.7 512.9L744.7 513.0L745.7 513.1L746.7 513.7"/>
<path d="M132.7 435.1L133.7 434.9L134.7 434.2L135.7 433.5L136.7 432.8L137.7 432.7L138.7 432.1L139.7 431.9L140.7 431.2L141.7 430.5L142.7 429.8L143.7 429.1L144.7 428.3L145.7 427.5L146.7 426.8L147.7 426.0L148.7 425.3L149.7 425.2L150.7 424.4L151.7 423.1L152.7 422.3L153.7 421.5L154.7 420.7L155.7 419.3L156.7 418.5L157.7 417.7L158.7 416.3L159.7 415.5L160.7 414.7L161.7 413.3L162.7 412.4L163.7 411.1L164.7 410.2L165.7 408.8L166.7 407.9L167.7 406.5L168.7 405.7L169.7 404.3L170.7 402.8L171.7 401.3L172.7 399.8L173.7 398.3L174.7 396.8L175.7 395.9L176.7 394.4L177.7 393.0L178.7 391.5L179.7 390.0L180.7 387.8L181.7 386.2L182.7 384.7L183.7 383.2L184.7 381.1L185.7 379.5L186.7 377.9L187.7 375.8L188.7 374.2L189.7 372.0L190.7 369.8L191.7 368.2L192.7 366.0L193.7 364.5L194.7 362.2L195.7 360.1L196.7 358.5L197.7 356.3L198.7 354.7L199.7 352.6L200.7 351.0L201.7 348.8L202.7 347.2L203.7 345.0L204.7 342.8L205.7 340.6L206.7 338.3L207.7 336.1L208.7 334.5L209.7 332.3L210.7 330.0L211.7 327.8L212.7 325.6L213.7 323.9L214.7 321.7L215.7 319.5L216.7 317.2L217.7 315.0L218.7 312.8L219.7 311.2L220.7 309.0L221.7 306.8L222.7 305.2L223.7 303.0L224.7 301.4L225.7 299.2L226.7 296.3L227.7 294.1L228.7 292.5L229.7 290.3L230.7 288.1L231.7 286.4L232.7 284.3L233.7 282.8L234.7 280.5L235.7 277.6L236.7 276.0L237.7 273.8L238.7 271.5L239.7 269.3L240.7 267.8L241.7 266.3L242.7 264.0L243.7 262.4L244.7 260.2L245.7 258.1L246.7 256.5L247.7 254.3L248.7 252.7L249.7 250.4L250.7 248.3L251.7 246.7L252.7 244.5L253.7 243.0L254.7 241.4L255.7 239.3L256.7 237.7L257.7 235.6L258.7 233.9L259.7 232.4L260.7 231.0L261.7 229.6L262.7 228.0L263.7 226.5L264.7 225.0L265.7 223.4L266.7 221.3L267.7 220.4L268.7 219.0L269.7 217.5L270.7 215.3L271.7 214.4L272.7 213.0L273.7 211.6L274.7 210.7L275.7 209.9L276.7 208.6L277.7 207.7L278.7 206.9L279.7 205.5L280.7 204.8L281.7 203.3L282.7 201.8L283.7 200.9L284.7 199.6L285.7 198.7L286.7 197.3L287.7 196.6L288.7 195.8L289.7 194.9L290.7 194.2L291.7 193.4L292.7 192.7L293.7 192.0L294.7 191.3L295.7 191.2L296.7 190.5L297.7 189.8L298.7 189.7L299.7 189.7L300.7 189.1L301.7 188.9L302.7 188.2L303.7 187.5L304.7 187.5L305.7 186.8L306.7 186.7L307.7 186.0L308.7 185.3L309.7 184.6L310.7 184.6L311.7 184.5L312.7 183.8L313.7 183.8L314.7 184.4L315.7 184.5L316.7 184.5L317.7 184.5L318.7 184.5L319.7 184.5L320.7 184.5L321.7 183.8L322.7 183.8L323.7 184.5L324.7 185.3L325.7 186.1L326.7 186.7L327.7 186.7L328.7 186.8L329.7 188.3L330.7 189.0L331.7 189.0L332.7 189.7L333.7 190.4L334.7 190.5L335.7 191.3L336.7 192.1L337.7 192.7L338.7 192.7L339.7 192.7L340.7 192.8L341.7 193.6L342.7 194.3L343.7 195.0L344.7 196.4L345.7 197.9L346.7 198.7L347.7 198.8L348.7 200.2L349.7 201.7L350.7 202.5L351.7 202.6L352.7 203.9L353.7 204.8L354.7 205.5L355.7 206.3L356.7 207.7L357.7 209.2L358.7 210.0L359.7 211.4L360.7 212.9L361.7 214.4L362.7 215.3L363.7 216.1L364.7 217.5L365.7 218.2L366.7 219.0L367.7 220.5L368.7 222.0L369.7 223.5L370.7 224.3L371.7 226.5L372.7 228.7L373.7 230.2L374.7 231.0L375.7 231.8L376.7 232.5L377.7 233.3L378.7 234.8L379.7 236.3L380.7 238.4L381.7 240.0L382.7 242.2L383.7 243.7L384.7 245.2L385.7 246.1L386.7 247.5L387.7 249.0L388.7 250.5L389.7 252.0L390.7 253.5L391.7 255.0L392.7 257.2L393.7 258.7L394.7 259.5L395.7 261.0L396.7 262.6L397.7 264.7L398.7 266.3L399.7 268.4L400.7 270.0L401.7 272.2L402.7 273.1L403.7 274.5L404.7 275.3L405.7 276.7L406.7 278.3L407.7 280.5L408.7 282.1L409.7 283.6L410.7 285.1L411.7 286.5L412.7 288.1L413.7 290.2L414.7 292.4L415.7 294.0L416.7 295.6L417.7 297.7L418.7 299.3L419.7 301.5L420.7 303.0L421.7 304.5L422.7 306.0L423.7 307.5L424.7 309.0L425.7 311.2L426.7 312.8L427.7 314.3L428.7 316.4L429.7 318.0L430.7 319.5L431.7 321.1L432.7 322.6L433.7 324.7L434.7 326.2L435.7 327.7L436.7 329.2L437.7 330.7L438.7 332.2L439.7 333.0L440.7 334.6L441.7 336.7L442.7 338.3L443.7 340.4L444.7 342.0L445.7 343.5L446.7 345.0L447.7 346.5L448.7 348.0L449.7 349.5L450.7 351.1L451.7 353.2L452.7 354.7L453.7 356.3L454.7 357.8L455.7 359.2L456.7 360.7L457.7 362.2L458.7 363.7L459.7 365.3L460.7 366.8L461.7 368.3L462.7 369.8L463.7 371.2L464.7 372.7L465.7 374.2L466.7 375.7L467.7 376.6L468.7 378.1L469.7 379.5L470.7 381.0L471.7 382.4L472.7 383.3L473.7 384.8L474.7 386.3L475.7 387.8L476.7 389.3L477.7 390.7L478.7 391.5L479.7 392.3L480.7 393.8L481.7 395.2L482.7 396.1L483.7 397.5L484.7 398.9L485.7 399.8L486.7 401.3L487.7 402.7L488.7 403.5L489.7 405.0L490.7 405.8L491.7 407.3L492.7 408.7L493.7 409.5L494.7 410.3L495.7 411.8L496.7 413.2L497.7 414.7L498.7 415.5L499.7 416.3L500.7 417.1L501.7 418.4L502.7 419.3L503.7 420.7L504.7 421.6L505.7 423.0L506.7 423.8L507.7 425.2L508.7 426.0L509.7 426.8L510.7 427.6L511.7 429.0L512.7 429.8L513.7 430.5L514.7 431.3L515.7 432.1L516.7 433.5L517.7 434.2L518.7 435.0L519.7 435.8L520.7 436.6L521.7 438.0L522.7 438.8L523.7 439.6L524.7 440.9L525.7 441.7L526.7 442.5L527.7 443.3L528.7 444.0L529.7 444.8L530.7 445.6L531.7 446.3L532.7 447.7L533.7 448.5L534.7 449.2L535.7 449.3L536.7 450.1L537.7 451.4L538.7 452.2L539.7 452.9L540.7 453.7L541.7 453.8L542.7 455.2L543.7 455.9L544.7 456.1L545.7 456.8L546.7 458.2L547.7 458.9L548.7 459.7L549.7 460.4L550.7 461.2L551.7 462.0L552.7 462.7L553.7 462.8L554.7 463.6L555.7 464.3L556.7 465.1L557.7 465.8L558.7 466.6L559.7 467.3L560.7 467.9L561.7 468.1L562.7 468.8L563.7 469.5L564.7 470.2L565.7 470.9L566.7 471.1L567.7 471.8L568.7 472.6L569.7 473.3L570.7 474.0L571.7 474.7L572.7 474.8L573.7 475.6L574.7 476.3L575.7 477.0L576.7 477.1L577.7 477.7L578.7 478.4L579.7 478.6L580.7 479.3L581.7 479.9L582.7 480.0L583.7 480.8L584.7 481.4L585.7 481.5L586.7 482.2L587.7 482.9L588.7 483.0L589.7 483.7L590.7 483.8L591.7 484.4L592.7 484.6L593.7 485.3L594.7 486.0L595.7 486.1L596.7 486.8L597.7 487.4L598.7 487.5L599.7 488.2L600.7 488.3L601.7 488.9L602.7 489.0L603.7 489.7L604.7 489.8L605.7 490.5L606.7 490.5L607.7 491.2L608.7 491.3L609.7 491.9L610.7 492.0L611.7 492.7L612.7 492.8L613.7 493.4L614.7 493.5L615.7 494.2L616.7 494.3L617.7 495.0L618.7 495.1L619.7 495.8L620.7 495.8L621.7 496.4L622.7 496.5L623.7 496.6L624.7 497.2L625.7 497.3L626.7 497.9L627.7 498.0L628.7 498.1L629.7 498.7L630.7 498.7L631.7 498.8L632.7 499.4L633.7 499.5L634.7 500.2L635.7 500.2L636.7 500.3L637.7 500.3L638.7 500.9L639.7 501.0L640.7 501.0L641.7 501.1L642.7 501.7L643.7 501.7L644.7 501.8L645.7 502.4L646.7 502.5L647.7 502.6L648.7 503.2L649.7 503.2L650.7 503.3L651.7 503.3L652.7 504.0L653.7 504.0L654.7 504.1L655.7 504.1L656.7 504.1L657.7 504.7L658.7 504.8L659.7 504.8L660.7 505.4L661.7 505.5L662.7 505.6L663.7 506.2L664.7 506.2L665.7 506.2L666.7 506.3L667.7 506.3L668.7 506.9L669.7 507.0L670.7 507.0L671.7 507.0L672.7 507.1L673.7 507.7L674.7 507.8L675.7 507.8L676.7 507.8L677.7 507.8L678.7 508.4L679.7 508.5L680.7 508.5L681.7 508.5L682.7 508.6L683.7 509.2L684.7 509.2L685.7 509.2L686.7 509.2L687.7 509.3L688.7 509.3L689.7 509.3L690.7 509.3L691.7 509.3L692.7 509.3L693.7 509.9L694.7 510.0L695.7 510.0L696.7 510.0L697.7 510.0L698.7 510.0L699.7 510.1L700.7 510.7L701.7 510.7L702.7 510.7L703.7 510.7L704.7 510.7L705.7 510.8L706.7 510.8L707.7 511.4L708.7 511.4L709.7 511.5L710.7 511.5L711.7 511.5L712.7 511.5L713.7 511.4L714.7 511.5L715.7 511.5L716.7 511.6L717.7 511.6L718.7 511.6L719.7 511.6L720.7 511.6L721.7 512.2L722.7 512.2L723.7 512.2L724.7 512.2L725.7 512.2L726.7 512.2L727.7 512.3L728.7 512.3L729.7 512.3L730.7 512.3L731.7 512.3L732.7 512.3L733.7 512.9L734.7 512.9L735.7 513.0L736.7 513.0L737.7 513.0L738.7 513.0L739.7 513.0L740.7 513.0L741.7 513.1L742.7 513.1L743.7 513.1L744.7 513.1L745.7 513.7L746.7 513.7"/>
<path d="M132.7 431.3L133.7 431.2L134.7 430.5L135.7 430.4L136.7 429.8L137.7 429.1L138.7 428.9L139.7 428.2L140.7 427.5L141.7 426.8L142.7 426.7L143.7 426.0L144.7 425.3L145.7 424.5L146.7 423.7L147.7 423.0L148.7 422.2L149.7 421.5L150.7 420.7L151.7 420.0L152.7 419.3L153.7 418.5L154.7 417.7L155.7 417.0L156.7 416.2L157.7 414.8L158.7 414.0L159.7 412.6L160.7 411.7L161.7 410.3L162.7 409.5L163.7 408.7L164.7 408.0L165.7 406.6L166.7 405.7L167.7 404.3L168.7 403.4L169.7 402.1L170.7 401.2L171.7 399.7L172.7 398.2L173.7 396.8L174.7 395.3L175.7 393.8L176.7 392.3L177.7 390.8L178.7 389.3L179.7 387.8L180.7 386.3L181.7 384.8L182.7 383.2L183.7 381.7L184.7 380.2L185.7 378.7L186.7 376.6L187.7 375.0L188.7 373.5L189.7 372.0L190.7 369.8L191.7 368.3L192.7 366.7L193.7 364.5L194.7 362.9L195.7 360.8L196.7 359.2L197.7 357.0L198.7 355.4L199.7 353.2L200.7 351.0L201.7 348.8L202.7 347.2L203.7 345.0L204.7 343.4L205.7 341.3L206.7 339.7L207.7 338.2L208.7 336.0L209.7 333.8L210.7 332.2L211.7 330.0L212.7 327.8L213.7 325.6L214.7 323.3L215.7 321.1L216.7 318.8L217.7 317.2L218.7 315.1L219.7 312.8L220.7 311.2L221.7 309.0L222.7 306.8L223.7 305.2L224.7 303.7L225.7 301.5L226.7 299.3L227.7 297.0L228.7 294.8L229.7 292.5L230.7 290.9L231.7 288.8L232.7 287.2L233.7 285.0L234.7 282.8L235.7 281.2L236.7 279.1L237.7 276.8L238.7 275.2L239.7 273.0L240.7 271.4L241.7 268.6L242.7 267.0L243.7 265.5L244.7 264.0L245.7 262.5L246.7 261.0L247.7 258.8L248.7 256.5L249.7 254.9L250.7 252.8L251.7 251.3L252.7 249.8L253.7 248.2L254.7 246.0L255.7 244.4L256.7 242.3L257.7 240.7L258.7 239.2L259.7 237.1L260.7 236.2L261.7 234.7L262.7 232.6L263.7 230.3L264.7 228.7L265.7 227.3L266.7 226.5L267.7 225.1L268.7 224.2L269.7 222.8L270.7 221.9L271.7 220.4L272.7 218.3L273.7 217.4L274.7 216.0L275.7 214.5L276.7 213.7L277.7 212.9L278.7 211.6L279.7 210.8L280.7 210.0L281.7 209.2L282.7 207.8L283.7 206.3L284.7 205.4L285.7 204.0L286.7 203.2L287.7 202.5L288.7 201.7L289.7 201.0L290.7 200.2L291.7 199.5L292.7 198.8L293.7 198.7L294.7 198.1L295.7 197.9L296.7 196.6L297.7 195.7L298.7 195.7L299.7 195.7L300.7 195.0L301.7 194.3L302.7 194.3L303.7 194.2L304.7 194.3L305.7 194.3L306.7 194.2L307.7 193.5L308.7 192.8L309.7 192.7L310.7 192.7L311.7 192.7L312.7 192.7L313.7 192.1L314.7 191.3L315.7 191.3L316.7 192.0L317.7 192.7L318.7 193.4L319.7 193.5L320.7 193.5L321.7 192.8L322.7 192.8L323.7 193.5L324.7 193.6L325.7 194.2L326.7 194.2L327.7 194.3L328.7 195.0L329.7 195.8L330.7 195.8L331.7 195.8L332.7 196.6L333.7 197.9L334.7 198.0L335.7 198.1L336.7 199.5L337.7 200.2L338.7 200.2L339.7 199.6L340.7 200.2L341.7 201.0L342.7 201.7L343.7 202.5L344.7 203.9L345.7 204.8L346.7 205.5L347.7 206.3L348.7 207.0L349.7 207.8L350.7 208.5L351.7 209.2L352.7 210.0L353.7 210.8L354.7 212.2L355.7 213.0L356.7 214.4L357.7 215.3L358.7 216.1L359.7 217.4L360.7 218.3L361.7 219.8L362.7 221.3L363.7 222.8L364.7 224.2L365.7 225.0L366.7 225.8L367.7 227.2L368.7 228.0L369.7 229.5L370.7 230.3L371.7 231.7L372.7 233.2L373.7 234.1L374.7 235.6L375.7 237.1L376.7 239.2L377.7 240.8L378.7 242.3L379.7 243.7L380.7 244.5L381.7 245.3L382.7 246.7L383.7 248.2L384.7 249.7L385.7 250.6L386.7 252.0L387.7 253.5L388.7 255.1L389.7 256.6L390.7 258.0L391.7 260.2L392.7 262.5L393.7 263.9L394.7 264.7L395.7 265.6L396.7 267.7L397.7 270.0L398.7 271.6L399.7 273.7L400.7 275.2L401.7 276.7L402.7 278.2L403.7 279.7L404.7 281.2L405.7 282.7L406.7 284.2L407.7 285.8L408.7 287.3L409.7 288.8L410.7 290.3L411.7 291.8L412.7 293.3L413.7 294.8L414.7 296.3L415.7 298.5L416.7 300.0L417.7 301.5L418.7 303.0L419.7 305.2L420.7 306.8L421.7 308.3L422.7 309.8L423.7 311.3L424.7 312.8L425.7 315.0L426.7 317.2L427.7 319.4L428.7 321.0L429.7 322.4L430.7 323.2L431.7 324.1L432.7 326.2L433.7 327.7L434.7 329.3L435.7 330.8L436.7 332.3L437.7 334.4L438.7 336.0L439.7 337.5L440.7 339.0L441.7 340.5L442.7 342.0L443.7 344.2L444.7 345.8L445.7 347.3L446.7 349.4L447.7 350.3L448.7 351.8L449.7 353.2L450.7 354.7L451.7 356.2L452.7 357.7L453.7 359.2L454.7 360.8L455.7 362.3L456.7 363.8L457.7 365.2L458.7 366.8L459.7 368.3L460.7 369.7L461.7 371.2L462.7 372.1L463.7 373.6L464.7 375.1L465.7 376.6L466.7 378.0L467.7 379.4L468.7 380.3L469.7 381.8L470.7 383.9L471.7 385.4L472.7 386.3L473.7 387.7L474.7 389.2L475.7 390.7L476.7 391.6L477.7 393.0L478.7 393.8L479.7 395.3L480.7 396.7L481.7 398.2L482.7 399.0L483.7 399.8L484.7 401.2L485.7 402.0L486.7 403.5L487.7 404.3L488.7 405.8L489.7 407.2L490.7 408.7L491.7 409.5L492.7 410.3L493.7 411.7L494.7 412.6L495.7 413.9L496.7 414.8L497.7 416.2L498.7 417.1L499.7 418.5L500.7 419.3L501.7 420.7L502.7 421.6L503.7 423.0L504.7 423.8L505.7 424.5L506.7 425.9L507.7 426.7L508.7 427.5L509.7 428.9L510.7 429.7L511.7 430.5L512.7 431.3L513.7 432.1L514.7 433.4L515.7 434.2L516.7 435.0L517.7 435.8L518.7 436.6L519.7 437.9L520.7 438.7L521.7 439.5L522.7 440.3L523.7 441.7L524.7 442.4L525.7 443.2L526.7 444.0L527.7 444.7L528.7 445.5L529.7 446.2L530.7 447.0L531.7 448.4L532.7 449.2L533.7 450.0L534.7 450.7L535.7 451.4L536.7 451.6L537.7 452.3L538.7 453.1L539.7 453.8L540.7 454.6L541.7 455.9L542.7 456.7L543.7 457.5L544.7 458.2L545.7 458.9L546.7 459.7L547.7 460.4L548.7 461.2L549.7 461.9L550.7 462.1L551.7 462.8L552.7 463.6L553.7 464.3L554.7 465.0L555.7 465.8L556.7 466.5L557.7 467.2L558.7 467.9L559.7 468.1L560.7 468.7L561.7 468.8L562.7 469.5L563.7 470.3L564.7 471.0L565.7 471.8L566.7 472.4L567.7 472.6L568.7 473.3L569.7 474.0L570.7 474.7L571.7 475.4L572.7 475.5L573.7 476.3L574.7 477.0L575.7 477.1L576.7 477.8L577.7 478.5L578.7 479.2L579.7 480.0L580.7 480.1L581.7 480.7L582.7 480.8L583.7 481.5L584.7 482.3L585.7 482.9L586.7 483.0L587.7 483.1L588.7 483.8L589.7 484.4L590.7 484.5L591.7 485.2L592.7 485.9L593.7 486.1L594.7 486.7L595.7 487.4L596.7 487.5L597.7 488.2L598.7 488.3L599.7 488.9L600.7 489.0L601.7 489.7L602.7 489.8L603.7 490.4L604.7 490.5L605.7 490.6L606.7 491.2L607.7 491.3L608.7 492.0L609.7 492.7L610.7 492.8L611.7 493.5L612.7 493.6L613.7 494.2L614.7 494.3L615.7 495.0L616.7 495.0L617.7 495.7L618.7 495.7L619.7 495.7L620.7 495.8L621.7 496.5L622.7 497.2L623.7 497.2L624.7 497.3L625.7 497.3L626.7 498.0L627.7 498.0L628.7 498.1L629.7 498.7L630.7 498.7L631.7 498.8L632.7 499.4L633.7 499.6L634.7 500.2L635.7 500.3L636.7 500.3L637.7 501.0L638.7 501.1L639.7 501.7L640.7 501.7L641.7 501.8L642.7 501.8L643.7 502.4L644.7 502.5L645.7 503.2L646.7 503.3L647.7 503.3L648.7 503.3L649.7 503.3L650.7 503.9L651.7 504.0L652.7 504.0L653.7 504.1L654.7 504.7L655.7 504.8L656.7 505.4L657.7 505.5L658.7 505.5L659.7 506.2L660.7 506.2L661.7 506.2L662.7 506.2L663.7 506.2L664.7 506.2L665.7 506.2L666.7 506.3L667.7 506.9L668.7 507.0L669.7 507.0L670.7 507.1L671.7 507.7L672.7 507.7L673.7 507.8L674.7 508.4L675.7 508.4L676.7 508.5L677.7 508.5L678.7 508.5L679.7 508.5L680.7 508.5L681.7 508.5L682.7 509.2L683.7 509.2L684.7 509.3L685.7 509.3L686.7 509.3L687.7 509.3L688.7 509.3L689.7 509.9L690.7 509.9L691.7 509.9L692.7 510.0L693.7 510.0L694.7 510.1L695.7 510.7L696.7 510.7L697.7 510.7L698.7 510.7L699.7 510.7L700.7 510.7L701.7 510.7L702.7 510.7L703.7 510.8L704.7 510.8L705.7 510.8L706.7 510.8L707.7 511.4L708.7 511.5L709.7 511.5L710.7 511.5L711.7 511.5L712.7 511.6L713.7 512.2L714.7 512.2L715.7 512.2L716.7 512.2L717.7 512.2L718.7 512.2L719.7 512.2L720.7 512.2L721.7 512.2L722.7 512.3L723.7 512.3L724.7 512.9L725.7 512.3L726.7 512.3L727.7 512.9L728.7 513.0L729.7 513.0L730.7 513.0L731.7 513.0L732.7 513.0L733.7 513.0L734.7 513.0L735.7 513.0L736.7 513.0L737.7 513.1L738.7 513.7L739.7 513.7L740.7 513.7L741.7 513.7L742.7 513.7L743.7 513.7L744.7 513.7L745.7 513.7L746.7 513.7"/>
<path d="M132.7 427.5L133.7 426.8L134.7 426.7L135.7 426.7L136.7 426.0L137.7 426.0L138.7 425.3L139.7 424.6L140.7 424.4L141.7 423.7L142.7 423.0L143.7 422.3L144.7 421.6L145.7 421.5L146.7 420.7L147.7 420.0L148.7 419.3L149.7 418.5L150.7 417.7L151.7 417.0L152.7 416.3L153.7 415.6L154.7 414.8L155.7 414.0L156.7 412.6L157.7 411.8L158.7 411.0L159.7 410.3L160.7 409.5L161.7 408.7L162.7 407.3L163.7 406.5L164.7 405.1L165.7 404.2L166.7 402.8L167.7 402.0L168.7 401.2L169.7 399.8L170.7 399.0L171.7 398.2L172.7 396.8L173.7 395.2L174.7 393.8L175.7 392.9L176.7 391.5L177.7 390.0L178.7 388.5L179.7 387.0L180.7 385.5L181.7 384.7L182.7 383.3L183.7 381.7L184.7 380.2L185.7 378.0L186.7 376.6L187.7 375.1L188.7 373.5L189.7 371.9L190.7 370.4L191.7 368.9L192.7 367.4L193.7 365.3L194.7 363.7L195.7 361.5L196.7 359.9L197.7 357.8L198.7 356.2L199.7 354.0L200.7 352.4L201.7 350.3L202.7 348.7L203.7 346.5L204.7 344.9L205.7 342.8L206.7 341.3L207.7 339.1L208.7 337.5L209.7 335.9L210.7 333.7L211.7 331.4L212.7 329.2L213.7 327.0L214.7 324.8L215.7 323.2L216.7 320.9L217.7 318.7L218.7 317.2L219.7 315.1L220.7 313.5L221.7 311.3L222.7 309.7L223.7 307.5L224.7 305.3L225.7 303.0L226.7 300.8L227.7 299.2L228.7 297.0L229.7 294.8L230.7 292.6L231.7 291.0L232.7 288.8L233.7 287.2L234.7 285.7L235.7 284.2L236.7 282.7L237.7 280.5L238.7 278.3L239.7 276.7L240.7 274.5L241.7 272.3L242.7 270.1L243.7 268.4L244.7 266.2L245.7 264.0L246.7 262.5L247.7 260.9L248.7 258.8L249.7 256.6L250.7 255.0L251.7 253.4L252.7 251.3L253.7 249.7L254.7 248.3L255.7 246.8L256.7 245.2L257.7 243.1L258.7 242.3L259.7 240.8L260.7 239.3L261.7 237.7L262.7 235.6L263.7 234.7L264.7 233.3L265.7 231.8L266.7 230.3L267.7 228.8L268.7 227.3L269.7 226.5L270.7 225.7L271.7 224.3L272.7 222.8L273.7 222.0L274.7 221.2L275.7 219.8L276.7 218.3L277.7 217.5L278.7 216.7L279.7 215.9L280.7 214.5L281.7 213.0L282.7 211.5L283.7 210.8L284.7 210.7L285.7 210.1L286.7 210.0L287.7 209.2L288.7 207.8L289.7 207.0L290.7 205.6L291.7 204.8L292.7 204.7L293.7 204.0L294.7 204.0L295.7 204.0L296.7 203.2L297.7 202.4L298.7 201.8L299.7 201.7L300.7 201.0L301.7 200.9L302.7 200.3L303.7 199.5L304.7 199.5L305.7 199.5L306.7 199.4L307.7 198.1L308.7 198.0L309.7 198.1L310.7 198.8L311.7 198.7L312.7 197.9L313.7 197.9L314.7 198.0L315.7 198.7L316.7 198.7L317.7 198.8L318.7 198.8L319.7 199.5L320.7 199.4L321.7 198.8L322.7 198.7L323.7 198.8L324.7 199.5L325.7 200.2L326.7 200.9L327.7 200.9L328.7 200.9L329.7 201.0L330.7 201.7L331.7 201.8L332.7 202.4L333.7 202.6L334.7 203.3L335.7 204.0L336.7 204.7L337.7 204.1L338.7 204.1L339.7 204.8L340.7 205.6L341.7 206.9L342.7 207.7L343.7 208.4L344.7 208.5L345.7 209.2L346.7 210.0L347.7 211.5L348.7 213.1L349.7 214.5L350.7 215.2L351.7 216.7L352.7 217.6L353.7 218.3L354.7 219.0L355.7 219.7L356.7 219.8L357.7 220.6L358.7 222.0L359.7 222.7L360.7 223.6L361.7 225.0L362.7 226.4L363.7 227.3L364.7 228.8L365.7 229.6L366.7 231.0L367.7 231.8L368.7 233.2L369.7 234.7L370.7 236.2L371.7 237.0L372.7 237.8L373.7 239.2L374.7 240.7L375.7 242.2L376.7 243.0L377.7 244.5L378.7 246.0L379.7 247.5L380.7 248.9L381.7 249.8L382.7 251.3L383.7 253.5L384.7 255.0L385.7 256.4L386.7 257.3L387.7 258.7L388.7 260.2L389.7 261.7L390.7 263.2L391.7 264.1L392.7 265.5L393.7 267.0L394.7 268.5L395.7 270.0L396.7 271.5L397.7 273.0L398.7 274.5L399.7 276.0L400.7 277.5L401.7 279.0L402.7 279.8L403.7 281.3L404.7 283.5L405.7 285.1L406.7 287.2L407.7 288.7L408.7 290.2L409.7 291.7L410.7 293.3L411.7 295.4L412.7 297.0L413.7 298.5L414.7 300.7L415.7 302.2L416.7 303.7L417.7 305.2L418.7 306.8L419.7 308.3L420.7 309.8L421.7 311.3L422.7 312.8L423.7 314.3L424.7 315.8L425.7 317.2L426.7 318.7L427.7 319.6L428.7 321.8L429.7 324.0L430.7 325.6L431.7 327.7L432.7 329.3L433.7 330.8L434.7 332.3L435.7 333.8L436.7 335.3L437.7 336.8L438.7 338.9L439.7 340.5L440.7 342.0L441.7 343.5L442.7 344.9L443.7 346.5L444.7 348.0L445.7 349.5L446.7 351.0L447.7 352.5L448.7 354.0L449.7 355.6L450.7 357.1L451.7 359.2L452.7 360.7L453.7 361.6L454.7 363.1L455.7 365.2L456.7 366.1L457.7 367.6L458.7 369.1L459.7 370.5L460.7 372.0L461.7 373.5L462.7 375.0L463.7 376.4L464.7 377.3L465.7 379.4L466.7 380.3L467.7 381.7L468.7 383.2L469.7 384.1L470.7 385.6L471.7 387.0L472.7 388.4L473.7 389.3L474.7 390.8L475.7 392.2L476.7 393.0L477.7 394.4L478.7 395.9L479.7 397.4L480.7 398.3L481.7 399.7L482.7 400.6L483.7 402.0L484.7 403.5L485.7 404.3L486.7 405.7L487.7 406.5L488.7 408.0L489.7 408.8L490.7 410.2L491.7 411.1L492.7 412.5L493.7 413.2L494.7 414.1L495.7 415.5L496.7 416.9L497.7 417.8L498.7 419.3L499.7 420.7L500.7 421.4L501.7 422.2L502.7 423.0L503.7 423.8L504.7 424.6L505.7 426.0L506.7 426.8L507.7 428.2L508.7 429.0L509.7 429.8L510.7 431.2L511.7 432.0L512.7 432.7L513.7 433.5L514.7 434.3L515.7 435.7L516.7 436.4L517.7 437.2L518.7 438.0L519.7 438.7L520.7 439.5L521.7 440.3L522.7 441.7L523.7 442.4L524.7 443.2L525.7 444.0L526.7 444.8L527.7 445.6L528.7 446.3L529.7 447.0L530.7 447.8L531.7 449.2L532.7 450.0L533.7 450.8L534.7 451.5L535.7 452.3L536.7 453.1L537.7 453.8L538.7 454.5L539.7 455.2L540.7 456.0L541.7 456.7L542.7 457.5L543.7 458.3L544.7 459.0L545.7 459.7L546.7 460.4L547.7 460.6L548.7 461.3L549.7 462.1L550.7 462.8L551.7 463.6L552.7 464.3L553.7 465.1L554.7 465.8L555.7 466.5L556.7 467.3L557.7 468.0L558.7 468.7L559.7 468.8L560.7 469.5L561.7 470.2L562.7 470.9L563.7 471.1L564.7 471.8L565.7 472.5L566.7 472.6L567.7 473.2L568.7 473.9L569.7 474.1L570.7 474.8L571.7 475.5L572.7 476.2L573.7 476.3L574.7 477.0L575.7 477.8L576.7 478.5L577.7 479.2L578.7 479.3L579.7 480.0L580.7 480.7L581.7 481.4L582.7 481.5L583.7 482.2L584.7 482.3L585.7 482.9L586.7 483.1L587.7 483.7L588.7 484.4L589.7 484.5L590.7 485.2L591.7 485.3L592.7 486.0L593.7 486.7L594.7 486.7L595.7 487.4L596.7 487.5L597.7 488.2L598.7 488.9L599.7 489.0L600.7 489.7L601.7 489.8L602.7 490.5L603.7 490.6L604.7 491.2L605.7 491.3L606.7 492.0L607.7 492.7L608.7 492.7L609.7 492.8L610.7 493.5L611.7 494.2L612.7 494.3L613.7 494.9L614.7 495.0L615.7 495.1L616.7 495.7L617.7 495.8L618.7 496.4L619.7 496.5L620.7 497.2L621.7 497.2L622.7 497.3L623.7 498.0L624.7 498.0L625.7 498.0L626.7 498.0L627.7 498.1L628.7 498.7L629.7 498.8L630.7 498.8L631.7 499.4L632.7 499.6L633.7 500.2L634.7 500.2L635.7 500.3L636.7 500.9L637.7 501.0L638.7 501.1L639.7 501.7L640.7 501.8L641.7 502.4L642.7 502.5L643.7 502.5L644.7 502.6L645.7 503.2L646.7 503.3L647.7 503.3L648.7 504.0L649.7 504.0L650.7 504.1L651.7 504.7L652.7 504.7L653.7 504.8L654.7 505.4L655.7 505.5L656.7 505.5L657.7 505.4L658.7 505.4L659.7 505.5L660.7 506.2L661.7 506.2L662.7 506.3L663.7 506.3L664.7 506.3L665.7 506.9L666.7 506.9L667.7 507.0L668.7 507.0L669.7 507.0L670.7 507.1L671.7 507.7L672.7 507.8L673.7 507.8L674.7 508.4L675.7 508.4L676.7 508.4L677.7 508.5L678.7 508.6L679.7 509.2L680.7 509.2L681.7 509.3L682.7 509.3L683.7 509.3L684.7 509.2L685.7 509.2L686.7 509.3L687.7 509.9L688.7 510.0L689.7 510.0L690.7 510.0L691.7 510.1L692.7 510.7L693.7 510.7L694.7 510.7L695.7 510.7L696.7 510.7L697.7 510.7L698.7 510.8L699.7 510.8L700.7 510.8L701.7 511.4L702.7 511.4L703.7 511.4L704.7 511.5L705.7 511.5L706.7 511.5L707.7 511.5L708.7 511.6L709.7 511.6L710.7 511.6L711.7 511.6L712.7 511.6L713.7 512.2L714.7 512.2L715.7 512.2L716.7 512.2L717.7 512.2L718.7 512.3L719.7 512.2L720.7 512.3L721.7 512.3L722.7 512.3L723.7 512.9L724.7 513.0L725.7 513.0L726.7 513.0L727.7 513.0L728.7 513.0L729.7 513.0L730.7 513.1L731.7 513.1L732.7 513.7L733.7 513.7L734.7 513.1L735.7 513.7L736.7 513.7L737.7 513.7L738.7 513.7L739.7 513.7L740.7 513.8L741.7 513.8L742.7 513.8L743.7 513.8L744.7 513.8L745.7 513.8L746.7 513.8"/>
<path d="M132.7 1143.9L133.7 1143.9L134.7 1143.9L135.7 1143.8L136.7 1143.8L137.7 1143.7L138.7 1143.7L139.7 1143.7L140.7 1143.1L141.7 1143.0L142.7 1142.9L143.7 1142.9L144.7 1142.4L145.7 1142.2L146.7 1142.1L147.7 1141.6L148.7 1141.4L149.7 1140.8L150.7 1140.6L151.7 1140.0L152.7 1139.3L153.7 1139.1L154.7 1138.5L155.7 1137.8L156.7 1137.1L157.7 1136.9L158.7 1136.2L159.7 1135.5L160.7 1134.7L161.7 1134.0L162.7 1133.2L163.7 1132.4L164.7 1131.6L165.7 1130.3L166.7 1129.4L167.7 1128.0L168.7 1127.2L169.7 1125.9L170.7 1124.9L171.7 1123.4L172.7 1122.0L173.7 1120.5L174.7 1119.1L175.7 1117.6L176.7 1116.6L177.7 1114.6L178.7 1113.1L179.7 1111.5L180.7 1109.9L181.7 1107.7L182.7 1105.6L183.7 1103.4L184.7 1101.6L185.7 1099.4L186.7 1097.1L187.7 1094.9L188.7 1092.6L189.7 1089.9L190.7 1087.5L191.7 1085.1L192.7 1082.3L193.7 1079.9L194.7 1077.0L195.7 1074.1L196.7 1071.6L197.7 1068.6L198.7 1065.6L199.7 1062.1L200.7 1059.0L201.7 1056.0L202.7 1052.9L203.7 1049.3L204.7 1045.6L205.7 1042.4L206.7 1038.8L207.7 1035.0L208.7 1031.3L209.7 1027.6L210.7 1023.9L211.7 1020.6L212.7 1016.9L213.7 1012.5L214.7 1008.0L215.7 1003.6L216.7 999.6L217.7 994.6L218.7 989.3L219.7 983.3L220.7 977.9L221.7 972.1L222.7 966.8L223.7 961.5L224.7 956.9L225.7 953.1L226.7 949.6L227.7 947.2L228.7 944.9L229.7 942.7L230.7 940.5L231.7 937.6L232.7 934.6L233.7 931.5L234.7 928.5L235.7 924.9L236.7 921.1L237.7 917.3L238.7 914.1L239.7 910.5L240.7 906.7L241.7 902.3L242.7 897.8L243.7 894.0L244.7 890.9L245.7 887.2L246.7 882.7L247.7 878.3L248.7 874.5L249.7 870.6L250.7 866.3L251.7 862.6L252.7 859.4L253.7 855.7L254.7 851.9L255.7 847.6L256.7 843.8L257.7 839.9L258.7 835.5L259.7 831.8L260.7 828.7L261.7 825.0L262.7 821.3L263.7 818.2L264.7 814.5L265.7 810.7L266.7 806.3L267.7 801.9L268.7 797.9L269.7 793.5L270.7 789.7L271.7 785.9L272.7 782.3L273.7 779.2L274.7 775.6L275.7 772.5L276.7 769.4L277.7 766.6L278.7 764.9L279.7 762.1L280.7 759.6L281.7 756.1L282.7 753.8L283.7 752.1L284.7 749.9L285.7 747.6L286.7 744.7L287.7 741.7L288.7 738.8L289.7 736.6L290.7 734.9L291.7 732.6L292.7 730.4L293.7 727.6L294.7 725.3L295.7 723.6L296.7 721.6L297.7 720.0L298.7 718.4L299.7 716.3L300.7 714.7L301.7 712.6L302.7 710.9L303.7 708.9L304.7 707.3L305.7 706.4L306.7 705.1L307.7 704.3L308.7 703.5L309.7 702.6L310.7 701.3L311.7 700.5L312.7 699.6L313.7 698.3L314.7 698.1L315.7 697.5L316.7 696.8L317.7 696.0L318.7 695.2L319.7 694.6L320.7 694.5L321.7 693.7L322.7 692.3L323.7 691.5L324.7 691.4L325.7 691.4L326.7 690.9L327.7 690.9L328.7 690.9L329.7 690.8L330.7 691.5L331.7 692.1L332.7 692.2L333.7 692.2L334.7 692.3L335.7 692.2L336.7 692.1L337.7 691.6L338.7 691.6L339.7 691.5L340.7 691.5L341.7 691.4L342.7 691.5L343.7 692.9L344.7 693.8L345.7 694.4L346.7 694.5L347.7 695.3L348.7 696.0L349.7 696.8L350.7 697.5L351.7 698.3L352.7 699.7L353.7 701.1L354.7 702.0L355.7 702.8L356.7 704.2L357.7 705.8L358.7 708.0L359.7 709.4L360.7 710.2L361.7 710.9L362.7 711.0L363.7 711.7L364.7 712.6L365.7 714.1L366.7 715.4L367.7 716.3L368.7 717.1L369.7 717.7L370.7 718.5L371.7 719.9L372.7 721.4L373.7 722.9L374.7 724.5L375.7 725.9L376.7 726.8L377.7 728.3L378.7 730.4L379.7 732.0L380.7 733.6L381.7 735.1L382.7 737.4L383.7 739.6L384.7 741.6L385.7 743.1L386.7 745.4L387.7 747.7L388.7 749.9L389.7 752.2L390.7 754.5L391.7 756.8L392.7 759.6L393.7 761.9L394.7 764.2L395.7 766.6L396.7 768.7L397.7 770.3L398.7 772.5L399.7 774.1L400.7 776.1L401.7 778.4L402.7 780.8L403.7 783.1L404.7 785.3L405.7 787.5L406.7 789.7L407.7 791.9L408.7 794.1L409.7 795.8L410.7 797.4L411.7 799.4L412.7 801.0L413.7 803.1L414.7 805.4L415.7 807.1L416.7 808.6L417.7 810.7L418.7 812.4L419.7 814.5L420.7 816.7L421.7 818.3L422.7 820.5L423.7 822.8L424.7 824.4L425.7 826.4L426.7 828.6L427.7 830.4L428.7 832.5L429.7 834.6L430.7 836.9L431.7 839.2L432.7 840.6L433.7 842.2L434.7 843.9L435.7 845.9L436.7 847.5L437.7 849.1L438.7 851.4L439.7 853.6L440.7 855.7L441.7 857.2L442.7 859.4L443.7 861.1L444.7 862.6L445.7 864.6L446.7 866.4L447.7 868.6L448.7 870.7L449.7 872.3L450.7 874.4L451.7 876.1L452.7 878.3L453.7 879.8L454.7 881.2L455.7 882.8L456.7 885.0L457.7 887.1L458.7 888.9L459.7 891.1L460.7 893.2L461.7 894.8L462.7 896.9L463.7 898.6L464.7 900.8L465.7 903.0L466.7 905.1L467.7 906.8L468.7 909.0L469.7 910.6L470.7 912.7L471.7 914.3L472.7 916.4L473.7 918.0L474.7 920.1L475.7 922.4L476.7 924.6L477.7 926.3L478.7 928.5L479.7 930.1L480.7 932.1L481.7 933.7L482.7 935.4L483.7 937.6L484.7 939.8L485.7 941.9L486.7 943.4L487.7 944.4L488.7 946.4L489.7 948.1L490.7 950.2L491.7 951.8L492.7 953.9L493.7 955.4L494.7 957.0L495.7 958.6L496.7 960.6L497.7 962.2L498.7 963.8L499.7 965.3L500.7 966.9L501.7 968.9L502.7 970.4L503.7 971.9L504.7 973.4L505.7 975.0L506.7 976.6L507.7 978.1L508.7 979.6L509.7 981.1L510.7 982.6L511.7 984.1L512.7 986.2L513.7 987.7L514.7 989.2L515.7 990.7L516.7 992.2L517.7 993.7L518.7 995.2L519.7 996.6L520.7 997.6L521.7 999.1L522.7 1000.6L523.7 1002.1L524.7 1003.6L525.7 1005.1L526.7 1006.5L527.7 1007.9L528.7 1008.8L529.7 1010.2L530.7 1011.6L531.7 1012.6L532.7 1014.0L533.7 1015.4L534.7 1016.4L535.7 1017.8L536.7 1019.2L537.7 1020.6L538.7 1022.1L539.7 1023.1L540.7 1024.5L541.7 1025.9L542.7 1026.8L543.7 1028.2L544.7 1029.6L545.7 1030.6L546.7 1032.0L547.7 1033.4L548.7 1034.3L549.7 1035.8L550.7 1037.2L551.7 1038.1L552.7 1039.5L553.7 1041.0L554.7 1042.4L555.7 1043.3L556.7 1044.8L557.7 1046.2L558.7 1047.1L559.7 1048.5L560.7 1049.4L561.7 1050.7L562.7 1051.6L563.7 1053.0L564.7 1054.4L565.7 1055.3L566.7 1056.1L567.7 1057.4L568.7 1058.2L569.7 1059.1L570.7 1060.4L571.7 1061.3L572.7 1062.6L573.7 1063.6L574.7 1064.9L575.7 1065.8L576.7 1066.6L577.7 1067.9L578.7 1068.8L579.7 1069.6L580.7 1070.9L581.7 1071.8L582.7 1073.1L583.7 1073.9L584.7 1074.7L585.7 1075.5L586.7 1076.3L587.7 1077.1L588.7 1078.4L589.7 1079.3L590.7 1080.0L591.7 1080.8L592.7 1081.5L593.7 1082.2L594.7 1083.0L595.7 1083.8L596.7 1084.6L597.7 1085.3L598.7 1086.1L599.7 1086.8L600.7 1087.6L601.7 1088.4L602.7 1089.1L603.7 1089.8L604.7 1090.5L605.7 1091.2L606.7 1092.0L607.7 1092.8L608.7 1093.5L609.7 1094.2L610.7 1094.9L611.7 1095.6L612.7 1095.9L613.7 1096.6L614.7 1097.4L615.7 1098.1L616.7 1098.8L617.7 1099.5L618.7 1100.2L619.7 1100.9L620.7 1101.1L621.7 1101.9L622.7 1102.5L623.7 1103.2L624.7 1103.9L625.7 1104.7L626.7 1105.4L627.7 1105.6L628.7 1106.3L629.7 1106.9L630.7 1107.1L631.7 1107.8L632.7 1108.5L633.7 1109.1L634.7 1109.3L635.7 1110.0L636.7 1110.6L637.7 1110.8L638.7 1111.5L639.7 1111.6L640.7 1112.2L641.7 1112.9L642.7 1113.1L643.7 1113.7L644.7 1113.8L645.7 1114.5L646.7 1114.6L647.7 1115.2L648.7 1115.4L649.7 1116.1L650.7 1116.8L651.7 1117.4L652.7 1117.5L653.7 1117.5L654.7 1118.1L655.7 1118.3L656.7 1118.9L657.7 1119.1L658.7 1119.7L659.7 1119.8L660.7 1120.4L661.7 1120.5L662.7 1120.6L663.7 1121.3L664.7 1121.9L665.7 1122.1L666.7 1122.7L667.7 1122.9L668.7 1123.4L669.7 1123.6L670.7 1124.2L671.7 1124.3L672.7 1124.9L673.7 1125.1L674.7 1125.7L675.7 1125.8L676.7 1125.9L677.7 1126.4L678.7 1126.5L679.7 1126.6L680.7 1127.1L681.7 1127.2L682.7 1127.3L683.7 1127.4L684.7 1128.0L685.7 1128.1L686.7 1128.6L687.7 1128.7L688.7 1128.8L689.7 1128.8L690.7 1128.9L691.7 1129.4L692.7 1129.5L693.7 1129.5L694.7 1129.6L695.7 1130.2L696.7 1130.3L697.7 1130.9L698.7 1131.0L699.7 1131.1L700.7 1131.7L701.7 1131.7L702.7 1131.7L703.7 1131.8L704.7 1131.8L705.7 1132.4L706.7 1132.5L707.7 1132.6L708.7 1133.1L709.7 1133.2L710.7 1133.3L711.7 1133.4L712.7 1134.0L713.7 1134.0L714.7 1134.0L715.7 1134.1L716.7 1134.1L717.7 1134.6L718.7 1134.6L719.7 1134.6L720.7 1134.7L721.7 1134.8L722.7 1135.4L723.7 1135.4L724.7 1135.5L725.7 1135.5L726.7 1135.6L727.7 1136.1L728.7 1136.2L729.7 1136.2L730.7 1136.3L731.7 1136.3L732.7 1136.4L733.7 1137.0L734.7 1137.0L735.7 1137.0L736.7 1137.0L737.7 1137.1L738.7 1137.1L739.7 1137.6L740.7 1137.7L741.7 1137.7L742.7 1137.8L743.7 1137.8L744.7 1137.8L745.7 1137.8L746.7 1137.8"/>
<path d="M132.7 1143.9L133.7 1143.9L134.7 1143.8L135.7 1143.8L136.7 1143.8L137.7 1143.8L138.7 1143.7L139.7 1143.6L140.7 1143.1L141.7 1143.0L142.7 1142.9L143.7 1142.9L144.7 1142.9L145.7 1142.4L146.7 1142.2L147.7 1141.6L148.7 1141.4L149.7 1140.9L150.7 1140.7L151.7 1140.1L152.7 1139.9L153.7 1139.4L154.7 1139.2L155.7 1138.6L156.7 1137.8L157.7 1137.6L158.7 1136.9L159.7 1136.1L160.7 1134.9L161.7 1134.1L162.7 1133.3L163.7 1133.1L164.7 1132.4L165.7 1131.1L166.7 1130.3L167.7 1129.5L168.7 1128.8L169.7 1127.9L170.7 1126.6L171.7 1125.6L172.7 1124.2L173.7 1122.8L174.7 1121.4L175.7 1120.4L176.7 1119.0L177.7 1117.4L178.7 1115.4L179.7 1113.7L180.7 1111.6L181.7 1110.0L182.7 1108.4L183.7 1106.4L184.7 1104.7L185.7 1102.6L186.7 1100.9L187.7 1098.6L188.7 1095.8L189.7 1093.6L190.7 1091.4L191.7 1089.1L192.7 1086.7L193.7 1083.9L194.7 1081.5L195.7 1078.6L196.7 1075.6L197.7 1073.2L198.7 1070.3L199.7 1067.3L200.7 1064.4L201.7 1061.9L202.7 1058.9L203.7 1055.9L204.7 1052.9L205.7 1049.9L206.7 1046.3L207.7 1042.6L208.7 1038.7L209.7 1035.0L210.7 1032.0L211.7 1029.0L212.7 1025.3L213.7 1021.6L214.7 1017.8L215.7 1014.1L216.7 1010.3L217.7 1006.6L218.7 1003.4L219.7 999.8L220.7 996.6L221.7 992.9L222.7 989.2L223.7 985.4L224.7 981.8L225.7 978.1L226.7 974.9L227.7 971.3L228.7 967.4L229.7 963.1L230.7 959.9L231.7 955.6L232.7 951.7L233.7 948.0L234.7 944.4L235.7 941.3L236.7 938.3L237.7 935.4L238.7 933.0L239.7 930.0L240.7 926.4L241.7 922.4L242.7 917.9L243.7 913.5L244.7 909.6L245.7 905.1L246.7 900.7L247.7 896.4L248.7 893.1L249.7 889.5L250.7 885.7L251.7 882.0L252.7 878.4L253.7 875.2L254.7 871.6L255.7 868.4L256.7 864.8L257.7 861.1L258.7 857.3L259.7 853.6L260.7 850.4L261.7 846.7L262.7 843.0L263.7 839.2L264.7 835.5L265.7 832.4L266.7 829.4L267.7 826.4L268.7 822.7L269.7 819.0L270.7 815.4L271.7 812.2L272.7 808.6L273.7 805.4L274.7 802.4L275.7 799.6L276.7 796.6L277.7 793.4L278.7 789.9L279.7 787.5L280.7 785.2L281.7 783.0L282.7 781.4L283.7 779.2L284.7 776.4L285.7 774.1L286.7 771.8L287.7 768.8L288.7 766.4L289.7 764.9L290.7 763.5L291.7 762.0L292.7 759.9L293.7 757.6L294.7 755.4L295.7 753.0L296.7 750.9L297.7 749.9L298.7 748.4L299.7 746.1L300.7 743.4L301.7 742.4L302.7 741.0L303.7 739.6L304.7 738.1L305.7 737.2L306.7 736.4L307.7 734.9L308.7 733.6L309.7 733.4L310.7 732.1L311.7 731.3L312.7 730.5L313.7 729.9L314.7 729.8L315.7 729.0L316.7 728.2L317.7 726.8L318.7 725.9L319.7 724.6L320.7 724.5L321.7 724.5L322.7 723.9L323.7 723.0L324.7 722.3L325.7 722.3L326.7 722.9L327.7 722.4L328.7 722.1L329.7 721.5L330.7 721.5L331.7 721.4L332.7 720.8L333.7 720.7L334.7 720.8L335.7 721.4L336.7 722.1L337.7 722.3L338.7 721.6L339.7 720.8L340.7 720.8L341.7 721.6L342.7 723.0L343.7 724.4L344.7 725.3L345.7 726.7L346.7 728.1L347.7 729.1L348.7 730.4L349.7 730.6L350.7 730.6L351.7 730.6L352.7 731.3L353.7 732.6L354.7 733.6L355.7 735.1L356.7 736.5L357.7 736.6L358.7 737.3L359.7 738.0L360.7 738.9L361.7 739.6L362.7 740.9L363.7 741.8L364.7 742.5L365.7 743.3L366.7 744.0L367.7 744.9L368.7 746.3L369.7 747.0L370.7 747.8L371.7 748.6L372.7 749.9L373.7 750.8L374.7 752.3L375.7 753.8L376.7 755.3L377.7 757.4L378.7 759.1L379.7 761.1L380.7 762.7L381.7 764.3L382.7 765.8L383.7 767.4L384.7 769.6L385.7 772.5L386.7 774.1L387.7 776.2L388.7 777.8L389.7 779.4L390.7 780.9L391.7 783.1L392.7 785.9L393.7 788.1L394.7 789.7L395.7 791.4L396.7 793.5L397.7 795.6L398.7 797.3L399.7 799.5L400.7 801.7L401.7 803.4L402.7 805.6L403.7 807.8L404.7 810.0L405.7 812.3L406.7 814.4L407.7 816.1L408.7 818.1L409.7 819.9L410.7 822.1L411.7 824.3L412.7 825.9L413.7 828.0L414.7 829.6L415.7 831.7L416.7 833.3L417.7 834.8L418.7 836.9L419.7 838.4L420.7 840.0L421.7 841.6L422.7 843.7L423.7 845.4L424.7 847.4L425.7 848.9L426.7 850.5L427.7 852.0L428.7 853.5L429.7 855.0L430.7 856.6L431.7 858.6L432.7 860.3L433.7 862.5L434.7 864.1L435.7 866.1L436.7 867.8L437.7 869.4L438.7 871.4L439.7 873.1L440.7 875.3L441.7 876.9L442.7 878.3L443.7 879.8L444.7 881.4L445.7 883.4L446.7 884.9L447.7 886.6L448.7 888.6L449.7 890.2L450.7 891.8L451.7 893.4L452.7 894.9L453.7 897.1L454.7 899.3L455.7 901.4L456.7 902.9L457.7 904.4L458.7 906.1L459.7 908.2L460.7 910.4L461.7 912.6L462.7 914.2L463.7 915.7L464.7 917.4L465.7 919.5L466.7 921.1L467.7 923.2L468.7 924.9L469.7 926.9L470.7 928.6L471.7 930.7L472.7 932.9L473.7 934.5L474.7 936.1L475.7 938.2L476.7 939.9L477.7 942.0L478.7 943.6L479.7 945.7L480.7 947.3L481.7 949.4L482.7 951.0L483.7 952.5L484.7 954.0L485.7 955.5L486.7 957.6L487.7 959.2L488.7 960.7L489.7 962.2L490.7 963.8L491.7 965.3L492.7 966.9L493.7 968.9L494.7 970.4L495.7 972.0L496.7 973.6L497.7 975.0L498.7 976.5L499.7 978.0L500.7 979.5L501.7 981.0L502.7 982.5L503.7 984.0L504.7 985.5L505.7 987.0L506.7 988.5L507.7 990.0L508.7 991.4L509.7 992.4L510.7 993.8L511.7 995.4L512.7 997.4L513.7 998.4L514.7 999.8L515.7 1001.2L516.7 1002.7L517.7 1003.6L518.7 1005.0L519.7 1006.5L520.7 1007.9L521.7 1009.4L522.7 1010.3L523.7 1011.8L524.7 1013.2L525.7 1014.1L526.7 1015.5L527.7 1017.0L528.7 1018.5L529.7 1019.9L530.7 1020.7L531.7 1021.6L532.7 1023.0L533.7 1024.5L534.7 1025.4L535.7 1026.7L536.7 1027.5L537.7 1028.9L538.7 1029.8L539.7 1031.2L540.7 1032.1L541.7 1033.5L542.7 1034.9L543.7 1035.9L544.7 1037.3L545.7 1038.7L546.7 1040.1L547.7 1041.1L548.7 1042.4L549.7 1043.3L550.7 1044.7L551.7 1045.6L552.7 1046.9L553.7 1047.8L554.7 1049.2L555.7 1050.6L556.7 1051.5L557.7 1052.9L558.7 1053.7L559.7 1055.1L560.7 1056.0L561.7 1056.9L562.7 1058.2L563.7 1059.1L564.7 1060.5L565.7 1061.3L566.7 1062.1L567.7 1063.4L568.7 1064.2L569.7 1065.1L570.7 1066.4L571.7 1067.2L572.7 1068.0L573.7 1068.8L574.7 1069.6L575.7 1070.4L576.7 1071.7L577.7 1072.6L578.7 1073.9L579.7 1074.8L580.7 1075.6L581.7 1076.9L582.7 1077.7L583.7 1078.5L584.7 1079.3L585.7 1080.7L586.7 1081.4L587.7 1082.1L588.7 1082.9L589.7 1083.6L590.7 1084.4L591.7 1085.1L592.7 1085.9L593.7 1086.6L594.7 1087.4L595.7 1087.6L596.7 1088.4L597.7 1089.1L598.7 1089.9L599.7 1091.1L600.7 1091.9L601.7 1092.1L602.7 1092.9L603.7 1093.6L604.7 1094.3L605.7 1095.0L606.7 1095.7L607.7 1096.4L608.7 1097.1L609.7 1097.4L610.7 1098.1L611.7 1098.8L612.7 1099.5L613.7 1100.3L614.7 1101.0L615.7 1101.6L616.7 1101.9L617.7 1102.6L618.7 1103.3L619.7 1104.0L620.7 1104.6L621.7 1104.8L622.7 1105.5L623.7 1106.2L624.7 1106.9L625.7 1107.1L626.7 1107.7L627.7 1108.4L628.7 1108.5L629.7 1109.2L630.7 1109.9L631.7 1110.6L632.7 1110.8L633.7 1111.4L634.7 1111.6L635.7 1112.2L636.7 1112.3L637.7 1112.9L638.7 1113.1L639.7 1113.8L640.7 1114.4L641.7 1114.6L642.7 1115.3L643.7 1115.9L644.7 1116.1L645.7 1116.7L646.7 1116.9L647.7 1117.5L648.7 1117.6L649.7 1118.2L650.7 1118.4L651.7 1119.0L652.7 1119.1L653.7 1119.6L654.7 1119.8L655.7 1120.4L656.7 1120.6L657.7 1121.1L658.7 1121.3L659.7 1121.9L660.7 1122.0L661.7 1122.6L662.7 1122.8L663.7 1123.4L664.7 1123.5L665.7 1123.5L666.7 1124.1L667.7 1124.3L668.7 1124.9L669.7 1125.1L670.7 1125.6L671.7 1125.7L672.7 1125.7L673.7 1125.7L674.7 1125.8L675.7 1126.4L676.7 1126.6L677.7 1127.2L678.7 1127.3L679.7 1127.4L680.7 1128.0L681.7 1128.1L682.7 1128.7L683.7 1128.7L684.7 1128.8L685.7 1129.4L686.7 1129.5L687.7 1130.1L688.7 1130.3L689.7 1130.3L690.7 1130.4L691.7 1130.9L692.7 1130.9L693.7 1131.0L694.7 1131.0L695.7 1131.1L696.7 1131.7L697.7 1131.8L698.7 1132.4L699.7 1132.4L700.7 1132.5L701.7 1132.6L702.7 1133.1L703.7 1133.2L704.7 1133.2L705.7 1133.3L706.7 1133.3L707.7 1133.4L708.7 1133.9L709.7 1134.0L710.7 1134.0L711.7 1134.1L712.7 1134.1L713.7 1134.6L714.7 1134.7L715.7 1134.7L716.7 1134.8L717.7 1134.8L718.7 1135.4L719.7 1135.4L720.7 1135.5L721.7 1135.6L722.7 1136.1L723.7 1136.2L724.7 1136.3L725.7 1136.3L726.7 1136.3L727.7 1136.9L728.7 1136.9L729.7 1137.0L730.7 1137.0L731.7 1137.0L732.7 1137.1L733.7 1137.1L734.7 1137.6L735.7 1137.6L736.7 1137.6L737.7 1137.7L738.7 1137.7L739.7 1137.8L740.7 1137.8L741.7 1137.8L742.7 1137.9L743.7 1138.4L744.7 1138.5L745.7 1138.5L746.7 1138.6"/>
<path d="M132.7 1143.8L133.7 1143.8L134.7 1143.7L135.7 1143.6L136.7 1143.6L137.7 1143.1L138.7 1143.0L139.7 1142.9L140.7 1142.9L141.7 1142.9L142.7 1142.9L143.7 1142.9L144.7 1142.4L145.7 1142.4L146.7 1142.4L147.7 1142.2L148.7 1141.6L149.7 1141.5L150.7 1141.4L151.7 1140.7L152.7 1140.1L153.7 1139.9L154.7 1139.2L155.7 1138.6L156.7 1138.5L157.7 1137.8L158.7 1137.1L159.7 1136.4L160.7 1136.1L161.7 1135.5L162.7 1134.9L163.7 1134.6L164.7 1133.9L165.7 1132.6L166.7 1131.7L167.7 1130.4L168.7 1129.5L169.7 1128.1L170.7 1127.3L171.7 1126.4L172.7 1124.9L173.7 1123.5L174.7 1122.1L175.7 1121.3L176.7 1119.9L177.7 1118.2L178.7 1116.1L179.7 1114.5L180.7 1113.0L181.7 1111.5L182.7 1109.9L183.7 1107.8L184.7 1105.6L185.7 1103.9L186.7 1101.8L187.7 1100.2L188.7 1098.0L189.7 1095.8L190.7 1093.5L191.7 1091.3L192.7 1089.0L193.7 1086.7L194.7 1084.4L195.7 1082.1L196.7 1079.4L197.7 1077.0L198.7 1074.0L199.7 1071.1L200.7 1068.6L201.7 1065.7L202.7 1062.8L203.7 1059.8L204.7 1056.8L205.7 1053.7L206.7 1050.0L207.7 1047.0L208.7 1043.9L209.7 1040.4L210.7 1037.2L211.7 1034.2L212.7 1031.2L213.7 1027.6L214.7 1024.4L215.7 1020.7L216.7 1017.1L217.7 1013.4L218.7 1010.1L219.7 1006.6L220.7 1003.6L221.7 1000.6L222.7 997.4L223.7 993.8L224.7 990.6L225.7 987.0L226.7 983.2L227.7 979.5L228.7 975.8L229.7 972.7L230.7 969.0L231.7 965.4L232.7 962.3L233.7 958.6L234.7 954.7L235.7 951.1L236.7 948.0L237.7 945.1L238.7 941.9L239.7 937.5L240.7 933.8L241.7 930.6L242.7 927.0L243.7 923.3L244.7 919.6L245.7 915.7L246.7 911.9L247.7 908.9L248.7 906.0L249.7 902.4L250.7 898.5L251.7 895.4L252.7 891.9L253.7 888.9L254.7 886.6L255.7 883.6L256.7 880.5L257.7 877.6L258.7 875.2L259.7 872.2L260.7 868.5L261.7 864.8L262.7 861.7L263.7 858.6L264.7 854.9L265.7 851.2L266.7 847.5L267.7 844.5L268.7 842.1L269.7 839.2L270.7 835.6L271.7 832.4L272.7 829.4L273.7 826.5L274.7 823.5L275.7 821.2L276.7 819.0L277.7 816.6L278.7 813.0L279.7 810.1L280.7 807.9L281.7 806.2L282.7 804.1L283.7 801.8L284.7 798.9L285.7 796.5L286.7 795.0L287.7 793.5L288.7 791.9L289.7 789.9L290.7 788.9L291.7 786.7L292.7 783.8L293.7 781.6L294.7 780.1L295.7 779.1L296.7 777.0L297.7 775.5L298.7 774.1L299.7 773.3L300.7 772.4L301.7 771.1L302.7 769.6L303.7 768.6L304.7 767.4L305.7 766.5L306.7 765.1L307.7 765.0L308.7 764.9L309.7 763.4L310.7 761.3L311.7 759.9L312.7 759.1L313.7 758.4L314.7 758.1L315.7 756.8L316.7 755.9L317.7 755.2L318.7 754.4L319.7 753.0L320.7 752.3L321.7 751.6L322.7 751.5L323.7 750.9L324.7 750.7L325.7 750.1L326.7 749.9L327.7 749.3L328.7 749.3L329.7 749.9L330.7 750.0L331.7 749.4L332.7 749.4L333.7 750.0L334.7 750.1L335.7 750.1L336.7 750.7L337.7 750.1L338.7 750.1L339.7 750.8L340.7 750.9L341.7 751.4L342.7 751.5L343.7 752.3L344.7 753.7L345.7 754.5L346.7 754.6L347.7 755.3L348.7 756.7L349.7 757.6L350.7 758.9L351.7 759.1L352.7 759.9L353.7 760.6L354.7 761.2L355.7 761.9L356.7 763.4L357.7 764.4L358.7 765.7L359.7 767.1L360.7 768.0L361.7 768.7L362.7 769.6L363.7 771.0L364.7 771.9L365.7 772.6L366.7 773.4L367.7 774.1L368.7 774.8L369.7 775.5L370.7 775.6L371.7 776.3L372.7 776.9L373.7 777.7L374.7 779.2L375.7 780.8L376.7 782.1L377.7 783.0L378.7 783.8L379.7 785.3L380.7 786.8L381.7 788.3L382.7 790.4L383.7 792.0L384.7 794.4L385.7 796.6L386.7 798.0L387.7 799.4L388.7 800.9L389.7 802.5L390.7 804.7L391.7 806.9L392.7 808.5L393.7 810.0L394.7 812.1L395.7 814.4L396.7 816.9L397.7 819.7L398.7 821.3L399.7 822.8L400.7 824.9L401.7 826.6L402.7 828.7L403.7 831.0L404.7 832.6L405.7 834.6L406.7 836.3L407.7 837.9L408.7 840.0L409.7 841.6L410.7 842.4L411.7 843.8L412.7 845.9L413.7 847.6L414.7 849.8L415.7 851.9L416.7 853.5L417.7 855.1L418.7 857.3L419.7 859.4L420.7 861.1L421.7 863.3L422.7 865.4L423.7 867.0L424.7 868.5L425.7 870.0L426.7 871.5L427.7 873.1L428.7 874.6L429.7 876.6L430.7 877.6L431.7 879.1L432.7 881.2L433.7 882.1L434.7 883.4L435.7 885.0L436.7 887.3L437.7 889.4L438.7 890.3L439.7 891.8L440.7 893.3L441.7 894.8L442.7 896.3L443.7 897.9L444.7 899.9L445.7 901.4L446.7 902.9L447.7 904.5L448.7 906.0L449.7 907.6L450.7 909.7L451.7 911.3L452.7 912.8L453.7 914.3L454.7 915.9L455.7 917.3L456.7 918.8L457.7 920.3L458.7 921.8L459.7 924.0L460.7 926.9L461.7 928.6L462.7 930.1L463.7 931.6L464.7 933.7L465.7 935.3L466.7 936.7L467.7 938.3L468.7 939.9L469.7 942.0L470.7 943.6L471.7 945.6L472.7 947.2L473.7 948.8L474.7 950.3L475.7 952.4L476.7 954.0L477.7 955.6L478.7 957.6L479.7 959.1L480.7 960.7L481.7 962.3L482.7 964.4L483.7 966.0L484.7 967.5L485.7 968.9L486.7 970.4L487.7 971.9L488.7 973.4L489.7 974.9L490.7 976.4L491.7 977.3L492.7 978.9L493.7 980.9L494.7 982.4L495.7 983.9L496.7 985.4L497.7 986.4L498.7 987.8L499.7 989.3L500.7 990.7L501.7 992.2L502.7 993.7L503.7 995.2L504.7 996.6L505.7 997.6L506.7 999.1L507.7 1000.5L508.7 1001.9L509.7 1002.8L510.7 1004.3L511.7 1005.8L512.7 1007.2L513.7 1008.7L514.7 1010.2L515.7 1011.7L516.7 1012.6L517.7 1013.9L518.7 1014.8L519.7 1016.2L520.7 1017.1L521.7 1018.4L522.7 1019.3L523.7 1020.6L524.7 1021.6L525.7 1023.0L526.7 1024.4L527.7 1025.3L528.7 1026.7L529.7 1027.6L530.7 1028.9L531.7 1029.8L532.7 1031.2L533.7 1032.1L534.7 1033.5L535.7 1034.4L536.7 1035.7L537.7 1037.1L538.7 1038.1L539.7 1039.4L540.7 1040.3L541.7 1041.1L542.7 1042.5L543.7 1043.4L544.7 1044.7L545.7 1045.6L546.7 1046.9L547.7 1047.8L548.7 1049.2L549.7 1050.1L550.7 1051.5L551.7 1052.9L552.7 1053.8L553.7 1055.2L554.7 1056.0L555.7 1057.4L556.7 1058.3L557.7 1059.7L558.7 1060.6L559.7 1061.9L560.7 1062.7L561.7 1063.4L562.7 1064.1L563.7 1065.0L564.7 1065.9L565.7 1067.1L566.7 1068.0L567.7 1068.9L568.7 1069.6L569.7 1070.9L570.7 1071.7L571.7 1072.5L572.7 1073.3L573.7 1074.6L574.7 1075.5L575.7 1076.3L576.7 1077.1L577.7 1078.4L578.7 1079.1L579.7 1079.9L580.7 1080.7L581.7 1081.5L582.7 1082.3L583.7 1083.1L584.7 1083.9L585.7 1084.6L586.7 1085.4L587.7 1086.1L588.7 1086.9L589.7 1088.1L590.7 1088.9L591.7 1089.1L592.7 1089.9L593.7 1090.6L594.7 1091.3L595.7 1091.9L596.7 1092.1L597.7 1092.8L598.7 1093.6L599.7 1094.3L600.7 1095.0L601.7 1095.7L602.7 1096.4L603.7 1096.6L604.7 1097.3L605.7 1098.0L606.7 1098.7L607.7 1099.5L608.7 1100.2L609.7 1100.9L610.7 1101.7L611.7 1102.4L612.7 1102.6L613.7 1103.2L614.7 1103.9L615.7 1104.7L616.7 1105.4L617.7 1105.6L618.7 1106.2L619.7 1107.0L620.7 1107.6L621.7 1107.8L622.7 1108.4L623.7 1108.6L624.7 1109.2L625.7 1109.4L626.7 1110.0L627.7 1110.7L628.7 1110.9L629.7 1111.5L630.7 1112.1L631.7 1112.3L632.7 1113.0L633.7 1113.1L634.7 1113.7L635.7 1114.4L636.7 1114.6L637.7 1115.3L638.7 1115.9L639.7 1116.1L640.7 1116.7L641.7 1116.9L642.7 1117.4L643.7 1117.6L644.7 1118.2L645.7 1118.4L646.7 1119.0L647.7 1119.1L648.7 1119.7L649.7 1119.8L650.7 1120.4L651.7 1120.5L652.7 1120.6L653.7 1121.2L654.7 1121.9L655.7 1122.0L656.7 1122.1L657.7 1122.1L658.7 1122.7L659.7 1122.8L660.7 1123.4L661.7 1123.5L662.7 1124.1L663.7 1124.3L664.7 1124.4L665.7 1124.9L666.7 1125.1L667.7 1125.7L668.7 1126.4L669.7 1126.6L670.7 1127.2L671.7 1127.3L672.7 1127.3L673.7 1127.4L674.7 1127.9L675.7 1128.0L676.7 1128.1L677.7 1128.7L678.7 1128.8L679.7 1128.8L680.7 1128.9L681.7 1129.4L682.7 1129.5L683.7 1129.6L684.7 1130.2L685.7 1130.3L686.7 1130.4L687.7 1131.0L688.7 1131.1L689.7 1131.1L690.7 1131.1L691.7 1131.7L692.7 1131.8L693.7 1132.5L694.7 1132.6L695.7 1132.6L696.7 1132.6L697.7 1133.1L698.7 1133.2L699.7 1133.2L700.7 1133.3L701.7 1133.4L702.7 1133.9L703.7 1134.0L704.7 1134.0L705.7 1134.1L706.7 1134.1L707.7 1134.1L708.7 1134.6L709.7 1134.8L710.7 1134.8L711.7 1134.8L712.7 1134.9L713.7 1135.4L714.7 1135.5L715.7 1135.6L716.7 1136.2L717.7 1136.2L718.7 1136.2L719.7 1136.2L720.7 1136.3L721.7 1136.4L722.7 1136.9L723.7 1136.9L724.7 1136.9L725.7 1136.9L726.7 1136.4L727.7 1136.9L728.7 1137.0L729.7 1137.1L730.7 1137.1L731.7 1137.6L732.7 1137.7L733.7 1137.8L734.7 1137.8L735.7 1137.8L736.7 1137.9L737.7 1137.9L738.7 1137.9L739.7 1138.4L740.7 1138.4L741.7 1138.5L742.7 1138.5L743.7 1138.6L744.7 1138.6L745.7 1139.1L746.7 1139.2"/>
<path d="M132.7 1144.3L133.7 1144.3L134.7 1143.9L135.7 1143.8L136.7 1143.8L137.7 1143.8L138.7 1143.8L139.7 1143.8L140.7 1143.7L141.7 1143.6L142.7 1143.1L143.7 1143.1L144.7 1143.0L145.7 1143.0L146.7 1142.9L147.7 1142.3L148.7 1141.6L149.7 1141.4L150.7 1140.9L151.7 1140.8L152.7 1140.7L153.7 1140.1L154.7 1139.9L155.7 1139.2L156.7 1138.5L157.7 1137.9L158.7 1137.8L159.7 1137.6L160.7 1137.0L161.7 1136.3L162.7 1135.5L163.7 1134.8L164.7 1134.1L165.7 1133.2L166.7 1132.4L167.7 1131.7L168.7 1131.0L169.7 1130.2L170.7 1128.9L171.7 1127.9L172.7 1126.4L173.7 1124.4L174.7 1123.4L175.7 1122.0L176.7 1120.6L177.7 1119.1L178.7 1117.6L179.7 1116.0L180.7 1114.5L181.7 1113.0L182.7 1111.4L183.7 1109.3L184.7 1107.7L185.7 1106.1L186.7 1104.1L187.7 1102.5L188.7 1100.3L189.7 1098.6L190.7 1095.9L191.7 1093.5L192.7 1091.3L193.7 1089.1L194.7 1087.4L195.7 1085.2L196.7 1083.1L197.7 1080.8L198.7 1078.4L199.7 1075.4L200.7 1072.5L201.7 1069.5L202.7 1066.6L203.7 1064.2L204.7 1061.3L205.7 1058.2L206.7 1055.2L207.7 1052.1L208.7 1048.6L209.7 1045.4L210.7 1041.8L211.7 1038.8L212.7 1035.8L213.7 1032.7L214.7 1029.1L215.7 1026.1L216.7 1023.0L217.7 1019.9L218.7 1016.3L219.7 1012.6L220.7 1009.5L221.7 1005.8L222.7 1002.7L223.7 999.7L224.7 996.8L225.7 993.9L226.7 990.7L227.7 987.1L228.7 984.0L229.7 981.1L230.7 978.1L231.7 974.9L232.7 971.2L233.7 967.6L234.7 964.6L235.7 961.5L236.7 957.9L237.7 954.8L238.7 951.8L239.7 948.8L240.7 945.6L241.7 942.0L242.7 938.4L243.7 935.3L244.7 932.2L245.7 928.6L246.7 924.9L247.7 921.8L248.7 919.4L249.7 915.8L250.7 912.7L251.7 909.7L252.7 906.1L253.7 903.0L254.7 900.1L255.7 897.7L256.7 894.9L257.7 892.5L258.7 889.6L259.7 886.5L260.7 883.5L261.7 880.5L262.7 877.5L263.7 875.1L264.7 872.3L265.7 869.9L266.7 866.4L267.7 863.2L268.7 860.3L269.7 857.9L270.7 854.9L271.7 851.2L272.7 848.2L273.7 845.9L274.7 843.1L275.7 840.6L276.7 837.1L277.7 834.8L278.7 833.9L279.7 832.5L280.7 830.3L281.7 827.4L282.7 825.1L283.7 822.7L284.7 821.1L285.7 819.8L286.7 818.3L287.7 816.1L288.7 814.5L289.7 813.1L290.7 811.5L291.7 809.9L292.7 808.4L293.7 806.9L294.7 804.9L295.7 803.9L296.7 802.5L297.7 801.0L298.7 800.1L299.7 799.5L300.7 798.7L301.7 797.1L302.7 795.1L303.7 793.5L304.7 792.0L305.7 791.2L306.7 790.4L307.7 789.1L308.7 788.3L309.7 787.4L310.7 786.1L311.7 785.3L312.7 784.6L313.7 783.9L314.7 783.1L315.7 783.0L316.7 782.9L317.7 782.3L318.7 782.2L319.7 781.6L320.7 781.5L321.7 780.8L322.7 780.1L323.7 779.9L324.7 779.2L325.7 778.6L326.7 778.6L327.7 777.8L328.7 775.6L329.7 774.0L330.7 772.6L331.7 772.6L332.7 773.9L333.7 774.8L334.7 775.6L335.7 776.2L336.7 776.3L337.7 777.1L338.7 778.4L339.7 778.6L340.7 779.1L341.7 779.2L342.7 779.3L343.7 780.0L344.7 780.7L345.7 781.4L346.7 781.6L347.7 782.3L348.7 783.7L349.7 785.2L350.7 786.0L351.7 786.8L352.7 787.6L353.7 788.9L354.7 789.8L355.7 790.4L356.7 790.6L357.7 791.9L358.7 792.7L359.7 793.4L360.7 794.1L361.7 794.4L362.7 795.6L363.7 795.9L364.7 797.2L365.7 798.6L366.7 799.4L367.7 799.5L368.7 800.3L369.7 801.0L370.7 801.7L371.7 803.3L372.7 804.7L373.7 805.4L374.7 806.2L375.7 807.0L376.7 807.1L377.7 807.6L378.7 808.6L379.7 810.6L380.7 812.2L381.7 813.7L382.7 814.6L383.7 816.0L384.7 818.2L385.7 820.5L386.7 822.1L387.7 824.3L388.7 826.5L389.7 828.7L390.7 830.9L391.7 832.5L392.7 834.1L393.7 835.6L394.7 836.9L395.7 838.6L396.7 840.8L397.7 842.9L398.7 844.6L399.7 846.7L400.7 848.2L401.7 849.7L402.7 851.9L403.7 853.5L404.7 855.1L405.7 856.5L406.7 858.0L407.7 859.6L408.7 861.1L409.7 863.2L410.7 864.8L411.7 866.1L412.7 867.7L413.7 869.2L414.7 871.4L415.7 873.7L416.7 875.3L417.7 876.7L418.7 878.3L419.7 880.5L420.7 881.9L421.7 882.7L422.7 883.6L423.7 885.8L424.7 888.1L425.7 889.6L426.7 891.0L427.7 892.6L428.7 894.0L429.7 895.4L430.7 896.9L431.7 898.5L432.7 900.0L433.7 901.4L434.7 902.9L435.7 904.5L436.7 906.0L437.7 907.4L438.7 909.0L439.7 910.4L440.7 911.3L441.7 912.7L442.7 914.2L443.7 915.1L444.7 916.6L445.7 918.1L446.7 920.3L447.7 921.9L448.7 923.4L449.7 924.9L450.7 926.4L451.7 927.8L452.7 929.3L453.7 931.4L454.7 932.9L455.7 933.9L456.7 935.3L457.7 936.7L458.7 938.2L459.7 939.7L460.7 941.3L461.7 942.9L462.7 944.3L463.7 945.9L464.7 947.9L465.7 949.6L466.7 951.1L467.7 953.2L468.7 954.8L469.7 956.3L470.7 957.8L471.7 959.9L472.7 960.9L473.7 962.4L474.7 963.9L475.7 965.3L476.7 966.9L477.7 968.9L478.7 970.4L479.7 972.0L480.7 973.6L481.7 975.1L482.7 976.6L483.7 978.0L484.7 979.5L485.7 981.0L486.7 982.5L487.7 984.1L488.7 985.6L489.7 987.0L490.7 988.4L491.7 989.4L492.7 990.8L493.7 992.1L494.7 993.0L495.7 994.5L496.7 995.9L497.7 997.5L498.7 999.0L499.7 1000.4L500.7 1001.4L501.7 1002.8L502.7 1004.3L503.7 1005.8L504.7 1007.1L505.7 1008.1L506.7 1009.6L507.7 1011.0L508.7 1011.9L509.7 1013.3L510.7 1014.6L511.7 1015.6L512.7 1017.0L513.7 1017.9L514.7 1019.3L515.7 1020.7L516.7 1022.1L517.7 1023.0L518.7 1023.9L519.7 1025.3L520.7 1026.7L521.7 1027.6L522.7 1028.4L523.7 1029.7L524.7 1031.1L525.7 1032.1L526.7 1033.4L527.7 1034.2L528.7 1035.1L529.7 1036.5L530.7 1037.4L531.7 1038.7L532.7 1039.5L533.7 1040.3L534.7 1041.1L535.7 1042.4L536.7 1043.3L537.7 1044.7L538.7 1045.6L539.7 1047.0L540.7 1047.7L541.7 1048.5L542.7 1049.4L543.7 1050.7L544.7 1051.6L545.7 1052.9L546.7 1053.8L547.7 1055.2L548.7 1056.1L549.7 1056.9L550.7 1058.1L551.7 1059.0L552.7 1060.4L553.7 1061.2L554.7 1062.0L555.7 1062.9L556.7 1064.2L557.7 1065.1L558.7 1065.8L559.7 1066.5L560.7 1067.3L561.7 1068.6L562.7 1069.5L563.7 1070.9L564.7 1071.7L565.7 1072.5L566.7 1073.3L567.7 1074.1L568.7 1074.8L569.7 1076.1L570.7 1076.9L571.7 1077.7L572.7 1078.4L573.7 1079.2L574.7 1080.0L575.7 1080.8L576.7 1081.6L577.7 1082.9L578.7 1083.7L579.7 1084.5L580.7 1085.2L581.7 1086.0L582.7 1086.7L583.7 1087.5L584.7 1088.1L585.7 1088.3L586.7 1089.0L587.7 1089.8L588.7 1090.6L589.7 1091.4L590.7 1092.1L591.7 1092.8L592.7 1093.5L593.7 1094.3L594.7 1095.0L595.7 1095.7L596.7 1095.9L597.7 1096.6L598.7 1097.2L599.7 1098.0L600.7 1098.7L601.7 1099.4L602.7 1100.1L603.7 1100.4L604.7 1101.1L605.7 1101.9L606.7 1102.6L607.7 1103.3L608.7 1103.9L609.7 1104.1L610.7 1104.8L611.7 1105.4L612.7 1106.1L613.7 1106.4L614.7 1107.1L615.7 1107.7L616.7 1107.8L617.7 1107.9L618.7 1108.5L619.7 1109.2L620.7 1109.9L621.7 1110.6L622.7 1110.8L623.7 1111.4L624.7 1112.1L625.7 1112.3L626.7 1113.0L627.7 1113.1L628.7 1113.7L629.7 1113.8L630.7 1114.4L631.7 1114.6L632.7 1115.1L633.7 1115.3L634.7 1116.0L635.7 1116.6L636.7 1116.8L637.7 1117.5L638.7 1118.1L639.7 1118.3L640.7 1118.4L641.7 1119.0L642.7 1119.0L643.7 1119.1L644.7 1119.8L645.7 1120.4L646.7 1120.5L647.7 1121.1L648.7 1121.3L649.7 1121.9L650.7 1122.0L651.7 1122.1L652.7 1122.7L653.7 1122.8L654.7 1122.9L655.7 1123.4L656.7 1123.5L657.7 1123.6L658.7 1124.1L659.7 1124.3L660.7 1124.9L661.7 1125.1L662.7 1125.6L663.7 1125.8L664.7 1126.4L665.7 1126.4L666.7 1126.5L667.7 1126.6L668.7 1127.2L669.7 1127.3L670.7 1127.4L671.7 1127.9L672.7 1128.0L673.7 1128.1L674.7 1128.1L675.7 1128.6L676.7 1128.7L677.7 1128.8L678.7 1129.4L679.7 1129.6L680.7 1130.2L681.7 1130.3L682.7 1130.9L683.7 1131.0L684.7 1131.7L685.7 1131.8L686.7 1131.9L687.7 1132.4L688.7 1132.5L689.7 1132.5L690.7 1132.6L691.7 1133.1L692.7 1133.2L693.7 1133.3L694.7 1133.4L695.7 1133.3L696.7 1133.4L697.7 1133.4L698.7 1133.9L699.7 1133.9L700.7 1134.0L701.7 1134.1L702.7 1134.6L703.7 1134.8L704.7 1134.9L705.7 1135.4L706.7 1134.9L707.7 1134.8L708.7 1134.9L709.7 1135.4L710.7 1135.5L711.7 1135.5L712.7 1135.5L713.7 1135.5L714.7 1135.6L715.7 1136.1L716.7 1136.2L717.7 1136.2L718.7 1136.3L719.7 1136.9L720.7 1136.9L721.7 1137.0L722.7 1137.1L723.7 1137.1L724.7 1137.1L725.7 1137.1L726.7 1137.1L727.7 1137.1L728.7 1137.1L729.7 1137.6L730.7 1137.7L731.7 1137.8L732.7 1137.8L733.7 1137.9L734.7 1137.9L735.7 1137.9L736.7 1138.4L737.7 1138.5L738.7 1138.5L739.7 1138.6L740.7 1139.1L741.7 1139.2L742.7 1139.1L743.7 1139.1L744.7 1139.1L745.7 1139.1L746.7 1139.1"/>
<path d="M132.7 1143.8L133.7 1143.9L134.7 1143.8L135.7 1143.8L136.7 1143.8L137.7 1143.7L138.7 1143.1L139.7 1143.0L140.7 1142.9L141.7 1142.9L142.7 1142.9L143.7 1142.4L144.7 1142.3L145.7 1142.3L146.7 1142.3L147.7 1142.2L148.7 1142.2L149.7 1142.2L150.7 1142.1L151.7 1141.6L152.7 1142.1L153.7 1141.6L154.7 1141.4L155.7 1140.8L156.7 1140.1L157.7 1139.9L158.7 1139.2L159.7 1138.6L160.7 1138.4L161.7 1137.7L162.7 1137.0L163.7 1136.2L164.7 1135.5L165.7 1134.9L166.7 1134.1L167.7 1133.2L168.7 1131.8L169.7 1130.9L170.7 1129.6L171.7 1128.7L172.7 1127.3L173.7 1126.4L174.7 1125.0L175.7 1123.6L176.7 1122.7L177.7 1121.3L178.7 1119.8L179.7 1118.4L180.7 1117.4L181.7 1115.3L182.7 1113.1L183.7 1111.4L184.7 1109.4L185.7 1107.9L186.7 1106.2L187.7 1104.0L188.7 1102.5L189.7 1100.9L190.7 1098.7L191.7 1096.4L192.7 1094.2L193.7 1092.6L194.7 1090.6L195.7 1088.4L196.7 1086.1L197.7 1083.8L198.7 1081.5L199.7 1078.6L200.7 1076.1L201.7 1073.4L202.7 1071.6L203.7 1068.8L204.7 1065.7L205.7 1062.1L206.7 1059.0L207.7 1056.0L208.7 1053.0L209.7 1050.6L210.7 1047.7L211.7 1044.7L212.7 1041.8L213.7 1038.8L214.7 1035.7L215.7 1032.6L216.7 1029.1L217.7 1026.1L218.7 1022.9L219.7 1019.3L220.7 1016.2L221.7 1013.1L222.7 1010.1L223.7 1007.2L224.7 1004.2L225.7 1000.6L226.7 997.5L227.7 995.1L228.7 992.3L229.7 989.9L230.7 986.9L231.7 983.4L232.7 980.9L233.7 978.0L234.7 974.9L235.7 971.3L236.7 968.9L237.7 965.9L238.7 962.4L239.7 959.2L240.7 956.2L241.7 953.4L242.7 950.3L243.7 947.2L244.7 944.2L245.7 941.2L246.7 938.3L247.7 935.4L248.7 932.4L249.7 929.4L250.7 927.0L251.7 924.7L252.7 921.1L253.7 918.0L254.7 915.1L255.7 912.7L256.7 909.8L257.7 907.4L258.7 905.2L259.7 902.3L260.7 899.9L261.7 897.7L262.7 895.4L263.7 891.8L264.7 888.1L265.7 885.1L266.7 882.7L267.7 880.4L268.7 878.2L269.7 875.4L270.7 872.3L271.7 870.1L272.7 867.9L273.7 865.6L274.7 863.9L275.7 861.8L276.7 860.2L277.7 858.0L278.7 855.0L279.7 851.9L280.7 849.0L281.7 847.4L282.7 846.0L283.7 844.5L284.7 842.9L285.7 841.4L286.7 840.0L287.7 838.5L288.7 836.3L289.7 834.1L290.7 832.5L291.7 831.0L292.7 830.2L293.7 829.4L294.7 828.0L295.7 827.3L296.7 827.1L297.7 824.9L298.7 821.9L299.7 819.0L300.7 817.4L301.7 816.7L302.7 816.9L303.7 818.3L304.7 819.1L305.7 819.6L306.7 819.1L307.7 818.3L308.7 816.8L309.7 815.1L310.7 813.6L311.7 812.4L312.7 812.3L313.7 812.4L314.7 812.9L315.7 813.0L316.7 813.0L317.7 812.9L318.7 812.3L319.7 812.1L320.7 811.5L321.7 811.4L322.7 811.4L323.7 810.7L324.7 809.2L325.7 807.8L326.7 807.1L327.7 806.4L328.7 806.2L329.7 805.4L330.7 805.4L331.7 805.6L332.7 806.4L333.7 807.0L334.7 807.7L335.7 807.8L336.7 807.7L337.7 807.7L338.7 807.1L339.7 806.9L340.7 806.9L341.7 807.7L342.7 809.1L343.7 809.3L344.7 809.3L345.7 809.4L346.7 810.0L347.7 810.1L348.7 811.4L349.7 812.9L350.7 813.7L351.7 813.6L352.7 813.7L353.7 815.1L354.7 816.0L355.7 816.1L356.7 816.7L357.7 817.6L358.7 818.9L359.7 819.1L360.7 819.8L361.7 820.5L362.7 821.1L363.7 821.9L364.7 822.7L365.7 823.4L366.7 824.2L367.7 825.7L368.7 827.1L369.7 828.0L370.7 828.1L371.7 828.7L372.7 830.1L373.7 831.7L374.7 832.4L375.7 832.5L376.7 833.2L377.7 834.1L378.7 835.5L379.7 836.4L380.7 837.8L381.7 839.9L382.7 841.6L383.7 843.0L384.7 843.9L385.7 844.5L386.7 845.4L387.7 847.6L388.7 850.4L389.7 852.8L390.7 855.1L391.7 856.5L392.7 857.4L393.7 859.4L394.7 861.6L395.7 863.2L396.7 864.1L397.7 864.9L398.7 866.9L399.7 868.4L400.7 869.9L401.7 871.6L402.7 873.8L403.7 875.4L404.7 876.8L405.7 878.2L406.7 879.8L407.7 881.9L408.7 883.5L409.7 884.4L410.7 886.5L411.7 888.9L412.7 890.9L413.7 892.4L414.7 893.3L415.7 894.0L416.7 894.8L417.7 896.4L418.7 898.4L419.7 899.9L420.7 901.4L421.7 902.9L422.7 904.5L423.7 905.4L424.7 906.7L425.7 908.1L426.7 909.7L427.7 911.3L428.7 913.4L429.7 915.0L430.7 915.7L431.7 916.4L432.7 917.9L433.7 919.5L434.7 921.1L435.7 922.6L436.7 923.9L437.7 924.6L438.7 925.5L439.7 926.9L440.7 927.8L441.7 929.3L442.7 930.8L443.7 932.3L444.7 933.7L445.7 935.3L446.7 937.4L447.7 939.0L448.7 940.5L449.7 942.0L450.7 943.4L451.7 944.4L452.7 946.4L453.7 948.1L454.7 950.1L455.7 951.1L456.7 952.5L457.7 953.3L458.7 954.7L459.7 956.2L460.7 957.6L461.7 959.2L462.7 960.8L463.7 962.1L464.7 963.0L465.7 964.5L466.7 966.0L467.7 967.5L468.7 969.0L469.7 970.6L470.7 972.1L471.7 973.6L472.7 975.1L473.7 976.5L474.7 978.0L475.7 979.5L476.7 980.9L477.7 982.4L478.7 983.9L479.7 984.8L480.7 986.4L481.7 988.5L482.7 990.1L483.7 991.5L484.7 992.9L485.7 993.8L486.7 995.2L487.7 996.1L488.7 997.6L489.7 999.1L490.7 1000.5L491.7 1001.4L492.7 1002.7L493.7 1003.6L494.7 1005.0L495.7 1006.5L496.7 1007.9L497.7 1008.9L498.7 1010.3L499.7 1011.8L500.7 1013.2L501.7 1014.1L502.7 1015.5L503.7 1016.4L504.7 1017.8L505.7 1019.2L506.7 1020.0L507.7 1020.8L508.7 1022.2L509.7 1023.1L510.7 1024.4L511.7 1025.1L512.7 1026.0L513.7 1027.5L514.7 1028.9L515.7 1029.8L516.7 1031.1L517.7 1032.0L518.7 1032.8L519.7 1034.1L520.7 1035.0L521.7 1035.9L522.7 1037.2L523.7 1038.1L524.7 1039.6L525.7 1040.4L526.7 1041.1L527.7 1041.9L528.7 1043.2L529.7 1044.1L530.7 1045.4L531.7 1046.3L532.7 1047.1L533.7 1048.4L534.7 1049.3L535.7 1050.1L536.7 1050.8L537.7 1051.6L538.7 1052.9L539.7 1053.8L540.7 1055.1L541.7 1056.0L542.7 1056.9L543.7 1058.2L544.7 1059.0L545.7 1059.8L546.7 1060.6L547.7 1061.9L548.7 1062.7L549.7 1063.5L550.7 1064.3L551.7 1065.1L552.7 1066.4L553.7 1067.4L554.7 1068.7L555.7 1069.5L556.7 1070.2L557.7 1070.9L558.7 1071.1L559.7 1071.9L560.7 1073.1L561.7 1073.9L562.7 1074.8L563.7 1075.6L564.7 1076.9L565.7 1077.7L566.7 1078.5L567.7 1079.9L568.7 1080.7L569.7 1081.4L570.7 1082.2L571.7 1083.0L572.7 1083.8L573.7 1084.6L574.7 1085.4L575.7 1086.1L576.7 1086.9L577.7 1087.6L578.7 1088.2L579.7 1088.9L580.7 1089.7L581.7 1090.6L582.7 1091.3L583.7 1092.1L584.7 1092.9L585.7 1093.6L586.7 1094.3L587.7 1094.9L588.7 1095.1L589.7 1095.8L590.7 1096.5L591.7 1097.1L592.7 1097.3L593.7 1098.0L594.7 1098.7L595.7 1099.4L596.7 1100.1L597.7 1100.4L598.7 1101.0L599.7 1101.6L600.7 1102.4L601.7 1103.1L602.7 1103.3L603.7 1103.9L604.7 1104.1L605.7 1104.8L606.7 1105.5L607.7 1106.2L608.7 1106.9L609.7 1107.0L610.7 1107.7L611.7 1108.4L612.7 1108.6L613.7 1109.3L614.7 1109.9L615.7 1110.1L616.7 1110.7L617.7 1110.9L618.7 1111.5L619.7 1112.1L620.7 1112.3L621.7 1112.9L622.7 1113.0L623.7 1113.6L624.7 1113.8L625.7 1114.5L626.7 1115.1L627.7 1115.3L628.7 1115.9L629.7 1116.1L630.7 1116.8L631.7 1117.4L632.7 1117.5L633.7 1117.6L634.7 1118.3L635.7 1118.9L636.7 1119.0L637.7 1119.1L638.7 1119.7L639.7 1119.8L640.7 1120.4L641.7 1120.5L642.7 1120.6L643.7 1121.2L644.7 1121.9L645.7 1122.0L646.7 1122.6L647.7 1122.7L648.7 1122.9L649.7 1123.5L650.7 1124.1L651.7 1124.2L652.7 1124.3L653.7 1124.9L654.7 1125.0L655.7 1125.1L656.7 1125.7L657.7 1125.9L658.7 1125.9L659.7 1126.4L660.7 1126.4L661.7 1126.6L662.7 1127.1L663.7 1127.2L664.7 1127.2L665.7 1127.3L666.7 1127.4L667.7 1128.0L668.7 1128.1L669.7 1128.7L670.7 1128.8L671.7 1129.4L672.7 1129.5L673.7 1129.6L674.7 1130.3L675.7 1130.4L676.7 1130.9L677.7 1130.9L678.7 1131.0L679.7 1131.1L680.7 1131.7L681.7 1131.7L682.7 1131.8L683.7 1131.9L684.7 1132.4L685.7 1132.4L686.7 1132.5L687.7 1132.6L688.7 1133.1L689.7 1133.3L690.7 1133.9L691.7 1133.9L692.7 1133.9L693.7 1134.0L694.7 1134.0L695.7 1134.0L696.7 1134.1L697.7 1134.6L698.7 1134.7L699.7 1134.7L700.7 1134.8L701.7 1134.9L702.7 1135.4L703.7 1135.5L704.7 1135.6L705.7 1135.6L706.7 1136.1L707.7 1136.2L708.7 1136.2L709.7 1136.3L710.7 1136.3L711.7 1136.3L712.7 1136.3L713.7 1136.4L714.7 1136.9L715.7 1136.9L716.7 1136.9L717.7 1136.9L718.7 1136.9L719.7 1136.9L720.7 1137.0L721.7 1137.1L722.7 1137.7L723.7 1137.8L724.7 1137.7L725.7 1137.7L726.7 1137.7L727.7 1137.7L728.7 1137.7L729.7 1137.7L730.7 1137.8L731.7 1138.4L732.7 1138.5L733.7 1138.5L734.7 1138.6L735.7 1139.1L736.7 1139.1L737.7 1139.1L738.7 1139.2L739.7 1139.3L740.7 1139.3L741.7 1139.2L742.7 1139.2L743.7 1139.2L744.7 1139.3L745.7 1139.9L746.7 1139.9"/>
<path d="M132.7 1143.9L133.7 1143.9L134.7 1143.9L135.7 1144.3L136.7 1144.3L137.7 1143.8L138.7 1143.7L139.7 1143.7L140.7 1143.7L141.7 1143.7L142.7 1143.1L143.7 1143.0L144.7 1143.0L145.7 1142.9L146.7 1142.4L147.7 1142.3L148.7 1142.3L149.7 1142.2L150.7 1141.6L151.7 1141.4L152.7 1141.4L153.7 1140.8L154.7 1140.7L155.7 1140.6L156.7 1140.1L157.7 1139.9L158.7 1139.3L159.7 1139.2L160.7 1138.6L161.7 1138.5L162.7 1137.9L163.7 1137.0L164.7 1136.2L165.7 1134.8L166.7 1133.9L167.7 1133.2L168.7 1132.4L169.7 1131.6L170.7 1130.4L171.7 1129.6L172.7 1128.8L173.7 1127.3L174.7 1125.7L175.7 1124.2L176.7 1122.9L177.7 1122.1L178.7 1120.6L179.7 1119.0L180.7 1117.4L181.7 1115.9L182.7 1114.5L183.7 1113.0L184.7 1111.6L185.7 1110.1L186.7 1108.6L187.7 1106.9L188.7 1104.8L189.7 1103.2L190.7 1101.0L191.7 1098.6L192.7 1095.9L193.7 1094.2L194.7 1092.6L195.7 1090.5L196.7 1088.4L197.7 1086.1L198.7 1083.9L199.7 1081.6L200.7 1079.9L201.7 1077.6L202.7 1074.6L203.7 1071.6L204.7 1068.7L205.7 1065.8L206.7 1063.4L207.7 1060.5L208.7 1058.2L209.7 1055.9L210.7 1053.0L211.7 1050.0L212.7 1046.9L213.7 1044.0L214.7 1041.1L215.7 1038.0L216.7 1034.2L217.7 1030.6L218.7 1028.1L219.7 1025.1L220.7 1022.2L221.7 1019.2L222.7 1016.1L223.7 1013.3L224.7 1010.9L225.7 1008.0L226.7 1005.0L227.7 1002.1L228.7 999.6L229.7 996.6L230.7 993.0L231.7 990.0L232.7 987.1L233.7 984.6L234.7 981.8L235.7 978.9L236.7 976.4L237.7 973.5L238.7 970.6L239.7 967.6L240.7 965.3L241.7 962.9L242.7 960.0L243.7 957.0L244.7 953.9L245.7 950.3L246.7 947.9L247.7 945.8L248.7 943.6L249.7 941.2L250.7 937.6L251.7 934.6L252.7 932.3L253.7 930.0L254.7 927.0L255.7 923.4L256.7 920.3L257.7 918.0L258.7 915.8L259.7 914.3L260.7 912.8L261.7 911.2L262.7 909.0L263.7 906.0L264.7 903.0L265.7 900.7L266.7 897.8L267.7 894.8L268.7 892.5L269.7 891.0L270.7 889.4L271.7 887.1L272.7 884.4L273.7 882.8L274.7 881.2L275.7 879.1L276.7 877.5L277.7 875.4L278.7 873.7L279.7 871.5L280.7 869.2L281.7 867.1L282.7 865.5L283.7 864.1L284.7 862.6L285.7 860.9L286.7 858.6L287.7 857.1L288.7 855.6L289.7 854.3L290.7 853.4L291.7 852.1L292.7 851.2L293.7 849.6L294.7 848.3L295.7 847.6L296.7 846.7L297.7 845.1L298.7 843.7L299.7 842.9L300.7 841.6L301.7 841.5L302.7 841.5L303.7 840.1L304.7 837.9L305.7 837.1L306.7 837.0L307.7 836.2L308.7 835.5L309.7 835.5L310.7 835.5L311.7 835.5L312.7 835.5L313.7 834.9L314.7 834.1L315.7 833.3L316.7 831.9L317.7 830.9L318.7 828.1L319.7 825.0L320.7 822.9L321.7 823.4L322.7 824.2L323.7 824.2L324.7 825.0L325.7 826.6L326.7 828.1L327.7 829.4L328.7 829.5L329.7 829.5L330.7 829.4L331.7 829.4L332.7 828.7L333.7 827.4L334.7 827.9L335.7 828.7L336.7 828.8L337.7 828.6L338.7 828.8L339.7 829.5L340.7 829.6L341.7 829.5L342.7 830.3L343.7 831.9L344.7 833.3L345.7 834.6L346.7 834.9L347.7 834.7L348.7 835.4L349.7 836.9L350.7 837.7L351.7 837.7L352.7 837.0L353.7 837.6L354.7 838.5L355.7 839.2L356.7 839.2L357.7 839.9L358.7 840.8L359.7 842.4L360.7 843.9L361.7 845.4L362.7 846.7L363.7 847.5L364.7 848.3L365.7 849.1L366.7 849.7L367.7 849.7L368.7 850.5L369.7 851.4L370.7 851.9L371.7 851.9L372.7 852.8L373.7 854.2L374.7 854.3L375.7 855.0L376.7 856.4L377.7 857.1L378.7 857.3L379.7 858.7L380.7 860.4L381.7 862.5L382.7 864.0L383.7 864.7L384.7 864.9L385.7 866.2L386.7 867.9L387.7 870.0L388.7 871.6L389.7 873.8L390.7 875.9L391.7 877.4L392.7 878.2L393.7 878.9L394.7 879.6L395.7 881.1L396.7 883.4L397.7 885.6L398.7 887.2L399.7 888.7L400.7 889.5L401.7 891.0L402.7 893.2L403.7 895.4L404.7 896.9L405.7 897.8L406.7 898.6L407.7 899.9L408.7 901.4L409.7 902.9L410.7 904.4L411.7 905.9L412.7 907.5L413.7 909.6L414.7 911.9L415.7 912.9L416.7 913.6L417.7 914.3L418.7 915.7L419.7 917.2L420.7 918.7L421.7 920.1L422.7 921.0L423.7 922.5L424.7 924.1L425.7 925.6L426.7 927.1L427.7 928.5L428.7 929.3L429.7 930.1L430.7 931.6L431.7 933.1L432.7 934.5L433.7 935.9L434.7 936.7L435.7 937.4L436.7 939.1L437.7 941.2L438.7 942.1L439.7 943.4L440.7 944.3L441.7 945.1L442.7 945.8L443.7 947.3L444.7 949.4L445.7 950.4L446.7 951.9L447.7 953.9L448.7 954.9L449.7 956.1L450.7 957.0L451.7 958.6L452.7 960.1L453.7 961.5L454.7 962.9L455.7 963.7L456.7 964.6L457.7 966.0L458.7 966.8L459.7 968.2L460.7 969.8L461.7 971.3L462.7 972.8L463.7 974.2L464.7 975.7L465.7 977.2L466.7 978.6L467.7 979.5L468.7 980.9L469.7 982.4L470.7 984.0L471.7 985.5L472.7 987.0L473.7 988.4L474.7 989.4L475.7 991.4L476.7 993.0L477.7 994.6L478.7 996.0L479.7 997.4L480.7 998.2L481.7 999.1L482.7 1000.5L483.7 1001.3L484.7 1002.6L485.7 1003.6L486.7 1005.1L487.7 1006.5L488.7 1007.3L489.7 1008.7L490.7 1010.1L491.7 1011.1L492.7 1012.5L493.7 1013.4L494.7 1014.7L495.7 1015.6L496.7 1016.9L497.7 1017.8L498.7 1019.4L499.7 1021.4L500.7 1022.3L501.7 1023.6L502.7 1024.5L503.7 1025.4L504.7 1026.7L505.7 1027.6L506.7 1028.9L507.7 1029.8L508.7 1031.1L509.7 1032.1L510.7 1033.4L511.7 1034.2L512.7 1035.1L513.7 1036.5L514.7 1037.4L515.7 1038.6L516.7 1039.4L517.7 1040.3L518.7 1041.7L519.7 1042.6L520.7 1043.3L521.7 1044.1L522.7 1044.8L523.7 1045.6L524.7 1046.9L525.7 1047.7L526.7 1048.5L527.7 1049.9L528.7 1050.8L529.7 1051.5L530.7 1052.3L531.7 1053.0L532.7 1053.8L533.7 1054.6L534.7 1055.3L535.7 1056.1L536.7 1057.4L537.7 1058.2L538.7 1059.0L539.7 1059.8L540.7 1061.1L541.7 1062.0L542.7 1062.9L543.7 1064.2L544.7 1064.9L545.7 1065.6L546.7 1066.5L547.7 1067.3L548.7 1068.1L549.7 1069.4L550.7 1070.2L551.7 1071.0L552.7 1071.8L553.7 1072.6L554.7 1073.9L555.7 1074.6L556.7 1075.4L557.7 1076.2L558.7 1077.1L559.7 1078.4L560.7 1079.2L561.7 1079.9L562.7 1080.1L563.7 1080.8L564.7 1081.6L565.7 1082.3L566.7 1083.0L567.7 1083.7L568.7 1084.5L569.7 1085.2L570.7 1086.1L571.7 1086.8L572.7 1087.5L573.7 1088.3L574.7 1089.0L575.7 1089.8L576.7 1090.5L577.7 1091.3L578.7 1092.1L579.7 1092.8L580.7 1093.5L581.7 1094.2L582.7 1095.0L583.7 1095.7L584.7 1096.4L585.7 1097.1L586.7 1097.9L587.7 1098.1L588.7 1098.7L589.7 1098.9L590.7 1099.5L591.7 1100.2L592.7 1100.4L593.7 1101.1L594.7 1101.8L595.7 1102.4L596.7 1102.6L597.7 1103.3L598.7 1104.0L599.7 1104.7L600.7 1104.9L601.7 1105.6L602.7 1106.2L603.7 1106.9L604.7 1107.0L605.7 1107.7L606.7 1108.5L607.7 1109.2L608.7 1109.4L609.7 1110.0L610.7 1110.6L611.7 1110.9L612.7 1111.5L613.7 1112.2L614.7 1112.4L615.7 1113.0L616.7 1113.1L617.7 1113.6L618.7 1113.8L619.7 1114.4L620.7 1115.1L621.7 1115.3L622.7 1115.9L623.7 1116.1L624.7 1116.6L625.7 1116.8L626.7 1117.4L627.7 1117.6L628.7 1118.1L629.7 1118.3L630.7 1119.0L631.7 1119.1L632.7 1119.8L633.7 1119.9L634.7 1120.5L635.7 1120.6L636.7 1121.2L637.7 1121.3L638.7 1121.9L639.7 1122.1L640.7 1122.7L641.7 1122.7L642.7 1122.8L643.7 1123.4L644.7 1123.6L645.7 1123.6L646.7 1124.2L647.7 1124.3L648.7 1124.9L649.7 1124.4L650.7 1124.4L651.7 1124.9L652.7 1125.6L653.7 1125.8L654.7 1125.9L655.7 1126.4L656.7 1126.5L657.7 1126.6L658.7 1127.1L659.7 1127.3L660.7 1127.4L661.7 1128.0L662.7 1128.6L663.7 1128.7L664.7 1128.9L665.7 1129.5L666.7 1129.6L667.7 1129.6L668.7 1129.6L669.7 1130.3L670.7 1130.9L671.7 1130.9L672.7 1131.0L673.7 1131.0L674.7 1131.1L675.7 1131.6L676.7 1131.7L677.7 1131.8L678.7 1131.9L679.7 1132.4L680.7 1132.4L681.7 1132.5L682.7 1132.5L683.7 1132.6L684.7 1133.2L685.7 1133.3L686.7 1133.4L687.7 1133.3L688.7 1133.4L689.7 1133.9L690.7 1133.9L691.7 1134.0L692.7 1134.1L693.7 1134.7L694.7 1134.8L695.7 1134.8L696.7 1134.9L697.7 1135.4L698.7 1135.5L699.7 1135.6L700.7 1135.6L701.7 1135.5L702.7 1135.6L703.7 1136.1L704.7 1136.2L705.7 1136.2L706.7 1136.2L707.7 1136.2L708.7 1136.3L709.7 1136.4L710.7 1136.9L711.7 1136.9L712.7 1137.0L713.7 1137.0L714.7 1136.9L715.7 1137.0L716.7 1137.1L717.7 1137.6L718.7 1137.6L719.7 1137.1L720.7 1137.6L721.7 1137.7L722.7 1137.7L723.7 1137.8L724.7 1137.8L725.7 1137.9L726.7 1138.4L727.7 1138.4L728.7 1138.5L729.7 1138.6L730.7 1138.6L731.7 1139.2L732.7 1139.3L733.7 1139.3L734.7 1139.2L735.7 1139.2L736.7 1139.2L737.7 1139.3L738.7 1139.3L739.7 1139.3L740.7 1139.9L741.7 1139.9L742.7 1139.3L743.7 1139.3L744.7 1139.3L745.7 1139.9L746.7 1140.0"/>
<path d="M132.7 1144.3L133.7 1144.3L134.7 1144.3L135.7 1143.8L136.7 1143.8L137.7 1143.7L138.7 1143.7L139.7 1143.6L140.7 1143.1L141.7 1143.1L142.7 1143.1L143.7 1143.1L144.7 1143.1L145.7 1143.0L146.7 1143.0L147.7 1143.1L148.7 1143.0L149.7 1142.9L150.7 1142.4L151.7 1142.2L152.7 1141.6L153.7 1141.5L154.7 1141.5L155.7 1141.5L156.7 1141.5L157.7 1140.8L158.7 1140.1L159.7 1139.9L160.7 1139.3L161.7 1139.2L162.7 1138.6L163.7 1137.9L164.7 1137.1L165.7 1136.4L166.7 1135.6L167.7 1134.8L168.7 1133.9L169.7 1132.5L170.7 1131.0L171.7 1129.6L172.7 1128.6L173.7 1127.4L174.7 1126.5L175.7 1125.6L176.7 1124.4L177.7 1123.5L178.7 1122.1L179.7 1120.6L180.7 1119.1L181.7 1118.2L182.7 1116.8L183.7 1115.3L184.7 1113.6L185.7 1111.5L186.7 1109.9L187.7 1108.4L188.7 1106.9L189.7 1105.4L190.7 1103.4L191.7 1101.1L192.7 1098.8L193.7 1096.6L194.7 1095.0L195.7 1092.9L196.7 1090.5L197.7 1088.2L198.7 1086.1L199.7 1084.4L200.7 1082.1L201.7 1079.4L202.7 1077.1L203.7 1074.8L204.7 1072.6L205.7 1070.1L206.7 1066.6L207.7 1063.6L208.7 1061.1L209.7 1058.4L210.7 1056.1L211.7 1053.6L212.7 1050.7L213.7 1047.1L214.7 1044.0L215.7 1041.1L216.7 1038.7L217.7 1035.7L218.7 1032.7L219.7 1029.9L220.7 1027.4L221.7 1023.9L222.7 1020.8L223.7 1018.5L224.7 1016.2L225.7 1013.3L226.7 1010.3L227.7 1007.4L228.7 1004.9L229.7 1002.1L230.7 999.7L231.7 996.1L232.7 993.6L233.7 990.8L234.7 987.8L235.7 984.9L236.7 982.5L237.7 980.3L238.7 978.0L239.7 975.6L240.7 972.1L241.7 969.7L242.7 968.2L243.7 966.0L244.7 962.9L245.7 959.2L246.7 956.9L247.7 955.5L248.7 953.3L249.7 950.3L250.7 947.3L251.7 945.1L252.7 942.8L253.7 940.5L254.7 938.3L255.7 936.7L256.7 934.6L257.7 932.3L258.7 930.7L259.7 929.1L260.7 927.0L261.7 924.1L262.7 921.0L263.7 918.1L264.7 916.4L265.7 914.3L266.7 912.1L267.7 909.9L268.7 908.2L269.7 906.8L270.7 906.8L271.7 906.8L272.7 906.0L273.7 904.5L274.7 902.3L275.7 899.2L276.7 893.9L277.7 887.2L278.7 882.7L279.7 882.0L280.7 883.4L281.7 884.4L282.7 884.3L283.7 882.8L284.7 880.4L285.7 877.5L286.7 875.3L287.7 874.5L288.7 873.7L289.7 871.6L290.7 870.0L291.7 868.6L292.7 868.4L293.7 867.7L294.7 866.4L295.7 864.8L296.7 864.0L297.7 863.9L298.7 863.9L299.7 863.1L300.7 861.7L301.7 861.0L302.7 860.9L303.7 860.2L304.7 859.6L305.7 859.6L306.7 860.2L307.7 860.2L308.7 859.5L309.7 858.1L310.7 857.1L311.7 856.6L312.7 856.6L313.7 856.5L314.7 855.9L315.7 855.6L316.7 854.9L317.7 854.1L318.7 853.4L319.7 853.4L320.7 852.8L321.7 852.1L322.7 851.4L323.7 849.9L324.7 847.5L325.7 846.0L326.7 846.8L327.7 848.9L328.7 849.1L329.7 849.0L330.7 849.8L331.7 851.2L332.7 851.4L333.7 851.4L334.7 849.9L335.7 848.4L336.7 848.9L337.7 848.9L338.7 848.2L339.7 847.6L340.7 848.2L341.7 849.8L342.7 851.9L343.7 853.4L344.7 854.2L345.7 854.4L346.7 854.9L347.7 855.7L348.7 857.3L349.7 857.9L350.7 857.9L351.7 858.1L352.7 858.7L353.7 859.4L354.7 858.8L355.7 859.4L356.7 860.1L357.7 860.3L358.7 861.1L359.7 862.6L360.7 863.9L361.7 864.1L362.7 864.7L363.7 865.4L364.7 865.6L365.7 865.6L366.7 866.2L367.7 867.6L368.7 869.3L369.7 871.5L370.7 873.7L371.7 874.4L372.7 872.4L373.7 870.6L374.7 868.5L375.7 866.3L376.7 864.8L377.7 865.5L378.7 869.2L379.7 874.4L380.7 878.3L381.7 880.6L382.7 882.0L383.7 883.4L384.7 885.0L385.7 886.5L386.7 887.4L387.7 889.4L388.7 891.6L389.7 893.9L390.7 894.7L391.7 894.8L392.7 894.8L393.7 895.4L394.7 896.3L395.7 898.4L396.7 900.1L397.7 901.5L398.7 902.3L399.7 904.4L400.7 906.0L401.7 907.5L402.7 909.0L403.7 909.9L404.7 911.3L405.7 912.9L406.7 915.0L407.7 917.1L408.7 918.0L409.7 918.8L410.7 920.2L411.7 922.4L412.7 923.9L413.7 924.8L414.7 925.6L415.7 927.1L416.7 929.1L417.7 930.1L418.7 931.4L419.7 932.9L420.7 934.4L421.7 934.6L422.7 935.2L423.7 936.0L424.7 938.1L425.7 939.8L426.7 941.3L427.7 942.1L428.7 942.9L429.7 943.6L430.7 945.0L431.7 946.5L432.7 947.9L433.7 948.9L434.7 950.9L435.7 952.5L436.7 954.1L437.7 956.2L438.7 957.1L439.7 957.9L440.7 958.6L441.7 959.9L442.7 960.6L443.7 961.5L444.7 963.0L445.7 963.9L446.7 965.2L447.7 966.1L448.7 967.5L449.7 968.9L450.7 970.5L451.7 972.0L452.7 973.4L453.7 974.4L454.7 975.8L455.7 977.2L456.7 978.0L457.7 978.8L458.7 980.2L459.7 981.6L460.7 982.6L461.7 984.1L462.7 986.1L463.7 987.1L464.7 987.9L465.7 989.2L466.7 990.6L467.7 991.6L468.7 993.0L469.7 993.8L470.7 995.2L471.7 996.8L472.7 998.2L473.7 999.1L474.7 1000.4L475.7 1001.3L476.7 1002.7L477.7 1004.1L478.7 1005.1L479.7 1006.6L480.7 1008.0L481.7 1009.4L482.7 1010.3L483.7 1011.1L484.7 1011.9L485.7 1013.2L486.7 1014.0L487.7 1015.4L488.7 1016.9L489.7 1018.4L490.7 1019.3L491.7 1020.7L492.7 1022.1L493.7 1023.1L494.7 1024.5L495.7 1025.4L496.7 1026.6L497.7 1027.4L498.7 1028.2L499.7 1029.0L500.7 1030.5L501.7 1031.4L502.7 1032.7L503.7 1033.6L504.7 1034.9L505.7 1035.7L506.7 1036.6L507.7 1037.9L508.7 1038.6L509.7 1039.4L510.7 1040.3L511.7 1041.1L512.7 1042.4L513.7 1043.3L514.7 1044.6L515.7 1044.9L516.7 1045.6L517.7 1046.4L518.7 1047.6L519.7 1048.6L520.7 1050.0L521.7 1050.8L522.7 1052.1L523.7 1052.9L524.7 1053.7L525.7 1054.4L526.7 1055.1L527.7 1056.0L528.7 1056.9L529.7 1058.1L530.7 1058.9L531.7 1059.7L532.7 1060.5L533.7 1061.3L534.7 1062.7L535.7 1063.6L536.7 1064.9L537.7 1065.6L538.7 1065.9L539.7 1066.6L540.7 1067.3L541.7 1068.1L542.7 1068.8L543.7 1069.6L544.7 1070.3L545.7 1071.1L546.7 1071.9L547.7 1072.6L548.7 1073.4L549.7 1074.1L550.7 1074.8L551.7 1075.6L552.7 1076.4L553.7 1077.6L554.7 1078.4L555.7 1079.1L556.7 1079.4L557.7 1080.1L558.7 1080.9L559.7 1081.6L560.7 1082.4L561.7 1083.6L562.7 1084.4L563.7 1085.2L564.7 1085.9L565.7 1086.6L566.7 1087.4L567.7 1088.2L568.7 1089.0L569.7 1089.7L570.7 1089.9L571.7 1090.6L572.7 1091.2L573.7 1091.9L574.7 1092.6L575.7 1092.9L576.7 1093.6L577.7 1094.4L578.7 1095.1L579.7 1095.8L580.7 1096.6L581.7 1097.3L582.7 1097.9L583.7 1098.1L584.7 1098.8L585.7 1099.6L586.7 1100.3L587.7 1101.0L588.7 1101.7L589.7 1102.4L590.7 1102.6L591.7 1103.3L592.7 1104.0L593.7 1104.6L594.7 1104.8L595.7 1105.6L596.7 1106.3L597.7 1106.9L598.7 1107.0L599.7 1107.6L600.7 1107.8L601.7 1108.4L602.7 1108.6L603.7 1109.3L604.7 1109.9L605.7 1110.1L606.7 1110.6L607.7 1110.8L608.7 1111.4L609.7 1111.6L610.7 1112.3L611.7 1113.0L612.7 1113.7L613.7 1113.8L614.7 1114.4L615.7 1114.5L616.7 1114.6L617.7 1115.1L618.7 1115.2L619.7 1115.9L620.7 1116.1L621.7 1116.7L622.7 1117.4L623.7 1117.6L624.7 1118.2L625.7 1118.3L626.7 1118.9L627.7 1119.1L628.7 1119.7L629.7 1119.8L630.7 1120.4L631.7 1120.5L632.7 1121.2L633.7 1121.3L634.7 1121.9L635.7 1122.1L636.7 1122.8L637.7 1123.4L638.7 1123.6L639.7 1123.6L640.7 1124.2L641.7 1124.3L642.7 1124.4L643.7 1125.0L644.7 1125.1L645.7 1125.6L646.7 1125.6L647.7 1125.7L648.7 1125.8L649.7 1125.8L650.7 1126.4L651.7 1126.5L652.7 1126.6L653.7 1127.2L654.7 1127.3L655.7 1127.9L656.7 1128.0L657.7 1128.6L658.7 1128.7L659.7 1128.7L660.7 1128.8L661.7 1128.7L662.7 1128.8L663.7 1129.4L664.7 1129.6L665.7 1130.1L666.7 1130.3L667.7 1130.4L668.7 1130.4L669.7 1130.9L670.7 1131.0L671.7 1131.1L672.7 1131.6L673.7 1131.8L674.7 1131.9L675.7 1132.4L676.7 1132.6L677.7 1133.2L678.7 1133.3L679.7 1133.9L680.7 1133.9L681.7 1133.9L682.7 1134.0L683.7 1134.0L684.7 1134.1L685.7 1134.6L686.7 1134.6L687.7 1134.7L688.7 1134.7L689.7 1134.7L690.7 1134.7L691.7 1134.6L692.7 1134.8L693.7 1134.9L694.7 1135.4L695.7 1135.5L696.7 1135.6L697.7 1136.2L698.7 1136.2L699.7 1136.3L700.7 1136.3L701.7 1136.2L702.7 1136.3L703.7 1136.9L704.7 1136.9L705.7 1136.9L706.7 1136.9L707.7 1136.9L708.7 1137.0L709.7 1137.0L710.7 1137.1L711.7 1137.6L712.7 1137.6L713.7 1137.7L714.7 1137.7L715.7 1137.8L716.7 1137.8L717.7 1137.8L718.7 1137.9L719.7 1138.4L720.7 1138.4L721.7 1138.4L722.7 1138.4L723.7 1138.5L724.7 1138.5L725.7 1138.6L726.7 1138.6L727.7 1138.6L728.7 1138.6L729.7 1138.6L730.7 1138.6L731.7 1138.6L732.7 1138.6L733.7 1139.1L734.7 1139.2L735.7 1139.3L736.7 1139.3L737.7 1139.3L738.7 1139.3L739.7 1139.3L740.7 1139.9L741.7 1140.0L742.7 1140.1L743.7 1140.0L744.7 1139.9L745.7 1139.4L746.7 1139.4"/>
<path d="M132.7 1143.0L133.7 1143.0L134.7 1143.0L135.7 1143.0L136.7 1143.1L137.7 1143.7L138.7 1143.7L139.7 1143.7L140.7 1143.6L141.7 1143.1L142.7 1143.1L143.7 1143.1L144.7 1143.1L145.7 1143.0L146.7 1142.9L147.7 1142.9L148.7 1142.9L149.7 1142.3L150.7 1142.3L151.7 1142.4L152.7 1142.3L153.7 1141.6L154.7 1141.5L155.7 1141.5L156.7 1141.5L157.7 1140.8L158.7 1140.1L159.7 1140.0L160.7 1139.9L161.7 1139.3L162.7 1138.6L163.7 1138.4L164.7 1137.7L165.7 1136.4L166.7 1135.6L167.7 1134.9L168.7 1134.1L169.7 1133.3L170.7 1132.4L171.7 1131.0L172.7 1129.6L173.7 1128.7L174.7 1127.3L175.7 1126.4L176.7 1125.0L177.7 1123.5L178.7 1122.1L179.7 1121.2L180.7 1119.9L181.7 1119.0L182.7 1117.5L183.7 1116.0L184.7 1114.5L185.7 1112.9L186.7 1111.6L187.7 1110.1L188.7 1108.4L189.7 1106.2L190.7 1104.1L191.7 1102.5L192.7 1100.9L193.7 1098.7L194.7 1096.4L195.7 1094.4L196.7 1092.8L197.7 1091.3L198.7 1089.7L199.7 1087.5L200.7 1085.9L201.7 1083.7L202.7 1081.5L203.7 1079.2L204.7 1077.0L205.7 1074.0L206.7 1071.1L207.7 1068.7L208.7 1066.4L209.7 1063.4L210.7 1060.5L211.7 1057.5L212.7 1053.9L213.7 1050.8L214.7 1047.8L215.7 1045.4L216.7 1043.1L217.7 1040.3L218.7 1037.4L219.7 1034.9L220.7 1032.0L221.7 1029.1L222.7 1026.6L223.7 1023.9L224.7 1021.6L225.7 1019.1L226.7 1016.2L227.7 1013.2L228.7 1010.9L229.7 1008.6L230.7 1005.1L231.7 1002.0L232.7 999.6L233.7 996.7L234.7 993.8L235.7 992.1L236.7 990.0L237.7 987.9L238.7 986.2L239.7 983.9L240.7 981.0L241.7 978.6L242.7 975.8L243.7 972.9L244.7 970.6L245.7 968.3L246.7 965.3L247.7 962.4L248.7 960.0L249.7 957.1L250.7 954.0L251.7 951.0L252.7 949.4L253.7 948.0L254.7 946.6L255.7 945.6L256.7 943.5L257.7 941.4L258.7 939.0L259.7 936.7L260.7 935.1L261.7 933.8L262.7 932.1L263.7 929.2L264.7 926.3L265.7 924.7L266.7 923.3L267.7 921.8L268.7 920.3L269.7 918.1L270.7 915.8L271.7 914.2L272.7 913.5L273.7 913.4L274.7 912.0L275.7 909.8L276.7 908.3L277.7 907.4L278.7 906.0L279.7 904.4L280.7 902.9L281.7 901.5L282.7 899.9L283.7 896.9L284.7 893.4L285.7 890.2L286.7 887.3L287.7 885.8L288.7 885.0L289.7 884.2L290.7 883.6L291.7 883.6L292.7 883.4L293.7 882.0L294.7 880.6L295.7 880.5L296.7 880.6L297.7 881.2L298.7 881.1L299.7 879.7L300.7 877.6L301.7 875.2L302.7 873.7L303.7 872.4L304.7 872.9L305.7 873.1L306.7 873.7L307.7 873.9L308.7 874.5L309.7 874.4L310.7 873.7L311.7 873.1L312.7 872.3L313.7 871.6L314.7 872.3L315.7 873.0L316.7 872.4L317.7 872.1L318.7 872.1L319.7 872.3L320.7 872.9L321.7 872.1L322.7 870.8L323.7 870.1L324.7 870.8L325.7 870.8L326.7 870.0L327.7 869.1L328.7 868.6L329.7 870.0L330.7 870.8L331.7 870.1L332.7 869.9L333.7 869.4L334.7 869.4L335.7 869.2L336.7 868.6L337.7 868.6L338.7 869.2L339.7 869.4L340.7 869.1L341.7 868.5L342.7 869.9L343.7 870.9L344.7 871.5L345.7 871.4L346.7 872.2L347.7 873.8L348.7 874.6L349.7 874.6L350.7 875.2L351.7 875.9L352.7 876.1L353.7 876.7L354.7 877.4L355.7 877.5L356.7 877.5L357.7 877.6L358.7 878.2L359.7 878.2L360.7 877.5L361.7 878.1L362.7 879.8L363.7 881.3L364.7 881.4L365.7 882.0L366.7 882.7L367.7 883.4L368.7 884.9L369.7 885.7L370.7 885.8L371.7 887.1L372.7 888.1L373.7 888.8L374.7 889.5L375.7 890.3L376.7 891.7L377.7 892.5L378.7 892.6L379.7 893.1L380.7 893.9L381.7 895.5L382.7 896.4L383.7 896.9L384.7 897.7L385.7 899.2L386.7 900.1L387.7 901.6L388.7 903.1L389.7 905.3L390.7 906.9L391.7 908.2L392.7 909.7L393.7 911.2L394.7 912.7L395.7 913.5L396.7 914.3L397.7 915.8L398.7 917.3L399.7 919.4L400.7 921.0L401.7 922.4L402.7 923.2L403.7 924.1L404.7 925.6L405.7 927.6L406.7 929.9L407.7 931.5L408.7 932.3L409.7 933.6L410.7 934.4L411.7 934.6L412.7 936.0L413.7 937.4L414.7 937.5L415.7 937.5L416.7 937.6L417.7 938.3L418.7 939.9L419.7 941.9L420.7 943.4L421.7 945.1L422.7 947.3L423.7 948.8L424.7 950.4L425.7 952.4L426.7 953.3L427.7 954.0L428.7 955.6L429.7 957.1L430.7 957.8L431.7 958.4L432.7 959.3L433.7 961.4L434.7 963.7L435.7 965.2L436.7 966.1L437.7 967.5L438.7 968.4L439.7 969.1L440.7 969.8L441.7 970.6L442.7 971.9L443.7 972.8L444.7 974.2L445.7 975.1L446.7 976.4L447.7 977.4L448.7 978.8L449.7 979.5L450.7 980.3L451.7 981.1L452.7 982.4L453.7 983.4L454.7 984.8L455.7 986.2L456.7 987.0L457.7 988.4L458.7 989.2L459.7 990.0L460.7 990.9L461.7 992.3L462.7 993.7L463.7 995.1L464.7 996.1L465.7 997.5L466.7 998.3L467.7 999.1L468.7 999.9L469.7 1001.3L470.7 1002.9L471.7 1004.4L472.7 1005.9L473.7 1007.3L474.7 1008.7L475.7 1009.6L476.7 1010.9L477.7 1012.4L478.7 1013.3L479.7 1014.6L480.7 1016.2L481.7 1017.7L482.7 1019.1L483.7 1020.0L484.7 1020.8L485.7 1021.6L486.7 1022.2L487.7 1023.0L488.7 1023.8L489.7 1025.1L490.7 1025.9L491.7 1026.7L492.7 1028.1L493.7 1029.1L494.7 1030.5L495.7 1031.3L496.7 1032.6L497.7 1033.6L498.7 1035.0L499.7 1035.6L500.7 1035.8L501.7 1037.1L502.7 1038.1L503.7 1039.5L504.7 1040.9L505.7 1041.7L506.7 1042.5L507.7 1043.3L508.7 1044.1L509.7 1045.4L510.7 1046.3L511.7 1047.6L512.7 1048.5L513.7 1049.4L514.7 1050.6L515.7 1051.4L516.7 1052.1L517.7 1052.4L518.7 1053.0L519.7 1053.7L520.7 1054.6L521.7 1055.9L522.7 1056.8L523.7 1057.6L524.7 1058.3L525.7 1059.0L526.7 1059.8L527.7 1060.6L528.7 1061.9L529.7 1062.7L530.7 1063.6L531.7 1064.3L532.7 1065.1L533.7 1066.4L534.7 1066.6L535.7 1067.4L536.7 1068.7L537.7 1069.4L538.7 1069.6L539.7 1070.4L540.7 1071.7L541.7 1072.5L542.7 1073.3L543.7 1074.0L544.7 1074.7L545.7 1074.9L546.7 1076.1L547.7 1076.9L548.7 1077.6L549.7 1078.4L550.7 1079.2L551.7 1079.9L552.7 1080.1L553.7 1081.4L554.7 1082.2L555.7 1083.0L556.7 1083.8L557.7 1084.6L558.7 1085.9L559.7 1086.1L560.7 1086.9L561.7 1087.6L562.7 1088.3L563.7 1088.9L564.7 1089.7L565.7 1090.5L566.7 1091.2L567.7 1091.3L568.7 1092.0L569.7 1092.7L570.7 1093.5L571.7 1094.2L572.7 1094.4L573.7 1095.0L574.7 1095.7L575.7 1096.4L576.7 1097.1L577.7 1097.9L578.7 1098.6L579.7 1099.4L580.7 1100.2L581.7 1101.0L582.7 1101.1L583.7 1101.7L584.7 1101.8L585.7 1102.4L586.7 1102.5L587.7 1103.2L588.7 1103.9L589.7 1104.7L590.7 1105.4L591.7 1105.5L592.7 1105.6L593.7 1106.2L594.7 1106.9L595.7 1107.1L596.7 1107.7L597.7 1108.4L598.7 1109.1L599.7 1109.3L600.7 1110.0L601.7 1110.7L602.7 1111.4L603.7 1111.6L604.7 1112.2L605.7 1112.3L606.7 1112.9L607.7 1113.1L608.7 1113.7L609.7 1114.4L610.7 1114.5L611.7 1114.6L612.7 1115.2L613.7 1115.4L614.7 1115.9L615.7 1116.1L616.7 1116.7L617.7 1116.9L618.7 1117.4L619.7 1117.5L620.7 1118.1L621.7 1118.3L622.7 1119.0L623.7 1119.6L624.7 1119.8L625.7 1120.4L626.7 1120.5L627.7 1120.6L628.7 1121.3L629.7 1121.9L630.7 1121.9L631.7 1122.0L632.7 1122.6L633.7 1122.7L634.7 1122.8L635.7 1123.4L636.7 1123.5L637.7 1123.6L638.7 1124.1L639.7 1124.2L640.7 1124.3L641.7 1124.9L642.7 1125.0L643.7 1125.1L644.7 1125.6L645.7 1125.8L646.7 1125.9L647.7 1126.4L648.7 1126.5L649.7 1127.1L650.7 1127.2L651.7 1127.3L652.7 1127.3L653.7 1127.4L654.7 1128.0L655.7 1128.6L656.7 1128.1L657.7 1128.6L658.7 1128.8L659.7 1129.4L660.7 1129.5L661.7 1130.1L662.7 1130.3L663.7 1130.3L664.7 1130.9L665.7 1131.0L666.7 1131.0L667.7 1131.1L668.7 1131.1L669.7 1131.7L670.7 1131.9L671.7 1132.4L672.7 1132.5L673.7 1132.5L674.7 1132.6L675.7 1133.2L676.7 1133.3L677.7 1133.3L678.7 1133.4L679.7 1133.9L680.7 1133.9L681.7 1133.4L682.7 1133.9L683.7 1133.9L684.7 1134.0L685.7 1134.0L686.7 1134.1L687.7 1134.6L688.7 1134.8L689.7 1135.4L690.7 1135.5L691.7 1135.6L692.7 1135.6L693.7 1135.6L694.7 1135.5L695.7 1135.6L696.7 1136.1L697.7 1136.2L698.7 1136.2L699.7 1136.3L700.7 1136.9L701.7 1137.0L702.7 1137.1L703.7 1137.6L704.7 1137.6L705.7 1137.6L706.7 1137.1L707.7 1137.1L708.7 1137.7L709.7 1137.8L710.7 1137.8L711.7 1137.9L712.7 1137.9L713.7 1137.9L714.7 1138.4L715.7 1138.4L716.7 1138.4L717.7 1138.4L718.7 1138.4L719.7 1138.5L720.7 1138.6L721.7 1138.5L722.7 1138.5L723.7 1138.5L724.7 1138.6L725.7 1138.6L726.7 1138.6L727.7 1138.6L728.7 1139.2L729.7 1139.2L730.7 1139.3L731.7 1139.3L732.7 1139.9L733.7 1140.0L734.7 1140.0L735.7 1139.9L736.7 1140.0L737.7 1140.0L738.7 1140.0L739.7 1140.0L740.7 1140.0L741.7 1140.0L742.7 1140.0L743.7 1140.0L744.7 1140.0L745.7 1140.0L746.7 1140.0"/>
<path d="M132.7 1144.3L133.7 1144.3L134.7 1144.3L135.7 1143.9L136.7 1143.9L137.7 1143.9L138.7 1143.9L139.7 1143.8L140.7 1143.8L141.7 1143.7L142.7 1143.1L143.7 1142.9L144.7 1142.3L145.7 1142.4L146.7 1142.9L147.7 1142.9L148.7 1142.3L149.7 1142.2L150.7 1141.6L151.7 1141.5L152.7 1141.4L153.7 1140.8L154.7 1140.1L155.7 1140.1L156.7 1140.7L157.7 1140.7L158.7 1140.1L159.7 1140.0L160.7 1140.0L161.7 1139.9L162.7 1139.3L163.7 1139.2L164.7 1138.4L165.7 1137.0L166.7 1136.2L167.7 1135.4L168.7 1134.7L169.7 1134.0L170.7 1133.2L171.7 1131.7L172.7 1130.3L173.7 1128.8L174.7 1128.0L175.7 1127.2L176.7 1125.9L177.7 1124.9L178.7 1123.6L179.7 1122.1L180.7 1120.6L181.7 1119.6L182.7 1118.1L183.7 1116.9L184.7 1116.1L185.7 1114.6L186.7 1112.4L187.7 1110.9L188.7 1109.9L189.7 1108.4L190.7 1106.3L191.7 1104.6L192.7 1103.1L193.7 1101.1L194.7 1098.9L195.7 1096.6L196.7 1094.9L197.7 1092.8L198.7 1091.4L199.7 1089.7L200.7 1087.5L201.7 1085.4L202.7 1083.6L203.7 1080.8L204.7 1078.5L205.7 1076.2L206.7 1073.4L207.7 1071.6L208.7 1069.6L209.7 1067.3L210.7 1064.3L211.7 1061.9L212.7 1059.0L213.7 1056.6L214.7 1053.9L215.7 1051.6L216.7 1049.2L217.7 1046.3L218.7 1043.2L219.7 1040.1L220.7 1037.2L221.7 1034.9L222.7 1031.9L223.7 1029.0L224.7 1026.1L225.7 1023.7L226.7 1021.4L227.7 1018.5L228.7 1016.1L229.7 1013.9L230.7 1011.8L231.7 1009.6L232.7 1007.2L233.7 1004.3L234.7 1001.9L235.7 999.1L236.7 997.6L237.7 996.0L238.7 993.1L239.7 991.5L240.7 990.6L241.7 989.1L242.7 986.9L243.7 984.6L244.7 982.6L245.7 980.9L246.7 978.0L247.7 975.0L248.7 972.0L249.7 969.6L250.7 966.7L251.7 963.1L252.7 960.6L253.7 957.8L254.7 955.6L255.7 954.1L256.7 953.2L257.7 951.7L258.7 949.6L259.7 947.9L260.7 946.5L261.7 945.1L262.7 943.6L263.7 942.0L264.7 939.8L265.7 937.6L266.7 935.9L267.7 934.5L268.7 932.9L269.7 930.7L270.7 929.2L271.7 928.6L272.7 927.8L273.7 926.3L274.7 925.4L275.7 924.0L276.7 921.9L277.7 920.1L278.7 918.7L279.7 917.2L280.7 915.7L281.7 913.6L282.7 912.0L283.7 909.9L284.7 907.6L285.7 905.4L286.7 904.6L287.7 903.8L288.7 902.3L289.7 901.4L290.7 900.9L291.7 901.4L292.7 900.8L293.7 900.1L294.7 900.0L295.7 900.1L296.7 899.9L297.7 898.5L298.7 897.1L299.7 896.4L300.7 896.1L301.7 895.5L302.7 896.3L303.7 896.4L304.7 896.9L305.7 897.7L306.7 898.4L307.7 897.7L308.7 895.6L309.7 892.6L310.7 889.6L311.7 886.4L312.7 881.9L313.7 879.0L314.7 880.5L315.7 884.1L316.7 887.9L317.7 891.0L318.7 892.5L319.7 892.6L320.7 892.6L321.7 892.4L322.7 891.1L323.7 890.9L324.7 890.4L325.7 890.4L326.7 890.2L327.7 889.5L328.7 889.5L329.7 888.9L330.7 888.8L331.7 888.1L332.7 888.1L333.7 888.6L334.7 888.1L335.7 888.9L336.7 888.8L337.7 886.6L338.7 884.2L339.7 883.5L340.7 883.6L341.7 885.0L342.7 887.3L343.7 890.3L344.7 892.6L345.7 894.1L346.7 894.8L347.7 895.5L348.7 896.1L349.7 894.8L350.7 894.1L351.7 894.9L352.7 896.3L353.7 896.4L354.7 896.2L355.7 897.1L356.7 899.2L357.7 900.1L358.7 899.2L359.7 897.9L360.7 898.4L361.7 899.9L362.7 901.4L363.7 901.5L364.7 901.5L365.7 901.6L366.7 902.4L367.7 903.9L368.7 905.3L369.7 904.6L370.7 904.4L371.7 904.5L372.7 905.1L373.7 905.3L374.7 906.7L375.7 908.1L376.7 908.4L377.7 909.0L378.7 910.4L379.7 912.0L380.7 913.5L381.7 914.2L382.7 914.9L383.7 916.6L384.7 918.1L385.7 918.1L386.7 918.8L387.7 921.1L388.7 923.3L389.7 924.7L390.7 926.1L391.7 927.8L392.7 929.3L393.7 930.1L394.7 931.5L395.7 933.0L396.7 934.5L397.7 935.1L398.7 935.3L399.7 936.7L400.7 938.3L401.7 939.8L402.7 941.2L403.7 942.7L404.7 944.2L405.7 945.8L406.7 947.9L407.7 948.6L408.7 948.8L409.7 949.4L410.7 950.1L411.7 951.1L412.7 951.9L413.7 952.6L414.7 954.0L415.7 955.4L416.7 956.9L417.7 958.4L418.7 960.0L419.7 961.5L420.7 962.3L421.7 963.0L422.7 963.8L423.7 965.1L424.7 965.9L425.7 966.6L426.7 967.5L427.7 968.4L428.7 969.0L429.7 969.7L430.7 970.4L431.7 971.1L432.7 972.6L433.7 974.2L434.7 975.0L435.7 975.8L436.7 976.6L437.7 977.9L438.7 978.8L439.7 979.6L440.7 980.9L441.7 981.8L442.7 983.3L443.7 984.8L444.7 986.3L445.7 987.8L446.7 988.6L447.7 989.9L448.7 990.6L449.7 990.8L450.7 990.9L451.7 991.4L452.7 992.1L453.7 992.9L454.7 993.1L455.7 994.4L456.7 995.9L457.7 997.5L458.7 999.6L459.7 1001.2L460.7 1002.8L461.7 1004.2L462.7 1005.7L463.7 1006.6L464.7 1007.9L465.7 1009.4L466.7 1010.3L467.7 1011.1L468.7 1012.4L469.7 1013.4L470.7 1014.6L471.7 1014.9L472.7 1016.2L473.7 1017.6L474.7 1019.1L475.7 1020.0L476.7 1020.8L477.7 1022.1L478.7 1023.1L479.7 1024.4L480.7 1025.3L481.7 1026.7L482.7 1028.3L483.7 1029.7L484.7 1030.4L485.7 1030.6L486.7 1031.3L487.7 1032.6L488.7 1033.4L489.7 1034.2L490.7 1035.0L491.7 1035.7L492.7 1036.6L493.7 1038.0L494.7 1039.4L495.7 1040.2L496.7 1041.1L497.7 1041.9L498.7 1043.1L499.7 1043.9L500.7 1044.7L501.7 1045.5L502.7 1046.3L503.7 1047.6L504.7 1048.5L505.7 1049.9L506.7 1050.6L507.7 1050.9L508.7 1051.6L509.7 1052.9L510.7 1053.8L511.7 1054.6L512.7 1055.4L513.7 1056.7L514.7 1057.5L515.7 1058.3L516.7 1059.1L517.7 1059.9L518.7 1060.6L519.7 1061.9L520.7 1062.6L521.7 1063.4L522.7 1064.2L523.7 1064.9L524.7 1065.7L525.7 1066.4L526.7 1067.3L527.7 1068.1L528.7 1069.4L529.7 1069.6L530.7 1070.4L531.7 1071.1L532.7 1071.7L533.7 1072.5L534.7 1073.2L535.7 1073.4L536.7 1074.0L537.7 1074.8L538.7 1076.1L539.7 1076.4L540.7 1077.0L541.7 1077.8L542.7 1078.6L543.7 1079.4L544.7 1080.1L545.7 1080.9L546.7 1081.6L547.7 1082.3L548.7 1083.0L549.7 1083.7L550.7 1084.5L551.7 1085.2L552.7 1085.9L553.7 1086.7L554.7 1087.5L555.7 1088.2L556.7 1088.9L557.7 1089.1L558.7 1089.7L559.7 1090.4L560.7 1091.1L561.7 1091.4L562.7 1092.1L563.7 1092.8L564.7 1093.5L565.7 1094.2L566.7 1094.9L567.7 1095.1L568.7 1095.8L569.7 1096.5L570.7 1097.3L571.7 1098.0L572.7 1098.7L573.7 1099.4L574.7 1100.2L575.7 1100.9L576.7 1101.0L577.7 1101.6L578.7 1102.4L579.7 1103.2L580.7 1103.9L581.7 1104.1L582.7 1104.7L583.7 1104.8L584.7 1105.4L585.7 1106.1L586.7 1106.4L587.7 1107.0L588.7 1107.7L589.7 1107.9L590.7 1108.5L591.7 1109.1L592.7 1109.3L593.7 1109.9L594.7 1110.1L595.7 1110.6L596.7 1110.8L597.7 1111.4L598.7 1111.6L599.7 1112.1L600.7 1112.2L601.7 1112.4L602.7 1113.0L603.7 1113.6L604.7 1113.8L605.7 1114.4L606.7 1115.2L607.7 1115.9L608.7 1116.1L609.7 1116.1L610.7 1116.7L611.7 1116.9L612.7 1117.5L613.7 1118.1L614.7 1118.3L615.7 1118.3L616.7 1118.3L617.7 1118.4L618.7 1119.0L619.7 1119.7L620.7 1119.9L621.7 1119.9L622.7 1120.4L623.7 1120.6L624.7 1121.2L625.7 1121.3L626.7 1122.0L627.7 1122.1L628.7 1122.6L629.7 1122.8L630.7 1123.5L631.7 1124.2L632.7 1124.3L633.7 1124.9L634.7 1125.0L635.7 1125.0L636.7 1125.1L637.7 1125.6L638.7 1125.7L639.7 1125.8L640.7 1125.8L641.7 1125.8L642.7 1125.9L643.7 1126.5L644.7 1127.1L645.7 1127.3L646.7 1127.4L647.7 1127.9L648.7 1128.0L649.7 1128.7L650.7 1128.8L651.7 1128.8L652.7 1129.4L653.7 1129.5L654.7 1129.6L655.7 1130.2L656.7 1130.3L657.7 1130.4L658.7 1130.9L659.7 1130.9L660.7 1130.9L661.7 1131.0L662.7 1131.1L663.7 1131.7L664.7 1131.8L665.7 1131.9L666.7 1132.4L667.7 1132.5L668.7 1132.5L669.7 1132.6L670.7 1133.1L671.7 1133.2L672.7 1133.2L673.7 1133.4L674.7 1133.9L675.7 1133.9L676.7 1133.9L677.7 1133.9L678.7 1134.0L679.7 1134.1L680.7 1134.0L681.7 1134.1L682.7 1134.6L683.7 1134.8L684.7 1134.8L685.7 1134.9L686.7 1135.5L687.7 1136.1L688.7 1136.2L689.7 1136.2L690.7 1135.6L691.7 1135.6L692.7 1136.2L693.7 1136.2L694.7 1136.2L695.7 1136.2L696.7 1136.3L697.7 1136.3L698.7 1136.4L699.7 1137.0L700.7 1137.0L701.7 1137.1L702.7 1137.1L703.7 1137.1L704.7 1137.1L705.7 1137.6L706.7 1137.7L707.7 1137.8L708.7 1137.8L709.7 1137.8L710.7 1137.9L711.7 1137.8L712.7 1137.7L713.7 1137.8L714.7 1138.4L715.7 1138.5L716.7 1138.6L717.7 1139.2L718.7 1139.3L719.7 1139.3L720.7 1139.3L721.7 1139.4L722.7 1139.9L723.7 1139.9L724.7 1139.4L725.7 1139.2L726.7 1139.2L727.7 1139.3L728.7 1139.3L729.7 1139.3L730.7 1139.4L731.7 1139.9L732.7 1139.9L733.7 1140.0L734.7 1140.1L735.7 1140.1L736.7 1140.0L737.7 1140.0L738.7 1140.0L739.7 1140.0L740.7 1140.1L741.7 1140.6L742.7 1140.6L743.7 1140.1L744.7 1140.6L745.7 1140.7L746.7 1140.7"/>
<path d="M132.7 1143.8L133.7 1144.3L134.7 1144.3L135.7 1144.3L136.7 1143.8L137.7 1143.8L138.7 1143.8L139.7 1143.7L140.7 1143.6L141.7 1143.1L142.7 1143.1L143.7 1143.7L144.7 1143.8L145.7 1143.7L146.7 1143.6L147.7 1143.1L148.7 1142.9L149.7 1142.9L150.7 1142.9L151.7 1142.4L152.7 1142.1L153.7 1141.5L154.7 1141.5L155.7 1141.4L156.7 1140.9L157.7 1140.8L158.7 1140.7L159.7 1140.1L160.7 1140.0L161.7 1139.9L162.7 1139.3L163.7 1139.2L164.7 1138.6L165.7 1137.8L166.7 1136.9L167.7 1136.2L168.7 1135.5L169.7 1134.8L170.7 1134.1L171.7 1133.9L172.7 1133.1L173.7 1131.7L174.7 1130.2L175.7 1128.7L176.7 1127.4L177.7 1126.5L178.7 1125.7L179.7 1124.2L180.7 1122.7L181.7 1121.2L182.7 1119.7L183.7 1118.3L184.7 1117.4L185.7 1116.6L186.7 1115.2L187.7 1113.1L188.7 1111.6L189.7 1110.6L190.7 1109.2L191.7 1107.7L192.7 1106.2L193.7 1104.7L194.7 1102.5L195.7 1100.1L196.7 1098.0L197.7 1096.5L198.7 1095.0L199.7 1092.8L200.7 1090.6L201.7 1088.4L202.7 1086.6L203.7 1084.4L204.7 1082.2L205.7 1080.0L206.7 1077.9L207.7 1076.2L208.7 1073.3L209.7 1071.0L210.7 1068.9L211.7 1066.4L212.7 1062.9L213.7 1060.6L214.7 1058.3L215.7 1055.4L216.7 1052.9L217.7 1050.0L218.7 1047.8L219.7 1046.1L220.7 1043.3L221.7 1040.2L222.7 1037.3L223.7 1035.1L224.7 1032.9L225.7 1030.5L226.7 1028.1L227.7 1025.3L228.7 1023.0L229.7 1021.4L230.7 1019.4L231.7 1017.1L232.7 1014.6L233.7 1012.4L234.7 1010.4L235.7 1008.1L236.7 1005.7L237.7 1003.5L238.7 1001.3L239.7 999.1L240.7 996.8L241.7 994.5L242.7 992.3L243.7 991.4L244.7 990.1L245.7 989.2L246.7 987.7L247.7 984.8L248.7 981.8L249.7 979.4L250.7 976.6L251.7 974.4L252.7 972.8L253.7 971.9L254.7 970.4L255.7 968.2L256.7 966.0L257.7 964.4L258.7 962.4L259.7 961.4L260.7 959.9L261.7 958.4L262.7 957.1L263.7 956.1L264.7 953.4L265.7 950.4L266.7 948.6L267.7 947.2L268.7 945.7L269.7 944.2L270.7 943.4L271.7 942.7L272.7 941.4L273.7 940.5L274.7 939.0L275.7 937.4L276.7 936.0L277.7 935.2L278.7 933.1L279.7 930.9L280.7 929.9L281.7 928.6L282.7 927.1L283.7 925.5L284.7 924.0L285.7 923.2L286.7 922.5L287.7 921.8L288.7 921.0L289.7 920.2L290.7 919.6L291.7 918.7L292.7 917.9L293.7 917.2L294.7 915.7L295.7 914.2L296.7 913.5L297.7 913.6L298.7 913.6L299.7 913.6L300.7 914.3L301.7 915.0L302.7 915.7L303.7 915.0L304.7 913.6L305.7 912.8L306.7 911.2L307.7 909.8L308.7 910.4L309.7 911.2L310.7 910.4L311.7 909.6L312.7 908.9L313.7 908.1L314.7 906.1L315.7 903.1L316.7 899.4L317.7 897.8L318.7 897.9L319.7 900.1L320.7 903.1L321.7 905.3L322.7 906.6L323.7 907.4L324.7 907.6L325.7 907.5L326.7 906.7L327.7 905.4L328.7 905.3L329.7 905.9L330.7 906.7L331.7 906.9L332.7 906.7L333.7 905.9L334.7 905.2L335.7 904.6L336.7 905.2L337.7 906.1L338.7 906.8L339.7 907.5L340.7 909.0L341.7 911.1L342.7 912.1L343.7 912.8L344.7 912.1L345.7 912.1L346.7 912.8L347.7 913.4L348.7 912.9L349.7 913.5L350.7 914.2L351.7 914.4L352.7 914.9L353.7 914.3L354.7 914.4L355.7 915.1L356.7 915.8L357.7 915.7L358.7 916.4L359.7 917.1L360.7 917.3L361.7 918.1L362.7 918.8L363.7 919.6L364.7 920.4L365.7 921.1L366.7 921.7L367.7 921.6L368.7 921.8L369.7 921.8L370.7 921.7L371.7 921.9L372.7 923.2L373.7 924.1L374.7 925.4L375.7 926.2L376.7 926.3L377.7 926.9L378.7 927.8L379.7 929.3L380.7 930.8L381.7 932.2L382.7 932.3L383.7 932.9L384.7 933.7L385.7 934.4L386.7 935.2L387.7 935.3L388.7 935.9L389.7 936.7L390.7 938.1L391.7 939.1L392.7 941.9L393.7 944.2L394.7 945.1L395.7 945.6L396.7 946.4L397.7 947.9L398.7 949.5L399.7 951.1L400.7 952.5L401.7 953.3L402.7 954.7L403.7 956.3L404.7 958.4L405.7 960.0L406.7 960.8L407.7 961.4L408.7 961.6L409.7 962.4L410.7 963.7L411.7 965.3L412.7 967.4L413.7 968.9L414.7 969.7L415.7 970.4L416.7 970.6L417.7 971.2L418.7 971.9L419.7 971.9L420.7 971.9L421.7 972.0L422.7 972.6L423.7 973.5L424.7 975.7L425.7 977.9L426.7 979.6L427.7 980.9L428.7 981.7L429.7 982.4L430.7 983.2L431.7 984.7L432.7 986.2L433.7 987.7L434.7 989.1L435.7 989.2L436.7 989.1L437.7 989.9L438.7 990.8L439.7 992.2L440.7 993.7L441.7 995.2L442.7 995.9L443.7 996.0L444.7 996.7L445.7 998.2L446.7 999.1L447.7 999.8L448.7 1001.2L449.7 1002.9L450.7 1004.4L451.7 1005.7L452.7 1006.4L453.7 1006.6L454.7 1007.4L455.7 1008.7L456.7 1009.6L457.7 1010.3L458.7 1011.1L459.7 1012.5L460.7 1014.0L461.7 1015.4L462.7 1016.2L463.7 1017.0L464.7 1017.9L465.7 1019.3L466.7 1020.1L467.7 1020.7L468.7 1021.5L469.7 1022.4L470.7 1023.8L471.7 1025.2L472.7 1026.1L473.7 1027.5L474.7 1028.2L475.7 1029.0L476.7 1029.8L477.7 1030.6L478.7 1032.1L479.7 1033.4L480.7 1034.3L481.7 1035.1L482.7 1036.4L483.7 1037.3L484.7 1038.6L485.7 1039.5L486.7 1040.2L487.7 1040.9L488.7 1041.0L489.7 1041.9L490.7 1043.3L491.7 1044.1L492.7 1045.4L493.7 1046.2L494.7 1047.0L495.7 1047.7L496.7 1047.9L497.7 1048.6L498.7 1049.9L499.7 1050.9L500.7 1052.2L501.7 1053.0L502.7 1053.8L503.7 1055.1L504.7 1056.0L505.7 1056.7L506.7 1057.5L507.7 1058.9L508.7 1059.8L509.7 1060.6L510.7 1061.9L511.7 1062.1L512.7 1062.7L513.7 1062.8L514.7 1063.5L515.7 1064.3L516.7 1065.1L517.7 1065.9L518.7 1066.6L519.7 1067.3L520.7 1068.0L521.7 1068.8L522.7 1069.5L523.7 1070.3L524.7 1071.1L525.7 1071.8L526.7 1072.6L527.7 1073.3L528.7 1073.9L529.7 1074.0L530.7 1074.8L531.7 1075.6L532.7 1076.3L533.7 1077.1L534.7 1077.8L535.7 1078.6L536.7 1079.3L537.7 1080.0L538.7 1080.7L539.7 1081.4L540.7 1082.1L541.7 1082.3L542.7 1083.1L543.7 1083.9L544.7 1084.5L545.7 1085.2L546.7 1085.9L547.7 1086.6L548.7 1087.4L549.7 1088.1L550.7 1088.9L551.7 1089.1L552.7 1089.7L553.7 1090.4L554.7 1091.1L555.7 1091.9L556.7 1092.6L557.7 1093.4L558.7 1093.6L559.7 1094.3L560.7 1095.0L561.7 1095.6L562.7 1095.9L563.7 1096.6L564.7 1097.3L565.7 1098.0L566.7 1098.6L567.7 1098.8L568.7 1099.4L569.7 1099.6L570.7 1100.3L571.7 1101.0L572.7 1101.7L573.7 1101.9L574.7 1102.4L575.7 1102.6L576.7 1103.4L577.7 1104.1L578.7 1104.9L579.7 1105.6L580.7 1106.1L581.7 1106.2L582.7 1106.9L583.7 1107.6L584.7 1108.4L585.7 1108.5L586.7 1109.2L587.7 1109.4L588.7 1109.9L589.7 1110.1L590.7 1110.7L591.7 1110.9L592.7 1111.6L593.7 1112.2L594.7 1112.3L595.7 1112.9L596.7 1113.1L597.7 1113.7L598.7 1113.9L599.7 1114.4L600.7 1114.6L601.7 1115.3L602.7 1116.0L603.7 1116.6L604.7 1116.7L605.7 1116.8L606.7 1116.9L607.7 1117.4L608.7 1117.5L609.7 1118.1L610.7 1118.2L611.7 1118.3L612.7 1118.4L613.7 1119.0L614.7 1119.7L615.7 1120.4L616.7 1120.5L617.7 1120.5L618.7 1121.1L619.7 1121.3L620.7 1122.0L621.7 1122.8L622.7 1123.4L623.7 1123.4L624.7 1123.4L625.7 1123.5L626.7 1124.2L627.7 1124.3L628.7 1124.3L629.7 1124.4L630.7 1124.9L631.7 1125.1L632.7 1125.6L633.7 1125.7L634.7 1125.8L635.7 1125.9L636.7 1126.4L637.7 1126.6L638.7 1127.2L639.7 1127.3L640.7 1127.4L641.7 1127.9L642.7 1127.9L643.7 1128.0L644.7 1128.1L645.7 1128.6L646.7 1128.7L647.7 1128.7L648.7 1128.7L649.7 1128.7L650.7 1128.8L651.7 1129.5L652.7 1129.6L653.7 1130.2L654.7 1130.2L655.7 1130.2L656.7 1130.3L657.7 1130.9L658.7 1131.0L659.7 1131.0L660.7 1131.1L661.7 1131.7L662.7 1131.7L663.7 1131.9L664.7 1132.5L665.7 1132.6L666.7 1133.2L667.7 1133.2L668.7 1133.3L669.7 1133.9L670.7 1134.0L671.7 1133.9L672.7 1133.9L673.7 1133.9L674.7 1134.1L675.7 1134.6L676.7 1134.7L677.7 1134.7L678.7 1134.8L679.7 1135.4L680.7 1135.5L681.7 1135.5L682.7 1135.6L683.7 1136.1L684.7 1136.2L685.7 1136.1L686.7 1136.2L687.7 1136.4L688.7 1136.9L689.7 1137.0L690.7 1137.0L691.7 1137.0L692.7 1137.0L693.7 1137.0L694.7 1137.0L695.7 1137.0L696.7 1137.0L697.7 1137.6L698.7 1137.7L699.7 1137.7L700.7 1137.8L701.7 1138.4L702.7 1137.8L703.7 1137.8L704.7 1137.8L705.7 1138.4L706.7 1138.4L707.7 1138.4L708.7 1137.9L709.7 1138.4L710.7 1138.5L711.7 1138.5L712.7 1138.6L713.7 1139.1L714.7 1139.2L715.7 1139.1L716.7 1139.1L717.7 1138.6L718.7 1138.6L719.7 1139.1L720.7 1139.3L721.7 1139.4L722.7 1139.4L723.7 1139.3L724.7 1139.4L725.7 1139.9L726.7 1139.9L727.7 1139.3L728.7 1139.4L729.7 1140.0L730.7 1140.7L731.7 1140.7L732.7 1140.6L733.7 1140.1L734.7 1140.1L735.7 1140.1L736.7 1140.0L737.7 1140.0L738.7 1140.0L739.7 1140.1L740.7 1140.6L741.7 1140.7L742.7 1140.7L743.7 1140.8L744.7 1140.8L745.7 1140.7L746.7 1140.8"/>
<path d="M132.7 1143.7L133.7 1143.7L134.7 1143.8L135.7 1143.7L136.7 1143.1L137.7 1143.0L138.7 1143.1L139.7 1143.7L140.7 1143.8L141.7 1143.8L142.7 1143.7L143.7 1143.6L144.7 1143.6L145.7 1143.1L146.7 1143.0L147.7 1143.1L148.7 1143.7L149.7 1143.7L150.7 1143.0L151.7 1142.3L152.7 1142.2L153.7 1142.2L154.7 1142.2L155.7 1142.1L156.7 1141.6L157.7 1141.4L158.7 1140.9L159.7 1141.4L160.7 1140.9L161.7 1140.7L162.7 1140.0L163.7 1139.9L164.7 1139.3L165.7 1139.2L166.7 1138.5L167.7 1137.7L168.7 1136.3L169.7 1135.4L170.7 1134.7L171.7 1133.9L172.7 1133.1L173.7 1131.7L174.7 1130.3L175.7 1129.4L176.7 1128.0L177.7 1126.5L178.7 1125.1L179.7 1124.3L180.7 1123.5L181.7 1122.1L182.7 1120.6L183.7 1119.7L184.7 1118.3L185.7 1116.8L186.7 1115.3L187.7 1113.8L188.7 1112.9L189.7 1111.5L190.7 1110.0L191.7 1108.5L192.7 1107.0L193.7 1105.6L194.7 1104.1L195.7 1102.4L196.7 1100.9L197.7 1099.4L198.7 1097.4L199.7 1095.8L200.7 1094.2L201.7 1092.7L202.7 1090.6L203.7 1088.9L204.7 1086.9L205.7 1085.3L206.7 1083.0L207.7 1080.6L208.7 1077.9L209.7 1075.5L210.7 1073.4L211.7 1071.8L212.7 1069.6L213.7 1067.2L214.7 1064.3L215.7 1062.0L216.7 1059.7L217.7 1057.5L218.7 1054.6L219.7 1052.2L220.7 1049.9L221.7 1047.1L222.7 1044.9L223.7 1042.6L224.7 1040.2L225.7 1037.3L226.7 1034.9L227.7 1032.8L228.7 1031.1L229.7 1028.3L230.7 1025.3L231.7 1022.9L232.7 1020.6L233.7 1018.4L234.7 1016.3L235.7 1014.7L236.7 1013.9L237.7 1013.2L238.7 1011.7L239.7 1009.6L240.7 1008.7L241.7 1007.9L242.7 1006.6L243.7 1005.7L244.7 1004.3L245.7 1002.1L246.7 999.6L247.7 997.5L248.7 996.7L249.7 994.6L250.7 992.9L251.7 991.5L252.7 990.1L253.7 988.6L254.7 987.0L255.7 985.4L256.7 984.0L257.7 983.2L258.7 981.8L259.7 979.6L260.7 978.1L261.7 977.2L262.7 975.0L263.7 972.7L264.7 971.4L265.7 970.5L266.7 968.2L267.7 966.0L268.7 964.6L269.7 963.7L270.7 963.7L271.7 963.0L272.7 961.6L273.7 960.6L274.7 960.0L275.7 959.3L276.7 957.6L277.7 954.8L278.7 952.5L279.7 950.3L280.7 948.0L281.7 944.3L282.7 941.2L283.7 939.6L284.7 938.4L285.7 936.9L286.7 935.3L287.7 933.8L288.7 933.0L289.7 931.6L290.7 930.1L291.7 928.5L292.7 927.0L293.7 926.9L294.7 926.9L295.7 926.9L296.7 927.6L297.7 927.8L298.7 927.0L299.7 927.0L300.7 929.2L301.7 930.7L302.7 929.4L303.7 927.6L304.7 925.6L305.7 924.7L306.7 923.9L307.7 924.0L308.7 924.1L309.7 923.9L310.7 923.4L311.7 923.2L312.7 922.4L313.7 921.7L314.7 921.7L315.7 921.6L316.7 921.8L317.7 922.4L318.7 921.7L319.7 921.0L320.7 921.8L321.7 922.5L322.7 922.4L323.7 922.4L324.7 922.6L325.7 922.6L326.7 923.1L327.7 923.9L328.7 924.7L329.7 924.8L330.7 924.1L331.7 922.5L332.7 920.1L333.7 917.1L334.7 915.0L335.7 914.2L336.7 914.3L337.7 916.4L338.7 918.8L339.7 920.3L340.7 921.1L341.7 921.1L342.7 921.0L343.7 921.0L344.7 921.7L345.7 922.6L346.7 923.9L347.7 924.1L348.7 924.9L349.7 926.3L350.7 927.1L351.7 927.8L352.7 928.6L353.7 929.9L354.7 930.0L355.7 929.9L356.7 930.1L357.7 930.7L358.7 930.8L359.7 930.8L360.7 931.4L361.7 931.5L362.7 930.1L363.7 929.3L364.7 930.8L365.7 932.3L366.7 933.1L367.7 933.1L368.7 932.3L369.7 933.1L370.7 934.6L371.7 936.1L372.7 937.5L373.7 938.2L374.7 938.3L375.7 938.2L376.7 938.1L377.7 939.1L378.7 941.2L379.7 942.7L380.7 943.6L381.7 944.9L382.7 945.7L383.7 946.5L384.7 948.7L385.7 951.1L386.7 952.4L387.7 952.4L388.7 952.5L389.7 952.5L390.7 952.5L391.7 953.4L392.7 954.8L393.7 955.6L394.7 956.4L395.7 957.8L396.7 959.4L397.7 961.5L398.7 963.0L399.7 963.8L400.7 964.5L401.7 965.3L402.7 966.0L403.7 966.8L404.7 968.1L405.7 969.6L406.7 970.6L407.7 972.0L408.7 972.9L409.7 974.4L410.7 975.7L411.7 976.4L412.7 976.5L413.7 977.4L414.7 979.4L415.7 981.0L416.7 982.6L417.7 983.4L418.7 983.4L419.7 983.3L420.7 983.9L421.7 984.0L422.7 984.7L423.7 986.2L424.7 987.6L425.7 988.6L426.7 990.6L427.7 992.3L428.7 993.8L429.7 995.3L430.7 996.1L431.7 997.4L432.7 998.2L433.7 999.0L434.7 1000.4L435.7 1000.6L436.7 1001.2L437.7 1001.9L438.7 1002.7L439.7 1003.5L440.7 1004.2L441.7 1004.4L442.7 1005.1L443.7 1006.4L444.7 1007.1L445.7 1008.0L446.7 1008.8L447.7 1009.5L448.7 1009.6L449.7 1010.2L450.7 1011.1L451.7 1012.5L452.7 1013.9L453.7 1014.9L454.7 1016.2L455.7 1017.0L456.7 1018.5L457.7 1020.0L458.7 1020.9L459.7 1021.5L460.7 1021.6L461.7 1022.2L462.7 1023.1L463.7 1025.1L464.7 1025.9L465.7 1026.0L466.7 1026.1L467.7 1027.4L468.7 1028.9L469.7 1029.9L470.7 1031.2L471.7 1032.0L472.7 1032.8L473.7 1033.6L474.7 1034.4L475.7 1035.1L476.7 1036.4L477.7 1037.3L478.7 1038.8L479.7 1040.1L480.7 1040.9L481.7 1041.6L482.7 1042.4L483.7 1043.3L484.7 1044.7L485.7 1045.6L486.7 1046.9L487.7 1047.1L488.7 1048.4L489.7 1049.3L490.7 1050.1L491.7 1050.7L492.7 1050.8L493.7 1051.6L494.7 1052.3L495.7 1053.0L496.7 1053.1L497.7 1054.4L498.7 1055.3L499.7 1056.1L500.7 1056.9L501.7 1057.6L502.7 1058.3L503.7 1059.1L504.7 1060.5L505.7 1061.9L506.7 1062.6L507.7 1063.5L508.7 1064.2L509.7 1064.2L510.7 1064.9L511.7 1065.6L512.7 1066.4L513.7 1067.1L514.7 1067.9L515.7 1068.7L516.7 1069.6L517.7 1070.3L518.7 1071.0L519.7 1071.7L520.7 1072.5L521.7 1073.2L522.7 1073.9L523.7 1074.1L524.7 1074.8L525.7 1075.5L526.7 1076.3L527.7 1077.1L528.7 1077.8L529.7 1078.6L530.7 1079.3L531.7 1080.0L532.7 1080.7L533.7 1081.5L534.7 1082.3L535.7 1082.9L536.7 1083.1L537.7 1083.6L538.7 1083.8L539.7 1084.5L540.7 1085.2L541.7 1085.9L542.7 1086.1L543.7 1086.8L544.7 1087.6L545.7 1088.2L546.7 1088.9L547.7 1089.1L548.7 1090.4L549.7 1091.2L550.7 1092.0L551.7 1092.9L552.7 1093.6L553.7 1094.1L554.7 1094.2L555.7 1094.9L556.7 1095.1L557.7 1095.8L558.7 1096.5L559.7 1097.3L560.7 1097.9L561.7 1098.1L562.7 1098.8L563.7 1099.6L564.7 1100.4L565.7 1101.0L566.7 1101.7L567.7 1101.8L568.7 1102.5L569.7 1103.2L570.7 1103.4L571.7 1103.9L572.7 1104.1L573.7 1104.7L574.7 1104.9L575.7 1105.5L576.7 1105.6L577.7 1106.2L578.7 1106.3L579.7 1107.0L580.7 1107.8L581.7 1108.4L582.7 1108.5L583.7 1109.1L584.7 1109.3L585.7 1110.0L586.7 1110.8L587.7 1111.5L588.7 1112.2L589.7 1112.3L590.7 1112.4L591.7 1112.9L592.7 1113.0L593.7 1113.1L594.7 1113.8L595.7 1114.4L596.7 1114.6L597.7 1115.2L598.7 1115.9L599.7 1116.1L600.7 1116.6L601.7 1116.8L602.7 1117.5L603.7 1118.1L604.7 1118.3L605.7 1119.0L606.7 1119.1L607.7 1119.1L608.7 1119.1L609.7 1119.6L610.7 1120.4L611.7 1120.5L612.7 1120.6L613.7 1121.2L614.7 1121.9L615.7 1122.0L616.7 1122.6L617.7 1123.4L618.7 1123.5L619.7 1123.6L620.7 1123.6L621.7 1123.6L622.7 1124.2L623.7 1124.3L624.7 1124.3L625.7 1124.9L626.7 1125.1L627.7 1125.7L628.7 1125.8L629.7 1125.7L630.7 1125.7L631.7 1125.9L632.7 1126.5L633.7 1126.6L634.7 1126.6L635.7 1127.2L636.7 1127.3L637.7 1127.9L638.7 1128.0L639.7 1128.7L640.7 1128.9L641.7 1129.4L642.7 1129.5L643.7 1129.6L644.7 1129.6L645.7 1130.1L646.7 1130.2L647.7 1130.3L648.7 1130.4L649.7 1130.4L650.7 1130.3L651.7 1130.3L652.7 1130.9L653.7 1131.0L654.7 1131.1L655.7 1131.1L656.7 1131.1L657.7 1131.1L658.7 1131.7L659.7 1131.9L660.7 1132.4L661.7 1132.4L662.7 1132.4L663.7 1132.5L664.7 1133.2L665.7 1133.3L666.7 1133.9L667.7 1133.9L668.7 1134.1L669.7 1134.7L670.7 1134.1L671.7 1134.0L672.7 1134.0L673.7 1134.1L674.7 1134.7L675.7 1134.9L676.7 1135.4L677.7 1135.5L678.7 1135.5L679.7 1135.6L680.7 1136.1L681.7 1136.2L682.7 1136.2L683.7 1136.3L684.7 1136.3L685.7 1136.9L686.7 1137.1L687.7 1137.7L688.7 1137.1L689.7 1137.0L690.7 1137.0L691.7 1137.1L692.7 1137.1L693.7 1137.1L694.7 1137.1L695.7 1137.1L696.7 1137.1L697.7 1137.6L698.7 1137.7L699.7 1137.8L700.7 1137.9L701.7 1138.5L702.7 1138.6L703.7 1139.1L704.7 1139.2L705.7 1139.2L706.7 1139.2L707.7 1139.1L708.7 1138.6L709.7 1139.1L710.7 1139.2L711.7 1139.2L712.7 1139.3L713.7 1139.4L714.7 1139.4L715.7 1139.4L716.7 1139.9L717.7 1139.4L718.7 1139.4L719.7 1139.9L720.7 1140.0L721.7 1139.9L722.7 1139.9L723.7 1139.9L724.7 1139.9L725.7 1139.4L726.7 1139.9L727.7 1140.0L728.7 1140.0L729.7 1139.9L730.7 1139.9L731.7 1140.0L732.7 1140.1L733.7 1140.7L734.7 1140.8L735.7 1140.7L736.7 1140.1L737.7 1140.0L738.7 1140.1L739.7 1140.1L740.7 1140.7L741.7 1140.8L742.7 1140.7L743.7 1140.7L744.7 1140.7L745.7 1140.7L746.7 1140.8"/>
</g>
<path d="M132.70 15.20H747.30V516.80" fill="none" stroke="#000" stroke-width="1.3"/>
<path d="M132.70 14.00V516.80H747.95" fill="none" stroke="#000" stroke-width="2.7" stroke-linejoin="miter"/>
<path d="M132.70 516.80h-10.9M132.70 433.20h-10.9M132.70 349.60h-10.9M132.70 266.00h-10.9M132.70 182.40h-10.9M132.70 98.80h-10.9M132.70 15.20h-10.9M132.70 475.00h-6.2M132.70 391.40h-6.2M132.70 307.80h-6.2M132.70 224.20h-6.2M132.70 140.60h-6.2M132.70 57.00h-6.2M171.11 516.80v10.9M363.17 516.80v10.9M555.24 516.80v10.9M747.30 516.80v10.9M267.14 516.80v6.2M459.21 516.80v6.2M651.27 516.80v6.2" fill="none" stroke="#000" stroke-width="2.4"/>
<text x="115.70" y="526.20" text-anchor="end">0</text>
<text x="115.70" y="442.60" text-anchor="end">00</text>
<path d="M76.13 442.60L73.40 442.60L73.40 425.24Q72.42 426.18 70.82 427.12Q69.22 428.05 67.95 428.52L67.95 425.89Q70.24 424.81 71.95 423.29Q73.66 421.76 74.37 420.32L76.13 420.32Z"/>
<text x="115.70" y="359.00" text-anchor="end">200</text>
<text x="115.70" y="275.40" text-anchor="end">300</text>
<text x="115.70" y="191.80" text-anchor="end">400</text>
<text x="115.70" y="108.20" text-anchor="end">500</text>
<text x="115.70" y="24.60" text-anchor="end">600</text>
<text x="171.11" y="557.60" text-anchor="middle">550</text>
<text x="363.17" y="557.60" text-anchor="middle">600</text>
<text x="555.24" y="557.60" text-anchor="middle">650</text>
<text x="747.30" y="557.60" text-anchor="middle">700</text>
<path d="M132.70 643.40H747.30V1145.00" fill="none" stroke="#000" stroke-width="1.3"/>
<path d="M132.70 642.20V1145.00H747.95" fill="none" stroke="#000" stroke-width="2.7" stroke-linejoin="miter"/>
<path d="M132.70 1145.00h-10.9M132.70 1085.99h-10.9M132.70 1026.98h-10.9M132.70 967.96h-10.9M132.70 908.95h-10.9M132.70 849.94h-10.9M132.70 790.93h-10.9M132.70 731.92h-10.9M132.70 672.91h-10.9M132.70 1115.49h-6.2M132.70 1056.48h-6.2M132.70 997.47h-6.2M132.70 938.46h-6.2M132.70 879.45h-6.2M132.70 820.44h-6.2M132.70 761.42h-6.2M132.70 702.41h-6.2M132.70 643.40h-6.2M188.57 1145.00v10.9M328.25 1145.00v10.9M467.94 1145.00v10.9M607.62 1145.00v10.9M747.30 1145.00v10.9M258.41 1145.00v6.2M398.10 1145.00v6.2M537.78 1145.00v6.2M677.46 1145.00v6.2" fill="none" stroke="#000" stroke-width="2.4"/>
<text x="115.70" y="1154.40" text-anchor="end">0</text>
<text x="115.70" y="1095.39" text-anchor="end">200</text>
<text x="115.70" y="1036.38" text-anchor="end">400</text>
<text x="115.70" y="977.36" text-anchor="end">600</text>
<text x="115.70" y="918.35" text-anchor="end">800</text>
<text x="115.70" y="859.34" text-anchor="end">000</text>
<path d="M58.89 859.34L56.16 859.34L56.16 841.98Q55.18 842.92 53.58 843.86Q51.98 844.79 50.71 845.26L50.71 842.63Q53.00 841.56 54.71 840.03Q56.42 838.50 57.13 837.06L58.89 837.06Z"/>
<text x="115.70" y="800.33" text-anchor="end">200</text>
<path d="M58.89 800.33L56.16 800.33L56.16 782.97Q55.18 783.91 53.58 784.84Q51.98 785.78 50.71 786.25L50.71 783.62Q53.00 782.54 54.71 781.01Q56.42 779.49 57.13 778.05L58.89 778.05Z"/>
<text x="115.70" y="741.32" text-anchor="end">400</text>
<path d="M58.89 741.32L56.16 741.32L56.16 723.96Q55.18 724.89 53.58 725.83Q51.98 726.77 50.71 727.24L50.71 724.61Q53.00 723.53 54.71 722.00Q56.42 720.47 57.13 719.04L58.89 719.04Z"/>
<text x="115.70" y="682.31" text-anchor="end">600</text>
<path d="M58.89 682.31L56.16 682.31L56.16 664.94Q55.18 665.88 53.58 666.82Q51.98 667.76 50.71 668.23L50.71 665.59Q53.00 664.52 54.71 662.99Q56.42 661.46 57.13 660.02L58.89 660.02Z"/>
<text x="188.57" y="1185.80" text-anchor="middle">400</text>
<text x="328.25" y="1185.80" text-anchor="middle">450</text>
<text x="467.94" y="1185.80" text-anchor="middle">500</text>
<text x="607.62" y="1185.80" text-anchor="middle">550</text>
<text x="747.30" y="1185.80" text-anchor="middle">600</text>
<text x="440.5" y="608.2" text-anchor="middle">Wavelength (nm)</text>
<text x="440.5" y="1236" text-anchor="middle">Wavelength (nm)</text>
<text transform="translate(24.3 290.7) rotate(-90) scale(1 0.94)" text-anchor="middle">Fluorescence intensity</text>
<text transform="translate(23.4 903.6) rotate(-90) scale(1 0.94)" text-anchor="middle">Fluorescence intensity</text>
<text x="708.8" y="56.8" text-anchor="middle" textLength="44.3">(A)</text>
<text x="700" y="684.6" text-anchor="middle" textLength="44.3">(B)</text>
<path d="M438.10 160.50L438.77 430.00" stroke="#000" stroke-width="1.35" fill="none"/>
<path d="M435.17 428.01L438.80 441.20L442.37 427.99Z" fill="#000" stroke="none"/>
<path d="M434.60 784.70L437.38 1038.00" stroke="#000" stroke-width="1.35" fill="none"/>
<path d="M433.76 1036.04L437.50 1049.20L440.96 1035.96Z" fill="#000" stroke="none"/>
</svg>
</body></html>
